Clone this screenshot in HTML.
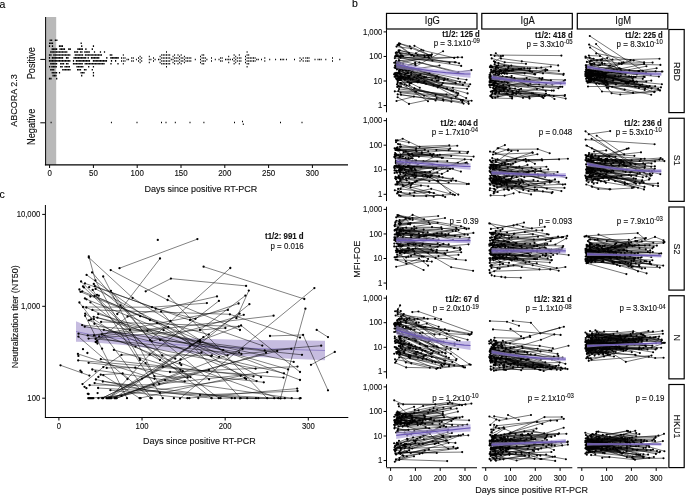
<!DOCTYPE html>
<html><head><meta charset="utf-8"><style>
html,body{margin:0;padding:0;background:#fff;width:685px;height:495px;overflow:hidden}
svg{display:block;font-family:"Liberation Sans", sans-serif}
text{stroke:#111;stroke-width:0.12px}
</style></head><body>
<svg width="685" height="495" viewBox="0 0 685 495">
<rect width="685" height="495" fill="#fff"/>
<g opacity="0.999">
<text x="-0.6" y="7.5" font-size="10.5" text-anchor="start" fill="#000" transform="translate(-0.6 7.5) scale(1 1.1) translate(0.6 -7.5)">a</text>
<text x="352.1" y="7.3" font-size="10.5" text-anchor="start" fill="#000" transform="translate(352.1 7.3) scale(1 1.1) translate(-352.1 -7.3)">b</text>
<text x="-0.6" y="198.4" font-size="10.5" text-anchor="start" fill="#000" transform="translate(-0.6 198.4) scale(1 1.1) translate(0.6 -198.4)">c</text>
<rect x="46" y="17" width="10.2" height="147.6" fill="#b9b9b9"/>
<line x1="45.6" y1="17" x2="45.6" y2="165.3" stroke="#000" stroke-width="1.0"/>
<line x1="44.9" y1="164.9" x2="348" y2="164.9" stroke="#000" stroke-width="1.2"/>
<line x1="40.3" y1="59.4" x2="45" y2="59.4" stroke="#000" stroke-width="1.0"/>
<line x1="40.3" y1="122.8" x2="45" y2="122.8" stroke="#000" stroke-width="1.0"/>
<line x1="49.6" y1="165" x2="49.6" y2="168" stroke="#000" stroke-width="1.0"/>
<text x="49.6" y="176" font-size="7.9" text-anchor="middle" fill="#111" transform="translate(49.6 176) scale(1 1.1) translate(-49.6 -176)">0</text>
<line x1="93.4" y1="165" x2="93.4" y2="168" stroke="#000" stroke-width="1.0"/>
<text x="93.4" y="176" font-size="7.9" text-anchor="middle" fill="#111" transform="translate(93.4 176) scale(1 1.1) translate(-93.4 -176)">50</text>
<line x1="137.2" y1="165" x2="137.2" y2="168" stroke="#000" stroke-width="1.0"/>
<text x="137.2" y="176" font-size="7.9" text-anchor="middle" fill="#111" transform="translate(137.2 176) scale(1 1.1) translate(-137.2 -176)">100</text>
<line x1="181" y1="165" x2="181" y2="168" stroke="#000" stroke-width="1.0"/>
<text x="181" y="176" font-size="7.9" text-anchor="middle" fill="#111" transform="translate(181 176) scale(1 1.1) translate(-181 -176)">150</text>
<line x1="224.8" y1="165" x2="224.8" y2="168" stroke="#000" stroke-width="1.0"/>
<text x="224.8" y="176" font-size="7.9" text-anchor="middle" fill="#111" transform="translate(224.8 176) scale(1 1.1) translate(-224.8 -176)">200</text>
<line x1="268.6" y1="165" x2="268.6" y2="168" stroke="#000" stroke-width="1.0"/>
<text x="268.6" y="176" font-size="7.9" text-anchor="middle" fill="#111" transform="translate(268.6 176) scale(1 1.1) translate(-268.6 -176)">250</text>
<line x1="312.4" y1="165" x2="312.4" y2="168" stroke="#000" stroke-width="1.0"/>
<text x="312.4" y="176" font-size="7.9" text-anchor="middle" fill="#111" transform="translate(312.4 176) scale(1 1.1) translate(-312.4 -176)">300</text>
<text x="200.9" y="192" font-size="9" text-anchor="middle" fill="#111" transform="translate(200.9 192) scale(1 1.1) translate(-200.9 -192)">Days since positive RT-PCR</text>
<text x="35.1" y="63.2" font-size="9.2" text-anchor="middle" fill="#111" transform="rotate(-90 35.1 63.2) translate(35.1 63.2) scale(1 1.1) translate(-35.1 -63.2)">Positive</text>
<text x="34.8" y="126.8" font-size="9.2" text-anchor="middle" fill="#111" transform="rotate(-90 34.8 126.8) translate(34.8 126.8) scale(1 1.1) translate(-34.8 -126.8)">Negative</text>
<text x="17.1" y="100.5" font-size="9" text-anchor="middle" fill="#111" transform="rotate(-90 17.1 100.5) translate(17.1 100.5) scale(1 1.1) translate(-17.1 -100.5)">ABCORA 2.3</text>
<path d="M49.58 40.2h1.24M51.03 40.2h1.24M54.78 40.2h1.24M56.23 40.2h1.24M48.98 43.2h1.24M50.43 43.2h1.24M51.88 43.2h1.24M80.58 43.2h1.24M48.88 46.1h1.24M51.88 46.1h1.24M58.88 46.1h1.24M60.33 46.1h1.24M61.78 46.1h1.24M81.08 46.1h1.24M92.83 46.1h1.24M51.63 49.1h1.24M53.08 49.1h1.24M54.53 49.1h1.24M55.98 49.1h1.24M59.48 49.1h1.24M60.93 49.1h1.24M62.38 49.1h1.24M63.83 49.1h1.24M68.18 49.1h1.24M69.63 49.1h1.24M77.33 49.1h1.24M78.78 49.1h1.24M80.23 49.1h1.24M81.68 49.1h1.24M85.28 49.1h1.24M91.68 49.1h1.24M50.18 52.0h1.24M51.63 52.0h1.24M53.08 52.0h1.24M54.53 52.0h1.24M55.98 52.0h1.24M57.43 52.0h1.24M58.88 52.0h1.24M60.33 52.0h1.24M61.78 52.0h1.24M63.23 52.0h1.24M64.68 52.0h1.24M66.13 52.0h1.24M74.08 52.0h1.24M75.53 52.0h1.24M76.98 52.0h1.24M79.88 52.0h1.24M81.33 52.0h1.24M84.23 52.0h1.24M85.68 52.0h1.24M87.13 52.0h1.24M88.58 52.0h1.24M93.88 52.0h1.24M99.83 52.0h1.24M103.88 52.0h1.24M48.88 55.0h1.24M50.33 55.0h1.24M53.23 55.0h1.24M54.68 55.0h1.24M56.13 55.0h1.24M57.58 55.0h1.24M59.03 55.0h1.24M60.48 55.0h1.24M61.93 55.0h1.24M63.38 55.0h1.24M64.83 55.0h1.24M66.28 55.0h1.24M67.73 55.0h1.24M69.18 55.0h1.24M74.68 55.0h1.24M76.13 55.0h1.24M77.58 55.0h1.24M79.03 55.0h1.24M80.48 55.0h1.24M81.93 55.0h1.24M84.83 55.0h1.24M86.28 55.0h1.24M87.73 55.0h1.24M89.18 55.0h1.24M90.63 55.0h1.24M92.08 55.0h1.24M93.53 55.0h1.24M94.98 55.0h1.24M96.43 55.0h1.24M97.88 55.0h1.24M99.33 55.0h1.24M100.78 55.0h1.24M109.68 55.0h1.24M111.13 55.0h1.24M48.88 57.9h1.24M51.78 57.9h1.24M53.23 57.9h1.24M54.68 57.9h1.24M56.13 57.9h1.24M57.58 57.9h1.24M59.03 57.9h1.24M60.48 57.9h1.24M61.93 57.9h1.24M65.88 57.9h1.24M67.33 57.9h1.24M73.48 57.9h1.24M74.93 57.9h1.24M76.38 57.9h1.24M77.83 57.9h1.24M79.28 57.9h1.24M80.73 57.9h1.24M82.18 57.9h1.24M83.63 57.9h1.24M85.08 57.9h1.24M87.58 57.9h1.24M90.88 57.9h1.24M92.33 57.9h1.24M93.78 57.9h1.24M95.23 57.9h1.24M96.68 57.9h1.24M98.13 57.9h1.24M106.18 57.9h1.24M110.28 57.9h1.24M111.73 57.9h1.24M113.18 57.9h1.24M114.63 57.9h1.24M116.08 57.9h1.24M117.53 57.9h1.24M48.88 60.9h1.24M50.33 60.9h1.24M51.78 60.9h1.24M53.23 60.9h1.24M54.68 60.9h1.24M56.13 60.9h1.24M57.58 60.9h1.24M59.03 60.9h1.24M60.48 60.9h1.24M61.93 60.9h1.24M63.38 60.9h1.24M64.83 60.9h1.24M66.28 60.9h1.24M67.73 60.9h1.24M69.18 60.9h1.24M72.88 60.9h1.24M75.78 60.9h1.24M77.23 60.9h1.24M78.68 60.9h1.24M80.13 60.9h1.24M81.58 60.9h1.24M83.03 60.9h1.24M84.48 60.9h1.24M85.93 60.9h1.24M87.38 60.9h1.24M88.83 60.9h1.24M92.78 60.9h1.24M94.23 60.9h1.24M95.68 60.9h1.24M97.13 60.9h1.24M98.58 60.9h1.24M100.03 60.9h1.24M101.48 60.9h1.24M102.93 60.9h1.24M104.38 60.9h1.24M105.83 60.9h1.24M110.88 60.9h1.24M114.98 60.9h1.24M50.18 63.8h1.24M51.63 63.8h1.24M53.08 63.8h1.24M54.53 63.8h1.24M55.98 63.8h1.24M60.08 63.8h1.24M61.53 63.8h1.24M62.98 63.8h1.24M65.88 63.8h1.24M67.33 63.8h1.24M72.88 63.8h1.24M74.33 63.8h1.24M75.78 63.8h1.24M77.23 63.8h1.24M78.68 63.8h1.24M80.13 63.8h1.24M81.58 63.8h1.24M84.58 63.8h1.24M86.03 63.8h1.24M87.48 63.8h1.24M88.93 63.8h1.24M90.38 63.8h1.24M91.83 63.8h1.24M93.28 63.8h1.24M94.73 63.8h1.24M96.18 63.8h1.24M97.63 63.8h1.24M99.08 63.8h1.24M100.53 63.8h1.24M101.98 63.8h1.24M103.43 63.8h1.24M110.38 63.8h1.24M117.38 63.8h1.24M49.03 66.8h1.24M51.28 66.8h1.24M52.73 66.8h1.24M54.18 66.8h1.24M55.63 66.8h1.24M60.08 66.8h1.24M61.53 66.8h1.24M64.43 66.8h1.24M65.88 66.8h1.24M67.33 66.8h1.24M68.78 66.8h1.24M76.38 66.8h1.24M77.83 66.8h1.24M79.28 66.8h1.24M80.73 66.8h1.24M82.18 66.8h1.24M88.08 66.8h1.24M92.83 66.8h1.24M50.18 69.7h1.24M51.63 69.7h1.24M53.08 69.7h1.24M62.13 69.7h1.24M63.58 69.7h1.24M65.03 69.7h1.24M66.48 69.7h1.24M67.93 69.7h1.24M69.38 69.7h1.24M76.98 69.7h1.24M78.43 69.7h1.24M79.88 69.7h1.24M83.88 69.7h1.24M85.33 69.7h1.24M91.68 69.7h1.24M51.63 72.7h1.24M53.08 72.7h1.24M54.53 72.7h1.24M55.98 72.7h1.24M58.88 72.7h1.24M80.48 72.7h1.24M81.93 72.7h1.24M83.38 72.7h1.24M92.83 72.7h1.24M52.48 75.6h1.24M53.93 75.6h1.24M55.38 75.6h1.24M81.08 75.6h1.24M92.83 75.6h1.24M48.88 78.6h1.24M50.33 78.6h1.24M56.08 78.6h1.24" stroke="#000" stroke-width="1.6" fill="none"/>
<path d="M121.00 57.9h1.0M121.00 60.9h1.0M122.80 55.0h1.0M122.80 57.9h1.0M122.80 60.9h1.0M122.80 63.8h1.0M124.50 57.9h1.0M124.50 60.9h1.0M126.50 59.4h1.0M128.10 59.4h1.0M131.20 57.9h1.0M131.20 60.9h1.0M132.80 57.9h1.0M132.80 60.9h1.0M135.90 59.4h1.0M138.00 57.9h1.0M138.00 60.9h1.0M139.60 56.4h1.0M139.60 59.4h1.0M139.60 62.4h1.0M141.20 57.9h1.0M141.20 60.9h1.0M148.80 56.4h1.0M148.80 59.4h1.0M148.80 62.4h1.0M150.40 59.4h1.0M153.00 57.9h1.0M153.00 60.9h1.0M154.60 59.4h1.0M158.00 59.4h1.0M159.60 56.4h1.0M159.60 59.4h1.0M159.60 62.4h1.0M161.20 55.0h1.0M161.20 57.9h1.0M161.20 60.9h1.0M161.20 63.8h1.0M162.80 55.0h1.0M162.80 57.9h1.0M162.80 60.9h1.0M162.80 63.8h1.0M164.40 55.0h1.0M164.40 57.9h1.0M164.40 60.9h1.0M164.40 63.8h1.0M166.00 52.0h1.0M166.00 55.0h1.0M166.00 57.9h1.0M166.00 60.9h1.0M166.00 63.8h1.0M166.00 66.8h1.0M167.60 55.0h1.0M167.60 57.9h1.0M167.60 60.9h1.0M167.60 63.8h1.0M169.20 55.0h1.0M169.20 57.9h1.0M169.20 60.9h1.0M169.20 63.8h1.0M170.80 59.4h1.0M172.50 56.4h1.0M172.50 59.4h1.0M172.50 62.4h1.0M174.10 55.0h1.0M174.10 57.9h1.0M174.10 60.9h1.0M174.10 63.8h1.0M175.70 57.9h1.0M175.70 60.9h1.0M177.50 55.0h1.0M177.50 57.9h1.0M177.50 60.9h1.0M177.50 63.8h1.0M179.10 56.4h1.0M179.10 59.4h1.0M179.10 62.4h1.0M180.70 55.0h1.0M180.70 57.9h1.0M180.70 60.9h1.0M180.70 63.8h1.0M182.30 57.9h1.0M182.30 60.9h1.0M183.90 56.4h1.0M183.90 59.4h1.0M183.90 62.4h1.0M185.50 57.9h1.0M185.50 60.9h1.0M187.10 57.9h1.0M187.10 60.9h1.0M188.70 57.9h1.0M188.70 60.9h1.0M190.30 57.9h1.0M190.30 60.9h1.0M194.80 59.4h1.0M200.00 56.4h1.0M200.00 59.4h1.0M200.00 62.4h1.0M201.60 55.0h1.0M201.60 57.9h1.0M201.60 60.9h1.0M201.60 63.8h1.0M203.20 55.0h1.0M203.20 57.9h1.0M203.20 60.9h1.0M203.20 63.8h1.0M204.80 57.9h1.0M204.80 60.9h1.0M206.40 59.4h1.0M211.00 57.9h1.0M211.00 60.9h1.0M214.80 59.4h1.0M218.50 59.4h1.0M220.10 57.9h1.0M220.10 60.9h1.0M221.70 57.9h1.0M221.70 60.9h1.0M225.00 59.4h1.0M226.60 59.4h1.0M228.20 56.4h1.0M228.20 59.4h1.0M228.20 62.4h1.0M229.80 59.4h1.0M232.00 59.4h1.0M233.60 55.0h1.0M233.60 57.9h1.0M233.60 60.9h1.0M233.60 63.8h1.0M235.20 56.4h1.0M235.20 59.4h1.0M235.20 62.4h1.0M236.80 57.9h1.0M236.80 60.9h1.0M238.80 55.0h1.0M238.80 57.9h1.0M238.80 60.9h1.0M238.80 63.8h1.0M240.40 57.9h1.0M240.40 60.9h1.0M245.00 56.4h1.0M245.00 59.4h1.0M245.00 62.4h1.0M246.60 52.0h1.0M246.60 55.0h1.0M246.60 57.9h1.0M246.60 60.9h1.0M246.60 63.8h1.0M246.60 66.8h1.0M248.20 55.0h1.0M248.20 57.9h1.0M248.20 60.9h1.0M248.20 63.8h1.0M249.80 57.9h1.0M249.80 60.9h1.0M251.40 57.9h1.0M251.40 60.9h1.0M253.00 57.9h1.0M253.00 60.9h1.0M254.60 57.9h1.0M254.60 60.9h1.0M256.20 59.4h1.0M257.80 59.4h1.0M261.00 59.4h1.0M264.30 57.9h1.0M264.30 60.9h1.0M269.20 59.4h1.0M275.10 59.4h1.0M280.00 59.4h1.0M281.60 59.4h1.0M283.20 59.4h1.0M285.90 59.4h1.0M294.00 59.4h1.0M299.50 57.9h1.0M299.50 60.9h1.0M301.10 59.4h1.0M302.70 57.9h1.0M302.70 60.9h1.0M305.30 57.9h1.0M305.30 60.9h1.0M306.90 57.9h1.0M306.90 60.9h1.0M308.50 57.9h1.0M308.50 60.9h1.0M314.50 59.4h1.0M317.50 59.4h1.0M319.10 59.4h1.0M320.70 59.4h1.0M325.30 59.4h1.0M332.00 57.9h1.0M332.00 60.9h1.0M339.30 59.4h1.0M50.60 122.6h1.0M110.90 122.6h1.0M136.50 122.6h1.0M161.00 122.6h1.0M165.50 122.6h1.0M174.80 122.6h1.0M189.50 122.6h1.0M203.40 122.6h1.0M234.00 122.6h1.0M280.00 122.6h1.0M301.50 122.6h1.0M242.00 121.6h1.0M242.80 124.2h1.0" stroke="#000" stroke-width="1.5" fill="none"/>
<line x1="45.4" y1="205" x2="45.4" y2="417.5" stroke="#000" stroke-width="1.0"/>
<line x1="44.9" y1="417.5" x2="348.3" y2="417.5" stroke="#000" stroke-width="1.1"/>
<line x1="42.2" y1="214.4" x2="45" y2="214.4" stroke="#000" stroke-width="1.0"/>
<text x="40.2" y="217.1" font-size="7.7" text-anchor="end" fill="#111" transform="translate(40.2 217.1) scale(1 1.1) translate(-40.2 -217.1)">10,000</text>
<line x1="42.2" y1="306.3" x2="45" y2="306.3" stroke="#000" stroke-width="1.0"/>
<text x="40.2" y="309" font-size="7.7" text-anchor="end" fill="#111" transform="translate(40.2 309) scale(1 1.1) translate(-40.2 -309)">1,000</text>
<line x1="42.2" y1="398.2" x2="45" y2="398.2" stroke="#000" stroke-width="1.0"/>
<text x="40.2" y="400.9" font-size="7.7" text-anchor="end" fill="#111" transform="translate(40.2 400.9) scale(1 1.1) translate(-40.2 -400.9)">100</text>
<line x1="58.9" y1="417.5" x2="58.9" y2="420.5" stroke="#000" stroke-width="1.0"/>
<text x="58.9" y="428.9" font-size="7.7" text-anchor="middle" fill="#111" transform="translate(58.9 428.9) scale(1 1.1) translate(-58.9 -428.9)">0</text>
<line x1="142.03" y1="417.5" x2="142.03" y2="420.5" stroke="#000" stroke-width="1.0"/>
<text x="142.03" y="428.9" font-size="7.7" text-anchor="middle" fill="#111" transform="translate(142.03 428.9) scale(1 1.1) translate(-142.03 -428.9)">100</text>
<line x1="225.16" y1="417.5" x2="225.16" y2="420.5" stroke="#000" stroke-width="1.0"/>
<text x="225.16" y="428.9" font-size="7.7" text-anchor="middle" fill="#111" transform="translate(225.16 428.9) scale(1 1.1) translate(-225.16 -428.9)">200</text>
<line x1="308.29" y1="417.5" x2="308.29" y2="420.5" stroke="#000" stroke-width="1.0"/>
<text x="308.29" y="428.9" font-size="7.7" text-anchor="middle" fill="#111" transform="translate(308.29 428.9) scale(1 1.1) translate(-308.29 -428.9)">300</text>
<text x="199.4" y="443.6" font-size="9" text-anchor="middle" fill="#111" transform="translate(199.4 443.6) scale(1 1.1) translate(-199.4 -443.6)">Days since positive RT-PCR</text>
<text x="17.6" y="316.7" font-size="9" text-anchor="middle" fill="#111" transform="rotate(-90 17.6 316.7) translate(17.6 316.7) scale(1 1.1) translate(-17.6 -316.7)">Neutralization titer (NT50)</text>
<polygon points="76,321.2 90,327 100,329.7 130,333.5 150,335.5 175,337.3 200,338.7 250,340 290,340.3 325,340.7 325,360.3 290,358.7 250,356.6 200,353.9 175,351.7 150,348.5 130,345.5 100,342.9 90,342 76,341.8" fill="#c6bce0"/>
<polyline points="76,331.5 90,334.5 100,336.3 130,339.5 150,342 175,344.5 200,346.3 250,348.3 290,349.5 325,350.5" fill="none" stroke="#7d6bbd" stroke-width="0.7"/>
<path d="M86.3 307.5L256.6 381.1M103.8 329.8L211.2 356.1M211.2 356.1L284 373.3M92.4 309.9L229.9 314.3M229.9 314.3L300 337.6M92.1 272.4L120.5 305.4M120.5 305.4L151.8 341.3M151.8 341.3L243.8 314.8M78.5 333.7L255.6 368.7M139.7 358.7L145.6 363.1M145.6 363.1L159.2 384M159.2 384L267.3 372.2M94 335.5L170.5 321M170.5 321L227.9 309.9M102.2 398.2L180.6 359.4M180.6 359.4L249.4 304.2M94.5 295.9L157.1 323M157.1 323L246.2 379M101.8 334.4L181.3 365M88.3 398.2L121.5 395.9M121.5 395.9L182.7 371M109.7 398.2L149.7 354.5M149.7 354.5L218.9 300.9M111.5 398.2L165.1 380.2M165.1 380.2L277.2 351M77.9 353.9L154.5 378.8M114.5 398.2L198 341.5M198 341.5L241.1 325.5M241.1 325.5L300 372M82.1 325.1L147.4 330.9M147.4 330.9L293.7 361.9M80.5 291.8L140.2 316.2M140.2 316.2L208.8 334.6M95.7 342L127.6 316.5M127.6 316.5L217 296.4M85.2 313.7L135.5 346.6M135.5 346.6L190.4 377.1M103.3 375.2L139.6 398.2M139.6 398.2L240.7 375.8M94.8 286.2L155.7 308.6M155.7 308.6L195.5 318.8M101.1 321.9L238.8 326.5M109.3 398.2L266 352.8M88.6 338.6L225.4 328M93.7 316.8L200 341.5M200 341.5L300 380M97.4 317.7L227.6 355.3M94.6 383.1L211.4 398.2M211.4 398.2L284.8 398.2M106.6 398.2L189.8 346.4M189.8 346.4L239.6 313.7M78.2 360.4L283.5 377.6M103.2 276.5L154.4 376.2M154.4 376.2L187.7 377.5M95.6 288.9L261 377.2M108.2 398.2L162.9 366.7M162.9 366.7L201.5 352.4M93.8 283.9L209.1 379.3M95.6 338.9L241.4 354M241.4 354L291.3 348.8M100.8 359.2L253.5 376.4M98.2 314.1L288.1 369.4M89 320.3L175.3 358.7M100.7 374.7L122.6 373.5M122.6 373.5L150.5 398.2M110.9 290.8L162.2 355.5M162.2 355.5L218.8 398.2M82.5 384.1L103.3 367.1M103.3 367.1L121.5 354.9M121.5 354.9L211.9 355.3M98.4 398.2L244.8 378M106.7 367.9L135.3 367.7M135.3 367.7L184.7 381.4M78.4 336.6L127.5 379M86.5 299.3L163.6 330.2M163.6 330.2L219.1 356.8M89.6 385.2L153.5 384.8M95.9 379.5L159.9 392.8M159.9 392.8L256 398.2M84.7 326.7L239.2 352.4M99.1 336.3L273.6 315.7M87.7 335.4L168.2 327.2M98.1 388L274.2 398.2M113.9 349.9L180.4 369.8M102.8 381.5L234.9 398.2M85 283.4L262.3 345.6M88.6 362.8L263.8 382.3M115.9 398.2L208.9 369.9M102.2 398.2L142 378.6M142 378.6L203.4 337.2M82.3 291.3L223.2 350.1M110.4 390.2L187.4 398.2M187.4 398.2L297.2 388.6M83 307L152 307.2M152 307.2L206.9 303.1M116.7 398.2L242.6 349M85.1 315.8L127 398.2M79.4 302.5L151.7 398.2M92.7 289.9L162.8 398.2M90.4 302.3L211.7 398.2M161.1 311.6L240.6 398.2M168.8 296.2L267.2 398.2M179.8 362.9L278.3 398.2M92.3 369.5L291.7 398.2M119.5 268.2L197.4 239.1M117.3 314L160 258.5M88.8 256.3L95.4 280.4M95.4 280.4L140 360M88.8 257.5L132.6 297.9M132.6 297.9L200 340M110.7 270.1L167.6 300M167.6 300L240 330M145.7 291.3L170.9 278.6M170.9 278.6L246.1 285.9M203.6 266.7L304.3 299M150 340L230.3 268M248.8 290.6L236.4 318.2M316.7 329.9L328 337.1M270 336L303.1 334.9M303.1 334.9L328 390.3M311 364.8L334.8 351.9M200 342L264.7 350.3M264.7 350.3L321.2 345.7M180 398.4L314.4 288.1M305.4 308.7L280.5 398.4M200 330L245.4 295.6M190 320L238.6 303.5M160 340L302 354.8M170 372L297.5 366.6M200 395L297.5 391M240 398.4L299.7 398.4M86.6 274.9L150 320M81.1 281.5L130 330M84 287.4L160 360M60.5 365.3L89.4 375.6" stroke="#000" stroke-width="0.5" fill="none"/>
<path d="M86.3 307.5h0M256.6 381.1h0M103.8 329.8h0M211.2 356.1h0M284 373.3h0M92.4 309.9h0M229.9 314.3h0M300 337.6h0M92.1 272.4h0M120.5 305.4h0M151.8 341.3h0M243.8 314.8h0M78.5 333.7h0M255.6 368.7h0M139.7 358.7h0M145.6 363.1h0M159.2 384h0M267.3 372.2h0M94 335.5h0M170.5 321h0M227.9 309.9h0M102.2 398.2h0M180.6 359.4h0M249.4 304.2h0M94.5 295.9h0M157.1 323h0M246.2 379h0M101.8 334.4h0M181.3 365h0M88.3 398.2h0M121.5 395.9h0M182.7 371h0M109.7 398.2h0M149.7 354.5h0M218.9 300.9h0M111.5 398.2h0M165.1 380.2h0M277.2 351h0M77.9 353.9h0M154.5 378.8h0M114.5 398.2h0M198 341.5h0M241.1 325.5h0M300 372h0M82.1 325.1h0M147.4 330.9h0M293.7 361.9h0M80.5 291.8h0M140.2 316.2h0M208.8 334.6h0M95.7 342h0M127.6 316.5h0M217 296.4h0M85.2 313.7h0M135.5 346.6h0M190.4 377.1h0M103.3 375.2h0M139.6 398.2h0M240.7 375.8h0M94.8 286.2h0M155.7 308.6h0M195.5 318.8h0M101.1 321.9h0M238.8 326.5h0M109.3 398.2h0M266 352.8h0M88.6 338.6h0M225.4 328h0M93.7 316.8h0M200 341.5h0M300 380h0M97.4 317.7h0M227.6 355.3h0M94.6 383.1h0M211.4 398.2h0M284.8 398.2h0M106.6 398.2h0M189.8 346.4h0M239.6 313.7h0M78.2 360.4h0M283.5 377.6h0M103.2 276.5h0M154.4 376.2h0M187.7 377.5h0M95.6 288.9h0M261 377.2h0M108.2 398.2h0M162.9 366.7h0M201.5 352.4h0M93.8 283.9h0M209.1 379.3h0M95.6 338.9h0M241.4 354h0M291.3 348.8h0M100.8 359.2h0M253.5 376.4h0M98.2 314.1h0M288.1 369.4h0M89 320.3h0M175.3 358.7h0M100.7 374.7h0M122.6 373.5h0M150.5 398.2h0M110.9 290.8h0M162.2 355.5h0M218.8 398.2h0M82.5 384.1h0M103.3 367.1h0M121.5 354.9h0M211.9 355.3h0M98.4 398.2h0M244.8 378h0M106.7 367.9h0M135.3 367.7h0M184.7 381.4h0M78.4 336.6h0M127.5 379h0M86.5 299.3h0M163.6 330.2h0M219.1 356.8h0M89.6 385.2h0M153.5 384.8h0M95.9 379.5h0M159.9 392.8h0M256 398.2h0M84.7 326.7h0M239.2 352.4h0M99.1 336.3h0M273.6 315.7h0M87.7 335.4h0M168.2 327.2h0M98.1 388h0M274.2 398.2h0M113.9 349.9h0M180.4 369.8h0M102.8 381.5h0M234.9 398.2h0M85 283.4h0M262.3 345.6h0M88.6 362.8h0M263.8 382.3h0M115.9 398.2h0M208.9 369.9h0M102.2 398.2h0M142 378.6h0M203.4 337.2h0M82.3 291.3h0M223.2 350.1h0M110.4 390.2h0M187.4 398.2h0M297.2 388.6h0M83 307h0M152 307.2h0M206.9 303.1h0M116.7 398.2h0M242.6 349h0M127 398.2h0M85.1 315.8h0M140.6 398.2h0M151.7 398.2h0M79.4 302.5h0M162.8 398.2h0M92.7 289.9h0M173.9 398.2h0M189.4 398.2h0M198.3 398.2h0M211.7 398.2h0M90.4 302.3h0M220.6 398.2h0M231.7 398.2h0M240.6 398.2h0M161.1 311.6h0M247.2 398.2h0M258.3 398.2h0M267.2 398.2h0M168.8 296.2h0M278.3 398.2h0M179.8 362.9h0M291.7 398.2h0M92.3 369.5h0M300.6 398.2h0M110.6 398.2h0M89.7 398.2h0M106.5 398.2h0M93.3 398.2h0M90.9 398.2h0M115.7 398.2h0M92.1 398.2h0M103.2 398.2h0M103.2 398.2h0M102.3 398.2h0M78.4 355.9h0M87.8 393.8h0M94.4 323.8h0M97.6 393.1h0M83 286.5h0M84.9 298.4h0M102.1 348.7h0M83 349.2h0M84.5 386.8h0M80.4 370.7h0M97.4 343.5h0M88.6 394h0M89.2 287.2h0M79.4 289.5h0M81.6 372.2h0M90.4 296.5h0M93.9 319.1h0M91 319.5h0M95.5 371.3h0M86.4 388.2h0M87.4 353h0M98.8 295.7h0M97 294.8h0M98.4 376.9h0M97.1 341h0M157.8 239.9h0M119.5 268.2h0M197.4 239.1h0M117.3 314h0M160 258.5h0M88.8 256.3h0M95.4 280.4h0M140 360h0M88.8 257.5h0M132.6 297.9h0M200 340h0M110.7 270.1h0M167.6 300h0M240 330h0M145.7 291.3h0M170.9 278.6h0M246.1 285.9h0M203.6 266.7h0M304.3 299h0M150 340h0M230.3 268h0M248.8 290.6h0M236.4 318.2h0M316.7 329.9h0M328 337.1h0M270 336h0M303.1 334.9h0M328 390.3h0M311 364.8h0M334.8 351.9h0M200 342h0M264.7 350.3h0M321.2 345.7h0M180 398.4h0M314.4 288.1h0M305.4 308.7h0M280.5 398.4h0M200 330h0M245.4 295.6h0M190 320h0M238.6 303.5h0M160 340h0M302 354.8h0M170 372h0M297.5 366.6h0M200 395h0M297.5 391h0M240 398.4h0M299.7 398.4h0M86.6 274.9h0M150 320h0M81.1 281.5h0M130 330h0M84 287.4h0M160 360h0M60.5 365.3h0M89.4 375.6h0" stroke="#000" stroke-width="2.3" stroke-linecap="round" fill="none"/>
<text x="303.7" y="239.3" font-size="7.9" text-anchor="end" font-weight="bold" fill="#111" transform="translate(303.7 239.3) scale(1 1.1) translate(-303.7 -239.3)">t1/2: 991 d</text>
<text x="303.7" y="249.1" font-size="7.9" text-anchor="end" fill="#111" transform="translate(303.7 249.1) scale(1 1.1) translate(-303.7 -249.1)">p = 0.016</text>
<rect x="386.5" y="13.4" width="90.5" height="15.6" fill="#fff" stroke="#000" stroke-width="1.2"/>
<text x="432.35" y="23.8" font-size="9.4" text-anchor="middle" fill="#111" transform="translate(432.35 23.8) scale(1 1.1) translate(-432.35 -23.8)">IgG</text>
<rect x="481.8" y="13.4" width="90.5" height="15.6" fill="#fff" stroke="#000" stroke-width="1.2"/>
<text x="527.65" y="23.8" font-size="9.4" text-anchor="middle" fill="#111" transform="translate(527.65 23.8) scale(1 1.1) translate(-527.65 -23.8)">IgA</text>
<rect x="577.3" y="13.4" width="90.5" height="15.6" fill="#fff" stroke="#000" stroke-width="1.2"/>
<text x="623.15" y="23.8" font-size="9.4" text-anchor="middle" fill="#111" transform="translate(623.15 23.8) scale(1 1.1) translate(-623.15 -23.8)">IgM</text>
<rect x="668.9" y="29.5" width="15.3" height="83.1" fill="#fff" stroke="#000" stroke-width="1.2"/>
<text x="674" y="71.55" font-size="9" text-anchor="middle" fill="#111" transform="rotate(90 674 71.55) translate(674 71.55) scale(1 1.1) translate(-674 -71.55)">RBD</text>
<rect x="668.9" y="118.25" width="15.3" height="83.1" fill="#fff" stroke="#000" stroke-width="1.2"/>
<text x="674" y="160.3" font-size="9" text-anchor="middle" fill="#111" transform="rotate(90 674 160.3) translate(674 160.3) scale(1 1.1) translate(-674 -160.3)">S1</text>
<rect x="668.9" y="207" width="15.3" height="83.1" fill="#fff" stroke="#000" stroke-width="1.2"/>
<text x="674" y="249.05" font-size="9" text-anchor="middle" fill="#111" transform="rotate(90 674 249.05) translate(674 249.05) scale(1 1.1) translate(-674 -249.05)">S2</text>
<rect x="668.9" y="295.75" width="15.3" height="83.1" fill="#fff" stroke="#000" stroke-width="1.2"/>
<text x="674" y="337.8" font-size="9" text-anchor="middle" fill="#111" transform="rotate(90 674 337.8) translate(674 337.8) scale(1 1.1) translate(-674 -337.8)">N</text>
<rect x="668.9" y="384.5" width="15.3" height="83.1" fill="#fff" stroke="#000" stroke-width="1.2"/>
<text x="674" y="426.55" font-size="9" text-anchor="middle" fill="#111" transform="rotate(90 674 426.55) translate(674 426.55) scale(1 1.1) translate(-674 -426.55)">HKU1</text>
<line x1="386.5" y1="29.2" x2="386.5" y2="112.3" stroke="#000" stroke-width="1.0"/>
<line x1="383.6" y1="31.9" x2="386.2" y2="31.9" stroke="#000" stroke-width="1.0"/>
<text x="382.2" y="34.6" font-size="7.7" text-anchor="end" fill="#111" transform="translate(382.2 34.6) scale(1 1.1) translate(-382.2 -34.6)">1,000</text>
<line x1="383.6" y1="56.45" x2="386.2" y2="56.45" stroke="#000" stroke-width="1.0"/>
<text x="382.2" y="59.15" font-size="7.7" text-anchor="end" fill="#111" transform="translate(382.2 59.15) scale(1 1.1) translate(-382.2 -59.15)">100</text>
<line x1="383.6" y1="81" x2="386.2" y2="81" stroke="#000" stroke-width="1.0"/>
<text x="382.2" y="83.7" font-size="7.7" text-anchor="end" fill="#111" transform="translate(382.2 83.7) scale(1 1.1) translate(-382.2 -83.7)">10</text>
<line x1="383.6" y1="105.55" x2="386.2" y2="105.55" stroke="#000" stroke-width="1.0"/>
<text x="382.2" y="108.25" font-size="7.7" text-anchor="end" fill="#111" transform="translate(382.2 108.25) scale(1 1.1) translate(-382.2 -108.25)">1</text>
<line x1="386.5" y1="117.95" x2="386.5" y2="201.05" stroke="#000" stroke-width="1.0"/>
<line x1="383.6" y1="120.65" x2="386.2" y2="120.65" stroke="#000" stroke-width="1.0"/>
<text x="382.2" y="123.35" font-size="7.7" text-anchor="end" fill="#111" transform="translate(382.2 123.35) scale(1 1.1) translate(-382.2 -123.35)">1,000</text>
<line x1="383.6" y1="145.2" x2="386.2" y2="145.2" stroke="#000" stroke-width="1.0"/>
<text x="382.2" y="147.9" font-size="7.7" text-anchor="end" fill="#111" transform="translate(382.2 147.9) scale(1 1.1) translate(-382.2 -147.9)">100</text>
<line x1="383.6" y1="169.75" x2="386.2" y2="169.75" stroke="#000" stroke-width="1.0"/>
<text x="382.2" y="172.45" font-size="7.7" text-anchor="end" fill="#111" transform="translate(382.2 172.45) scale(1 1.1) translate(-382.2 -172.45)">10</text>
<line x1="383.6" y1="194.3" x2="386.2" y2="194.3" stroke="#000" stroke-width="1.0"/>
<text x="382.2" y="197" font-size="7.7" text-anchor="end" fill="#111" transform="translate(382.2 197) scale(1 1.1) translate(-382.2 -197)">1</text>
<line x1="386.5" y1="206.7" x2="386.5" y2="289.8" stroke="#000" stroke-width="1.0"/>
<line x1="383.6" y1="209.4" x2="386.2" y2="209.4" stroke="#000" stroke-width="1.0"/>
<text x="382.2" y="212.1" font-size="7.7" text-anchor="end" fill="#111" transform="translate(382.2 212.1) scale(1 1.1) translate(-382.2 -212.1)">1,000</text>
<line x1="383.6" y1="233.95" x2="386.2" y2="233.95" stroke="#000" stroke-width="1.0"/>
<text x="382.2" y="236.65" font-size="7.7" text-anchor="end" fill="#111" transform="translate(382.2 236.65) scale(1 1.1) translate(-382.2 -236.65)">100</text>
<line x1="383.6" y1="258.5" x2="386.2" y2="258.5" stroke="#000" stroke-width="1.0"/>
<text x="382.2" y="261.2" font-size="7.7" text-anchor="end" fill="#111" transform="translate(382.2 261.2) scale(1 1.1) translate(-382.2 -261.2)">10</text>
<line x1="383.6" y1="283.05" x2="386.2" y2="283.05" stroke="#000" stroke-width="1.0"/>
<text x="382.2" y="285.75" font-size="7.7" text-anchor="end" fill="#111" transform="translate(382.2 285.75) scale(1 1.1) translate(-382.2 -285.75)">1</text>
<line x1="386.5" y1="295.45" x2="386.5" y2="378.55" stroke="#000" stroke-width="1.0"/>
<line x1="383.6" y1="298.15" x2="386.2" y2="298.15" stroke="#000" stroke-width="1.0"/>
<text x="382.2" y="300.85" font-size="7.7" text-anchor="end" fill="#111" transform="translate(382.2 300.85) scale(1 1.1) translate(-382.2 -300.85)">1,000</text>
<line x1="383.6" y1="322.7" x2="386.2" y2="322.7" stroke="#000" stroke-width="1.0"/>
<text x="382.2" y="325.4" font-size="7.7" text-anchor="end" fill="#111" transform="translate(382.2 325.4) scale(1 1.1) translate(-382.2 -325.4)">100</text>
<line x1="383.6" y1="347.25" x2="386.2" y2="347.25" stroke="#000" stroke-width="1.0"/>
<text x="382.2" y="349.95" font-size="7.7" text-anchor="end" fill="#111" transform="translate(382.2 349.95) scale(1 1.1) translate(-382.2 -349.95)">10</text>
<line x1="383.6" y1="371.8" x2="386.2" y2="371.8" stroke="#000" stroke-width="1.0"/>
<text x="382.2" y="374.5" font-size="7.7" text-anchor="end" fill="#111" transform="translate(382.2 374.5) scale(1 1.1) translate(-382.2 -374.5)">1</text>
<line x1="386.5" y1="384.2" x2="386.5" y2="467.3" stroke="#000" stroke-width="1.0"/>
<line x1="383.6" y1="386.9" x2="386.2" y2="386.9" stroke="#000" stroke-width="1.0"/>
<text x="382.2" y="389.6" font-size="7.7" text-anchor="end" fill="#111" transform="translate(382.2 389.6) scale(1 1.1) translate(-382.2 -389.6)">1,000</text>
<line x1="383.6" y1="411.45" x2="386.2" y2="411.45" stroke="#000" stroke-width="1.0"/>
<text x="382.2" y="414.15" font-size="7.7" text-anchor="end" fill="#111" transform="translate(382.2 414.15) scale(1 1.1) translate(-382.2 -414.15)">100</text>
<line x1="383.6" y1="436" x2="386.2" y2="436" stroke="#000" stroke-width="1.0"/>
<text x="382.2" y="438.7" font-size="7.7" text-anchor="end" fill="#111" transform="translate(382.2 438.7) scale(1 1.1) translate(-382.2 -438.7)">10</text>
<line x1="383.6" y1="460.55" x2="386.2" y2="460.55" stroke="#000" stroke-width="1.0"/>
<text x="382.2" y="463.25" font-size="7.7" text-anchor="end" fill="#111" transform="translate(382.2 463.25) scale(1 1.1) translate(-382.2 -463.25)">1</text>
<line x1="386.5" y1="467.7" x2="477" y2="467.7" stroke="#000" stroke-width="1.1"/>
<line x1="390.6" y1="468" x2="390.6" y2="470.9" stroke="#000" stroke-width="1.0"/>
<text x="390.6" y="480.6" font-size="7.7" text-anchor="middle" fill="#111" transform="translate(390.6 480.6) scale(1 1.1) translate(-390.6 -480.6)">0</text>
<line x1="415.4" y1="468" x2="415.4" y2="470.9" stroke="#000" stroke-width="1.0"/>
<text x="415.4" y="480.6" font-size="7.7" text-anchor="middle" fill="#111" transform="translate(415.4 480.6) scale(1 1.1) translate(-415.4 -480.6)">100</text>
<line x1="440.2" y1="468" x2="440.2" y2="470.9" stroke="#000" stroke-width="1.0"/>
<text x="440.2" y="480.6" font-size="7.7" text-anchor="middle" fill="#111" transform="translate(440.2 480.6) scale(1 1.1) translate(-440.2 -480.6)">200</text>
<line x1="465" y1="468" x2="465" y2="470.9" stroke="#000" stroke-width="1.0"/>
<text x="465" y="480.6" font-size="7.7" text-anchor="middle" fill="#111" transform="translate(465 480.6) scale(1 1.1) translate(-465 -480.6)">300</text>
<line x1="481.8" y1="467.7" x2="572.3" y2="467.7" stroke="#000" stroke-width="1.1"/>
<line x1="485.7" y1="468" x2="485.7" y2="470.9" stroke="#000" stroke-width="1.0"/>
<text x="485.7" y="480.6" font-size="7.7" text-anchor="middle" fill="#111" transform="translate(485.7 480.6) scale(1 1.1) translate(-485.7 -480.6)">0</text>
<line x1="510.5" y1="468" x2="510.5" y2="470.9" stroke="#000" stroke-width="1.0"/>
<text x="510.5" y="480.6" font-size="7.7" text-anchor="middle" fill="#111" transform="translate(510.5 480.6) scale(1 1.1) translate(-510.5 -480.6)">100</text>
<line x1="535.3" y1="468" x2="535.3" y2="470.9" stroke="#000" stroke-width="1.0"/>
<text x="535.3" y="480.6" font-size="7.7" text-anchor="middle" fill="#111" transform="translate(535.3 480.6) scale(1 1.1) translate(-535.3 -480.6)">200</text>
<line x1="560.1" y1="468" x2="560.1" y2="470.9" stroke="#000" stroke-width="1.0"/>
<text x="560.1" y="480.6" font-size="7.7" text-anchor="middle" fill="#111" transform="translate(560.1 480.6) scale(1 1.1) translate(-560.1 -480.6)">300</text>
<line x1="577.3" y1="467.7" x2="667.8" y2="467.7" stroke="#000" stroke-width="1.1"/>
<line x1="581.8" y1="468" x2="581.8" y2="470.9" stroke="#000" stroke-width="1.0"/>
<text x="581.8" y="480.6" font-size="7.7" text-anchor="middle" fill="#111" transform="translate(581.8 480.6) scale(1 1.1) translate(-581.8 -480.6)">0</text>
<line x1="606.6" y1="468" x2="606.6" y2="470.9" stroke="#000" stroke-width="1.0"/>
<text x="606.6" y="480.6" font-size="7.7" text-anchor="middle" fill="#111" transform="translate(606.6 480.6) scale(1 1.1) translate(-606.6 -480.6)">100</text>
<line x1="631.4" y1="468" x2="631.4" y2="470.9" stroke="#000" stroke-width="1.0"/>
<text x="631.4" y="480.6" font-size="7.7" text-anchor="middle" fill="#111" transform="translate(631.4 480.6) scale(1 1.1) translate(-631.4 -480.6)">200</text>
<line x1="656.2" y1="468" x2="656.2" y2="470.9" stroke="#000" stroke-width="1.0"/>
<text x="656.2" y="480.6" font-size="7.7" text-anchor="middle" fill="#111" transform="translate(656.2 480.6) scale(1 1.1) translate(-656.2 -480.6)">300</text>
<text x="531.6" y="492.6" font-size="9" text-anchor="middle" fill="#111" transform="translate(531.6 492.6) scale(1 1.1) translate(-531.6 -492.6)">Days since positive RT-PCR</text>
<text x="359.6" y="259.2" font-size="9" text-anchor="middle" fill="#111" transform="rotate(-90 359.6 259.2) translate(359.6 259.2) scale(1 1.1) translate(-359.6 -259.2)">MFI-FOE</text>
<path d="M396.2 55.1L400.8 55.9M400.6 68L455.8 83.3M398 66.1L458.2 78.6M458.2 78.6L466.5 79.7M398 72.8L442.8 83M442.8 83L470.2 84.2M396.9 55.3L400.3 53.6M400.3 53.6L427.2 55.4M396.2 60.9L403.1 63.8M403.1 63.8L415.6 65.5M414.4 45.8L423.4 50.5M423.4 50.5L454.2 57.9M399 89L457.5 95.3M417.5 55L424.3 55.5M424.3 55.5L432.4 60.5M400 76.7L419.9 75.1M396.7 52.2L399.1 60.2M400.6 76L405.8 77.6M405.8 77.6L421.4 78.2M421.4 78.2L432 80M398.2 64.5L429.5 73.1M395.4 65.5L444.7 78.9M397.7 63.7L455.5 82.7M396.7 56.2L403.1 56.2M396.5 101L413.9 96.6M399.8 68.1L402 67.9M394.2 62.7L397.8 63.3M397.8 63.3L404 68.1M398.8 60.3L415.2 64.2M415.2 64.2L419.4 62.5M419.4 62.5L457.7 72.9M398.6 73.5L404.7 74.8M404.7 74.8L412.8 79.4M396.9 69.4L409.8 67.8M397.1 52.6L399.7 50.2M399.7 50.2L409 53M394.6 67.6L438.7 77.4M414.5 88.4L460.8 99.9M396.5 46.6L411.1 48.5M395.1 65.6L406.7 68.2M406.7 68.2L411.4 67.9M415.9 53.2L421.4 49.7M408.9 70L418.8 69.6M406.6 85.6L443 99.2M443 99.2L462.1 102M397.6 44.8L411.3 55.2M399 70.9L401.9 69.2M397.7 81.2L401.1 80M401.1 80L426.1 83.7M400.1 83L428 101.2M400.5 92.7L471.6 100.7M394.1 74.3L400.4 79.9M400.4 79.9L415.3 91.7M415.3 91.7L424.1 95.7M394.7 73.3L416.7 78.5M416.7 78.5L456.4 92.6M395.2 62.5L400.2 62.9M400.2 62.9L428.9 57.3M398.8 67.6L405.8 73.5M405.8 73.5L420.6 74.9M420.6 74.9L438.5 80.4M396.8 79.5L400.4 77.9M400.4 77.9L419.8 87.7M397.8 73.2L408.2 73M401 94.7L451.4 101.7M399.3 86.6L462.8 100.1M462.8 100.1L468.4 101.7M408.8 69.3L418.1 75.8M400.1 43.7L431.3 55.9M398.9 77.2L451.3 90.5M451.3 90.5L458.2 93.3M395.8 52.9L412.1 54.8M400.1 69.2L404.6 67.4M404.6 67.4L415.2 62.6M400.5 57.7L462.1 57.3M396.1 72.9L402.8 70.7M402.8 70.7L437 76.3M398.4 91L416.2 91.7M416.2 91.7L435.6 100.5M397.6 97.2L409 103.9M409 103.9L436.7 98.1M436.7 98.1L463.6 103.6M400.8 73.7L411.4 83.1M398 78.5L468.7 86.3M400.9 68.9L411.2 72.8M411.2 72.8L424.8 77.3M414.2 77.2L439.7 85.5M439.7 85.5L467.6 93.4M397.4 68.2L408.5 76.7M408.5 76.7L436.9 80.7M399.4 70.8L439.5 65.5M396.3 63.6L447.7 79.3M401.8 55.3L424.7 56.9M397.5 76.4L404.8 79.7M395.1 76.5L424.6 81.5M398.5 67.8L404.8 69.2M398 62.1L412.8 69.7M397 84.2L404.7 84.5M399.4 73.8L410 83M395.4 67.9L409.2 75.7M409.2 75.7L424.1 76.9M396.4 64.7L460 81.8M394.8 91.3L435.6 95.1M435.6 95.1L446.5 94.5M399.6 72L407.5 72.9M407.5 72.9L411.2 74.7M396.6 79.3L426 77.3M426 77.3L443.9 80.2M398.3 86.1L401.4 83.4M401.4 83.4L417.3 81.8M417.3 81.8L437.8 87.5M397.2 75.3L404.7 79.5M397.7 82.7L400.8 83M400.8 83L407.6 81.8M407.6 81.8L424 82.3M400.7 78.5L417.9 82.3M417.9 82.3L433.6 85.4M433.6 85.4L447.1 88.5M394.9 74.5L408.2 77.9M396.8 78.9L406.2 70.5M406.2 70.5L411.3 68.8M411.3 68.8L443.1 51.2M401 67.5L462.7 100.5M462.7 100.5L468.7 103.8M400 78.4L410.5 79.6M410.5 79.6L438.2 85.8M396.3 75.3L401.9 76.6M401.9 76.6L409.7 77M399 43.4L409.8 46.2M409.8 46.2L430.2 55.3M396.1 78.3L403.2 77.2M403.2 77.2L418.7 80.2M396.3 67.1L466.2 98.1M399.2 56.6L455.6 62.2M395.9 74.2L453.1 90.8M399.4 73.1L408.3 75.9M408.3 75.9L435.6 78M435.6 78L464.9 82.6M395.1 56.2L458.5 72.1M458.5 72.1L471.4 70.1M398.9 52L449.6 62.8M398.8 80.1L409.5 82.9M409.5 82.9L418.6 81.2M418.6 81.2L452.9 87.7M452.9 87.7L467.1 88.8M399 45.1L413.9 56.1M413.9 56.1L431.9 54.3M398.6 50.4L428.4 55.9M397.3 86.9L455.8 96.8M399.7 66.2L441.7 84.8M394.6 76.7L462.9 84.9M397.3 86.5L401 86.2M394.8 58.1L454.8 62.2M454.8 62.2L459.1 63.3M397.7 56L461.2 65.9M409.4 85L414.4 88.4M414.4 88.4L451.5 98.6M399.2 60.7L457.8 57.3M397.7 94.4L443.4 100.6" stroke="#000" stroke-width="0.55" fill="none"/>
<path d="M396.2 55.1h0M400.8 55.9h0M400.6 68h0M455.8 83.3h0M398 66.1h0M458.2 78.6h0M466.5 79.7h0M398 72.8h0M442.8 83h0M470.2 84.2h0M396.9 55.3h0M400.3 53.6h0M427.2 55.4h0M396.2 60.9h0M403.1 63.8h0M415.6 65.5h0M414.4 45.8h0M423.4 50.5h0M454.2 57.9h0M399 89h0M457.5 95.3h0M417.5 55h0M424.3 55.5h0M432.4 60.5h0M400 76.7h0M419.9 75.1h0M396.7 52.2h0M399.1 60.2h0M400.6 76h0M405.8 77.6h0M421.4 78.2h0M432 80h0M398.2 64.5h0M429.5 73.1h0M395.4 65.5h0M444.7 78.9h0M397.7 63.7h0M455.5 82.7h0M396.7 56.2h0M403.1 56.2h0M396.5 101h0M413.9 96.6h0M399.8 68.1h0M402 67.9h0M394.2 62.7h0M397.8 63.3h0M404 68.1h0M398.8 60.3h0M415.2 64.2h0M419.4 62.5h0M457.7 72.9h0M398.6 73.5h0M404.7 74.8h0M412.8 79.4h0M396.9 69.4h0M409.8 67.8h0M397.1 52.6h0M399.7 50.2h0M409 53h0M394.6 67.6h0M438.7 77.4h0M414.5 88.4h0M460.8 99.9h0M396.5 46.6h0M411.1 48.5h0M395.1 65.6h0M406.7 68.2h0M411.4 67.9h0M415.9 53.2h0M421.4 49.7h0M408.9 70h0M418.8 69.6h0M406.6 85.6h0M443 99.2h0M462.1 102h0M397.6 44.8h0M411.3 55.2h0M399 70.9h0M401.9 69.2h0M397.7 81.2h0M401.1 80h0M426.1 83.7h0M400.1 83h0M428 101.2h0M400.5 92.7h0M471.6 100.7h0M394.1 74.3h0M400.4 79.9h0M415.3 91.7h0M424.1 95.7h0M394.7 73.3h0M416.7 78.5h0M456.4 92.6h0M395.2 62.5h0M400.2 62.9h0M428.9 57.3h0M398.8 67.6h0M405.8 73.5h0M420.6 74.9h0M438.5 80.4h0M396.8 79.5h0M400.4 77.9h0M419.8 87.7h0M397.8 73.2h0M408.2 73h0M401 94.7h0M451.4 101.7h0M399.3 86.6h0M462.8 100.1h0M468.4 101.7h0M408.8 69.3h0M418.1 75.8h0M400.1 43.7h0M431.3 55.9h0M398.9 77.2h0M451.3 90.5h0M458.2 93.3h0M395.8 52.9h0M412.1 54.8h0M400.1 69.2h0M404.6 67.4h0M415.2 62.6h0M400.5 57.7h0M462.1 57.3h0M396.1 72.9h0M402.8 70.7h0M437 76.3h0M398.4 91h0M416.2 91.7h0M435.6 100.5h0M397.6 97.2h0M409 103.9h0M436.7 98.1h0M463.6 103.6h0M400.8 73.7h0M411.4 83.1h0M398 78.5h0M468.7 86.3h0M400.9 68.9h0M411.2 72.8h0M424.8 77.3h0M414.2 77.2h0M439.7 85.5h0M467.6 93.4h0M397.4 68.2h0M408.5 76.7h0M436.9 80.7h0M399.4 70.8h0M439.5 65.5h0M396.3 63.6h0M447.7 79.3h0M401.8 55.3h0M424.7 56.9h0M397.5 76.4h0M404.8 79.7h0M395.1 76.5h0M424.6 81.5h0M398.5 67.8h0M404.8 69.2h0M398 62.1h0M412.8 69.7h0M397 84.2h0M404.7 84.5h0M399.4 73.8h0M410 83h0M395.4 67.9h0M409.2 75.7h0M424.1 76.9h0M396.4 64.7h0M460 81.8h0M394.8 91.3h0M435.6 95.1h0M446.5 94.5h0M399.6 72h0M407.5 72.9h0M411.2 74.7h0M396.6 79.3h0M426 77.3h0M443.9 80.2h0M398.3 86.1h0M401.4 83.4h0M417.3 81.8h0M437.8 87.5h0M397.2 75.3h0M404.7 79.5h0M397.7 82.7h0M400.8 83h0M407.6 81.8h0M424 82.3h0M400.7 78.5h0M417.9 82.3h0M433.6 85.4h0M447.1 88.5h0M394.9 74.5h0M408.2 77.9h0M396.8 78.9h0M406.2 70.5h0M411.3 68.8h0M443.1 51.2h0M401 67.5h0M462.7 100.5h0M468.7 103.8h0M400 78.4h0M410.5 79.6h0M438.2 85.8h0M396.3 75.3h0M401.9 76.6h0M409.7 77h0M399 43.4h0M409.8 46.2h0M430.2 55.3h0M396.1 78.3h0M403.2 77.2h0M418.7 80.2h0M396.3 67.1h0M466.2 98.1h0M399.2 56.6h0M455.6 62.2h0M395.9 74.2h0M453.1 90.8h0M399.4 73.1h0M408.3 75.9h0M435.6 78h0M464.9 82.6h0M395.1 56.2h0M458.5 72.1h0M471.4 70.1h0M398.9 52h0M449.6 62.8h0M398.8 80.1h0M409.5 82.9h0M418.6 81.2h0M452.9 87.7h0M467.1 88.8h0M399 45.1h0M413.9 56.1h0M431.9 54.3h0M398.6 50.4h0M428.4 55.9h0M397.3 86.9h0M455.8 96.8h0M399.7 66.2h0M441.7 84.8h0M394.6 76.7h0M462.9 84.9h0M397.3 86.5h0M401 86.2h0M394.8 58.1h0M454.8 62.2h0M459.1 63.3h0M397.7 56h0M461.2 65.9h0M409.4 85h0M414.4 88.4h0M451.5 98.6h0M399.2 60.7h0M457.8 57.3h0M397.7 94.4h0M443.4 100.6h0" stroke="#000" stroke-width="2.15" stroke-linecap="round" fill="none"/>
<polygon points="396.2,60.7 402.4,62.6 408.6,64.2 414.8,65.7 421,67 427.2,68.2 433.4,69.1 439.5,69.8 445.7,70.3 451.9,70.6 458.1,70.7 464.3,70.6 470.5,70.2 470.5,77.8 464.3,77.2 458.1,76.5 451.9,75.8 445.7,75.1 439.5,74.3 433.4,73.5 427.2,72.6 421,71.8 414.8,70.9 408.6,70.1 402.4,69.2 396.2,68.3" fill="#a899d8" fill-opacity="0.65"/>
<polyline points="396.2,64.5 402.4,65.9 408.6,67.2 414.8,68.3 421,69.4 427.2,70.4 433.4,71.3 439.5,72 445.7,72.7 451.9,73.2 458.1,73.6 464.3,73.9 470.5,74" fill="none" stroke="#6c59b6" stroke-width="1.2"/>
<path d="M489.4 84.9L499.2 87.1M499.2 87.1L506.1 87.8M494.6 55.8L500.9 56.1M493.9 61.2L498.5 63.1M498.5 63.1L511.3 65.6M511.3 65.6L527.8 68.3M504.5 81.1L521.1 88.9M489.5 85.4L546.3 84M491.1 70L499.6 71.8M490.7 82.5L502.5 76.4M502.5 76.4L514.4 78.1M490.2 87.2L544.6 95.4M495.3 71.2L498.3 65.2M498.3 65.2L524.3 68.3M503.6 72.1L512.9 69.4M512.7 92L529.6 98.4M492.9 80.4L495.9 79.8M495.2 97.7L507.7 94M507.7 94L523 97.8M523 97.8L549.2 95.2M549.2 95.2L565.7 98.6M494.6 64.4L505.4 69.4M505.4 69.4L530 68.4M530 68.4L536.4 68.2M536.4 68.2L547.3 70M490.3 95.9L497.9 96.6M497.9 96.6L516.2 93.9M489.6 81.3L497 86.3M497 86.3L516.7 91.4M494.4 88.5L499.1 93M491.1 67.3L505.4 70.7M505.4 70.7L518.9 69M489.6 74.9L496.7 79.9M493.9 84.7L503.2 87.8M492.4 78.9L499.1 74.5M499.1 74.5L507.2 82.3M491.6 91.3L508 90.9M494.5 90.4L515.1 88.6M490.1 74.7L500.2 69.9M500.2 69.9L530.1 71.4M489.6 85.1L505 88.4M493.7 82.9L509.9 88.6M495.4 89L505.1 88.3M491.1 69.7L507 73.7M507 73.7L532.1 72M532.1 72L563.4 74.8M492.9 90.9L564.7 95.9M495.3 81.4L560.2 86.7M492.2 66.7L563.7 73.9M496.1 90.8L542.2 96.7M490.3 81.1L497.4 83.7M497.4 83.7L526.7 78M495.4 74.2L498.4 80.9M494.8 61.8L503 55.8M489.6 78L500.8 77.4M491.5 84.7L512 96.9M512 96.9L539 95.1M490.3 73L493.2 71.1M493.2 71.1L512.4 70.3M512.4 70.3L545.3 70.8M545.3 70.8L558.8 70.9M498.1 68L504.2 65.6M504.2 65.6L541.3 67.5M541.3 67.5L550.8 66.6M494.5 89.3L520.7 93.5M520.7 93.5L553.8 96.1M493.1 88L495.1 93.1M495.1 93.1L512.6 94.1M506.1 77.1L511.7 76M495.8 53.2L501 58.5M501 58.5L521.8 61.3M521.8 61.3L558.2 65.4M490.8 65.6L496.9 67M495.2 83L558.4 88.2M495.5 78.1L542.4 78.1M496.1 92.3L503.9 90.8M494 70.4L539.5 78.2M539.5 78.2L560.6 83.6M490.8 91.6L499.3 87.3M499.3 87.3L528 81.3M528 81.3L539.2 84.3M491 79.3L511.9 81M501.4 73.6L513.2 70.5M489.4 77.1L491.9 78.3M491.9 78.3L514.9 79.6M490.2 79.8L495.7 82.2M495.7 82.2L524.3 79.7M490.4 81.6L494 83.2M492.4 80.5L501.7 77.9M501.7 77.9L507 77M494 78.4L509.2 85.9M496.9 73.5L524.7 73.3M493.7 85.9L562.3 86.8M495.1 79.9L550.9 80.4M494.4 89.8L503.8 89.3M494.6 89L503.3 84.9M499.7 79.4L511.5 79.4M495.7 82.3L500.9 78.2M495.6 89L546 93.5M546 93.5L554.5 99M500.7 91L512.4 91.3M489.7 82.4L533 93.3M533 93.3L544.7 96.1M493 72.5L504.7 73.7M493.7 70.7L499.3 72.9M494 84.7L504.2 89.1M490.2 79L499.3 77.4M491.9 80.7L507.8 82.9M507.8 82.9L513.4 80M513.4 80L545.8 91M495.7 69L534.2 74.1M534.2 74.1L545.6 69.4M496 87.2L504.7 88.9M491.2 71.9L506 70.5M491.6 94.6L531.7 93.3M531.7 93.3L543.4 98M492.5 98L512.1 98.5M495.6 67.3L507.2 69.7M491.4 85L494.2 82.2M494.2 82.2L513.4 93M495.4 76.3L529.5 79.8M529.5 79.8L552.3 84.5M552.3 84.5L563.7 81.1M495.5 77.1L506.1 79.6M506.1 79.6L530.4 83.3M512 94.4L518.7 92M518.7 92L537 89.1M494.2 84.7L501.8 81.7M490.5 75.9L501.2 70.9M501.2 70.9L535.2 74.3M490.9 55L561.4 55.6M492.6 93.1L495 93.6M495 93.6L529.2 96.7M529.2 96.7L565 95.1M491.4 96.8L506.6 93.4M491.7 58.4L504.7 62.2M504.7 62.2L526 63.8M493.2 83L551.7 90.6M495.2 94L499.5 91.4M499.5 91.4L510.2 96.5M492.4 67.3L495.5 71.5M508.9 70.5L519.9 69.1M519.9 69.1L529.4 70.4M493.5 78.5L514.4 81M514.4 81L541.6 79.4M541.6 79.4L565.1 80M490.3 66.4L503.1 72.8M503.1 72.8L512 70.7M493.3 84.9L519.1 89.8M519.1 89.8L553.8 90.6M491 76.5L493.8 75.3M493.8 75.3L526.6 81M493.6 76.8L498.3 74.9M495 62.6L508.7 66.3M511.2 77.7L528.2 85.5M528.2 85.5L542.9 87.4M489.9 67.1L496.5 65.8M496.5 65.8L521.3 68.8M495.5 72.2L508.3 67.9M508.3 67.9L543 73.3" stroke="#000" stroke-width="0.55" fill="none"/>
<path d="M489.4 84.9h0M499.2 87.1h0M506.1 87.8h0M494.6 55.8h0M500.9 56.1h0M493.9 61.2h0M498.5 63.1h0M511.3 65.6h0M527.8 68.3h0M504.5 81.1h0M521.1 88.9h0M489.5 85.4h0M546.3 84h0M491.1 70h0M499.6 71.8h0M490.7 82.5h0M502.5 76.4h0M514.4 78.1h0M490.2 87.2h0M544.6 95.4h0M495.3 71.2h0M498.3 65.2h0M524.3 68.3h0M503.6 72.1h0M512.9 69.4h0M512.7 92h0M529.6 98.4h0M492.9 80.4h0M495.9 79.8h0M495.2 97.7h0M507.7 94h0M523 97.8h0M549.2 95.2h0M565.7 98.6h0M494.6 64.4h0M505.4 69.4h0M530 68.4h0M536.4 68.2h0M547.3 70h0M490.3 95.9h0M497.9 96.6h0M516.2 93.9h0M489.6 81.3h0M497 86.3h0M516.7 91.4h0M494.4 88.5h0M499.1 93h0M491.1 67.3h0M505.4 70.7h0M518.9 69h0M489.6 74.9h0M496.7 79.9h0M493.9 84.7h0M503.2 87.8h0M492.4 78.9h0M499.1 74.5h0M507.2 82.3h0M491.6 91.3h0M508 90.9h0M494.5 90.4h0M515.1 88.6h0M490.1 74.7h0M500.2 69.9h0M530.1 71.4h0M489.6 85.1h0M505 88.4h0M493.7 82.9h0M509.9 88.6h0M495.4 89h0M505.1 88.3h0M491.1 69.7h0M507 73.7h0M532.1 72h0M563.4 74.8h0M492.9 90.9h0M564.7 95.9h0M495.3 81.4h0M560.2 86.7h0M492.2 66.7h0M563.7 73.9h0M496.1 90.8h0M542.2 96.7h0M490.3 81.1h0M497.4 83.7h0M526.7 78h0M495.4 74.2h0M498.4 80.9h0M494.8 61.8h0M503 55.8h0M489.6 78h0M500.8 77.4h0M491.5 84.7h0M512 96.9h0M539 95.1h0M490.3 73h0M493.2 71.1h0M512.4 70.3h0M545.3 70.8h0M558.8 70.9h0M498.1 68h0M504.2 65.6h0M541.3 67.5h0M550.8 66.6h0M494.5 89.3h0M520.7 93.5h0M553.8 96.1h0M493.1 88h0M495.1 93.1h0M512.6 94.1h0M506.1 77.1h0M511.7 76h0M495.8 53.2h0M501 58.5h0M521.8 61.3h0M558.2 65.4h0M490.8 65.6h0M496.9 67h0M495.2 83h0M558.4 88.2h0M495.5 78.1h0M542.4 78.1h0M496.1 92.3h0M503.9 90.8h0M494 70.4h0M539.5 78.2h0M560.6 83.6h0M490.8 91.6h0M499.3 87.3h0M528 81.3h0M539.2 84.3h0M491 79.3h0M511.9 81h0M501.4 73.6h0M513.2 70.5h0M489.4 77.1h0M491.9 78.3h0M514.9 79.6h0M490.2 79.8h0M495.7 82.2h0M524.3 79.7h0M490.4 81.6h0M494 83.2h0M492.4 80.5h0M501.7 77.9h0M507 77h0M494 78.4h0M509.2 85.9h0M496.9 73.5h0M524.7 73.3h0M493.7 85.9h0M562.3 86.8h0M495.1 79.9h0M550.9 80.4h0M494.4 89.8h0M503.8 89.3h0M494.6 89h0M503.3 84.9h0M499.7 79.4h0M511.5 79.4h0M495.7 82.3h0M500.9 78.2h0M495.6 89h0M546 93.5h0M554.5 99h0M500.7 91h0M512.4 91.3h0M489.7 82.4h0M533 93.3h0M544.7 96.1h0M493 72.5h0M504.7 73.7h0M493.7 70.7h0M499.3 72.9h0M494 84.7h0M504.2 89.1h0M490.2 79h0M499.3 77.4h0M491.9 80.7h0M507.8 82.9h0M513.4 80h0M545.8 91h0M495.7 69h0M534.2 74.1h0M545.6 69.4h0M496 87.2h0M504.7 88.9h0M491.2 71.9h0M506 70.5h0M491.6 94.6h0M531.7 93.3h0M543.4 98h0M492.5 98h0M512.1 98.5h0M495.6 67.3h0M507.2 69.7h0M491.4 85h0M494.2 82.2h0M513.4 93h0M495.4 76.3h0M529.5 79.8h0M552.3 84.5h0M563.7 81.1h0M495.5 77.1h0M506.1 79.6h0M530.4 83.3h0M512 94.4h0M518.7 92h0M537 89.1h0M494.2 84.7h0M501.8 81.7h0M490.5 75.9h0M501.2 70.9h0M535.2 74.3h0M490.9 55h0M561.4 55.6h0M492.6 93.1h0M495 93.6h0M529.2 96.7h0M565 95.1h0M491.4 96.8h0M506.6 93.4h0M491.7 58.4h0M504.7 62.2h0M526 63.8h0M493.2 83h0M551.7 90.6h0M495.2 94h0M499.5 91.4h0M510.2 96.5h0M492.4 67.3h0M495.5 71.5h0M508.9 70.5h0M519.9 69.1h0M529.4 70.4h0M493.5 78.5h0M514.4 81h0M541.6 79.4h0M565.1 80h0M490.3 66.4h0M503.1 72.8h0M512 70.7h0M493.3 84.9h0M519.1 89.8h0M553.8 90.6h0M491 76.5h0M493.8 75.3h0M526.6 81h0M493.6 76.8h0M498.3 74.9h0M495 62.6h0M508.7 66.3h0M511.2 77.7h0M528.2 85.5h0M542.9 87.4h0M489.9 67.1h0M496.5 65.8h0M521.3 68.8h0M495.5 72.2h0M508.3 67.9h0M543 73.3h0" stroke="#000" stroke-width="2.15" stroke-linecap="round" fill="none"/>
<polygon points="491.5,74.9 497.7,76.1 503.9,77.1 510.1,78.1 516.3,78.9 522.5,79.6 528.6,80.1 534.8,80.6 541,80.9 547.2,81 553.4,81.1 559.6,81 565.8,80.8 565.8,85.6 559.6,85.3 553.4,85 547.2,84.6 541,84.2 534.8,83.8 528.6,83.3 522.5,82.8 516.3,82.3 510.1,81.7 503.9,81.1 497.7,80.4 491.5,79.7" fill="#a899d8" fill-opacity="0.65"/>
<polyline points="491.5,77.3 497.7,78.2 503.9,79.1 510.1,79.9 516.3,80.6 522.5,81.2 528.6,81.7 534.8,82.2 541,82.5 547.2,82.8 553.4,83 559.6,83.2 565.8,83.2" fill="none" stroke="#6c59b6" stroke-width="1.2"/>
<path d="M591.6 73.4L595.7 73.8M585.4 73.9L598.1 71.7M598.1 71.7L606.4 72.7M586.6 72.7L658.1 88.9M586.7 66.2L639.3 71.1M639.3 71.1L655.6 71.4M589.6 73.7L599.4 77.8M599.4 77.8L608.3 87.8M592.2 75.4L598.1 74.1M590.2 77.6L595.1 75.1M588.5 74.5L602.9 72.9M602.9 72.9L618.7 76.5M605.4 72.6L614.8 71.7M589.1 71.9L593.7 69.5M590.9 81L612.1 86.8M612.1 86.8L651.2 94.7M588.2 82.4L596.1 78.5M596.1 78.5L607.5 82.9M591.7 78.8L637.1 81.8M637.1 81.8L646.3 81.6M589.9 61.6L600.9 60.1M600.9 60.1L619 63.2M619 63.2L652.6 62.6M591.1 73L649.7 86.1M586.4 66.5L619.4 72.7M619.4 72.7L650.8 74.9M586.7 65.8L595.9 69.3M590.4 60.7L607.2 58.1M591.8 74.1L600.3 75.6M586.1 76.4L588.3 74.6M589.2 68L619.3 68.3M588.9 55.5L600 56M588.6 75.1L625.5 74.2M604.7 73.2L612.8 71.7M588.3 81L596.3 83.7M596.3 83.7L625.7 82.9M585.6 75.7L591.2 77.3M586.5 70.8L594.5 73.9M594.5 73.9L620.7 73M587.8 75.4L644.1 64M591.6 65.7L602.2 64.1M585.6 76L633.2 80.2M589.7 76.2L602 91.5M602 91.5L633 92.8M585.8 57.1L589.5 61.6M588.9 73.3L633.7 60.4M591.3 77.4L605.9 85.1M605.9 85.1L624.7 89.6M588.6 69.8L654.2 92.1M604.6 63.7L621.7 64M621.7 64L660.4 64.9M586.8 77.4L601.8 80.7M601.8 80.7L632.3 81.3M632.3 81.3L661.9 84.2M591.2 72.5L595.6 71.2M592 75.2L597.6 80.3M597.6 80.3L607.8 84.2M590.5 60.5L659.5 58.7M589.1 80.9L606.4 80.7M606.4 80.7L639 88M589.4 72.8L602.2 74.9M602.2 74.9L631.4 76.6M586.9 61.9L594.3 64.3M588.7 70.9L591.7 74.8M591.7 74.8L613 80.7M587.3 67.6L600 65.1M590.1 79.8L626.6 83.6M626.6 83.6L655.2 86.2M587.8 74.7L607.1 82.9M586.9 70.1L636.3 81.5M588.9 77.9L643.8 76.7M588.5 78.9L605.4 81.8M605.4 81.8L633.8 76.9M592 70.4L605.1 72.7M605.1 72.7L618.1 71.8M618.1 71.8L646.4 66.2M588 86.5L646.6 86.5M585.4 74.4L600.2 70.2M600.2 70.2L617.4 71.6M590.6 70.5L658.9 76.6M586.5 81.1L600.7 77.4M600.7 77.4L634.2 82.4M634.2 82.4L645.1 88.3M590 75.5L630.5 60.1M585.5 76L618.7 76.3M586.1 67.6L591 71M591 71L611.6 72.1M611.6 72.1L629.1 76.3M591.5 74.3L602.8 74.9M586.3 73.3L605.3 77.6M605.3 77.6L635.7 77M589.3 80.6L594.2 78.4M594.2 78.4L613.2 80M585.3 71.8L605.5 74.2M591.1 79.7L605.1 80.6M605.1 80.6L615.9 84.4M585.5 57.7L593.6 58.7M586.5 71.6L598 71.9M587.6 76.8L603.5 76.4M603.5 76.4L640.2 85.1M585.8 65.4L613.7 69.8M591.5 73.1L598.4 75.4M587.6 82.7L634.9 86.5M634.9 86.5L661 87.3M587.8 76.9L599.8 74.1M588.9 78.4L628.2 83.7M628.2 83.7L648.1 87.3M587 74L608.9 77.4M608.9 77.4L620.8 76M620.8 76L632.6 78.5M587.6 73L632.1 81.4M632.1 81.4L651.3 80.6M588 82.2L642.3 84.5M590.7 69.3L621.5 81M621.5 81L659.6 90.3M589.6 73.5L599 68.7M585.9 70L601.5 71.7M586.5 75L603.5 75.1M587.8 77.7L604.1 83.2M604.1 83.2L630.1 81.1M589 71.6L620.7 68.7M587.7 73.9L592.9 72.7M589.8 69.9L628.7 82.2M605.8 69.1L613.6 70.3M613.6 70.3L636.8 74.4M591 81.6L594 81M594 81L604.5 78.9M588.8 77.9L595.3 80.3M602 78L615.1 76.1M586.1 78.8L642.8 78.8M606.1 75.8L656.6 68.2M590.6 65.4L602 62.9M602 62.9L609.2 65.7M609.2 65.7L629.4 70.4M629.4 70.4L638.4 71M588.1 70.1L643 71M643 71L662.4 71.5M585.4 75.9L602.6 81.8M586.1 65.2L590.2 63.7M590.2 63.7L612.5 59.5M589.9 82.2L599.4 73.3M591.7 79.9L600.3 77.8M591.5 75.2L644.7 77M588.1 78.4L635.8 86.6M635.8 86.6L651.6 88.5M587.3 74.5L599.1 83.7M599.1 83.7L633.1 92.9M633.1 92.9L660.1 90.4M587.5 70.4L598 69.9M593.8 73.5L605.4 76.3M605.4 76.3L627.3 83M592 79.7L644.7 89.9M586.4 69.1L599.2 73.9M589.8 72.2L598.7 76.3M598.7 76.3L608.5 71.6M592.5 76.1L597.1 77.2M591.3 60.6L594.3 63.3M586 73.7L591.9 73.1M591.9 73.1L625.6 73.2M625.6 73.2L661.9 71.6M592 63.9L598.3 65.5M598.3 65.5L610.3 65.5M610.3 65.5L621.6 63.1M601.9 70.5L646 72.8M589.5 57.6L597 60.2M597 60.2L602.2 59.3M606.7 87.6L611.6 93.2M611.6 93.2L620.3 94.5M620.3 94.5L654.7 91.7M587.3 66.5L592.8 75.5M592.8 75.5L596.9 74M596.1 44.1L621.4 70.6M585.5 56.6L616.9 70.3M590.1 47.5L620.3 71.4M589.8 36L642.5 70.7M589.1 44.6L623.6 62.4M596.2 53.4L644.1 62.4" stroke="#000" stroke-width="0.55" fill="none"/>
<path d="M591.6 73.4h0M595.7 73.8h0M585.4 73.9h0M598.1 71.7h0M606.4 72.7h0M586.6 72.7h0M658.1 88.9h0M586.7 66.2h0M639.3 71.1h0M655.6 71.4h0M589.6 73.7h0M599.4 77.8h0M608.3 87.8h0M592.2 75.4h0M598.1 74.1h0M590.2 77.6h0M595.1 75.1h0M588.5 74.5h0M602.9 72.9h0M618.7 76.5h0M605.4 72.6h0M614.8 71.7h0M589.1 71.9h0M593.7 69.5h0M590.9 81h0M612.1 86.8h0M651.2 94.7h0M588.2 82.4h0M596.1 78.5h0M607.5 82.9h0M591.7 78.8h0M637.1 81.8h0M646.3 81.6h0M589.9 61.6h0M600.9 60.1h0M619 63.2h0M652.6 62.6h0M591.1 73h0M649.7 86.1h0M586.4 66.5h0M619.4 72.7h0M650.8 74.9h0M586.7 65.8h0M595.9 69.3h0M590.4 60.7h0M607.2 58.1h0M591.8 74.1h0M600.3 75.6h0M586.1 76.4h0M588.3 74.6h0M589.2 68h0M619.3 68.3h0M588.9 55.5h0M600 56h0M588.6 75.1h0M625.5 74.2h0M604.7 73.2h0M612.8 71.7h0M588.3 81h0M596.3 83.7h0M625.7 82.9h0M585.6 75.7h0M591.2 77.3h0M586.5 70.8h0M594.5 73.9h0M620.7 73h0M587.8 75.4h0M644.1 64h0M591.6 65.7h0M602.2 64.1h0M585.6 76h0M633.2 80.2h0M589.7 76.2h0M602 91.5h0M633 92.8h0M585.8 57.1h0M589.5 61.6h0M588.9 73.3h0M633.7 60.4h0M591.3 77.4h0M605.9 85.1h0M624.7 89.6h0M588.6 69.8h0M654.2 92.1h0M604.6 63.7h0M621.7 64h0M660.4 64.9h0M586.8 77.4h0M601.8 80.7h0M632.3 81.3h0M661.9 84.2h0M591.2 72.5h0M595.6 71.2h0M592 75.2h0M597.6 80.3h0M607.8 84.2h0M590.5 60.5h0M659.5 58.7h0M589.1 80.9h0M606.4 80.7h0M639 88h0M589.4 72.8h0M602.2 74.9h0M631.4 76.6h0M586.9 61.9h0M594.3 64.3h0M588.7 70.9h0M591.7 74.8h0M613 80.7h0M587.3 67.6h0M600 65.1h0M590.1 79.8h0M626.6 83.6h0M655.2 86.2h0M587.8 74.7h0M607.1 82.9h0M586.9 70.1h0M636.3 81.5h0M588.9 77.9h0M643.8 76.7h0M588.5 78.9h0M605.4 81.8h0M633.8 76.9h0M592 70.4h0M605.1 72.7h0M618.1 71.8h0M646.4 66.2h0M588 86.5h0M646.6 86.5h0M585.4 74.4h0M600.2 70.2h0M617.4 71.6h0M590.6 70.5h0M658.9 76.6h0M586.5 81.1h0M600.7 77.4h0M634.2 82.4h0M645.1 88.3h0M590 75.5h0M630.5 60.1h0M585.5 76h0M618.7 76.3h0M586.1 67.6h0M591 71h0M611.6 72.1h0M629.1 76.3h0M591.5 74.3h0M602.8 74.9h0M586.3 73.3h0M605.3 77.6h0M635.7 77h0M589.3 80.6h0M594.2 78.4h0M613.2 80h0M585.3 71.8h0M605.5 74.2h0M591.1 79.7h0M605.1 80.6h0M615.9 84.4h0M585.5 57.7h0M593.6 58.7h0M586.5 71.6h0M598 71.9h0M587.6 76.8h0M603.5 76.4h0M640.2 85.1h0M585.8 65.4h0M613.7 69.8h0M591.5 73.1h0M598.4 75.4h0M587.6 82.7h0M634.9 86.5h0M661 87.3h0M587.8 76.9h0M599.8 74.1h0M588.9 78.4h0M628.2 83.7h0M648.1 87.3h0M587 74h0M608.9 77.4h0M620.8 76h0M632.6 78.5h0M587.6 73h0M632.1 81.4h0M651.3 80.6h0M588 82.2h0M642.3 84.5h0M590.7 69.3h0M621.5 81h0M659.6 90.3h0M589.6 73.5h0M599 68.7h0M585.9 70h0M601.5 71.7h0M586.5 75h0M603.5 75.1h0M587.8 77.7h0M604.1 83.2h0M630.1 81.1h0M589 71.6h0M620.7 68.7h0M587.7 73.9h0M592.9 72.7h0M589.8 69.9h0M628.7 82.2h0M605.8 69.1h0M613.6 70.3h0M636.8 74.4h0M591 81.6h0M594 81h0M604.5 78.9h0M588.8 77.9h0M595.3 80.3h0M602 78h0M615.1 76.1h0M586.1 78.8h0M642.8 78.8h0M606.1 75.8h0M656.6 68.2h0M590.6 65.4h0M602 62.9h0M609.2 65.7h0M629.4 70.4h0M638.4 71h0M588.1 70.1h0M643 71h0M662.4 71.5h0M585.4 75.9h0M602.6 81.8h0M586.1 65.2h0M590.2 63.7h0M612.5 59.5h0M589.9 82.2h0M599.4 73.3h0M591.7 79.9h0M600.3 77.8h0M591.5 75.2h0M644.7 77h0M588.1 78.4h0M635.8 86.6h0M651.6 88.5h0M587.3 74.5h0M599.1 83.7h0M633.1 92.9h0M660.1 90.4h0M587.5 70.4h0M598 69.9h0M593.8 73.5h0M605.4 76.3h0M627.3 83h0M592 79.7h0M644.7 89.9h0M586.4 69.1h0M599.2 73.9h0M589.8 72.2h0M598.7 76.3h0M608.5 71.6h0M592.5 76.1h0M597.1 77.2h0M591.3 60.6h0M594.3 63.3h0M586 73.7h0M591.9 73.1h0M625.6 73.2h0M661.9 71.6h0M592 63.9h0M598.3 65.5h0M610.3 65.5h0M621.6 63.1h0M601.9 70.5h0M646 72.8h0M589.5 57.6h0M597 60.2h0M602.2 59.3h0M606.7 87.6h0M611.6 93.2h0M620.3 94.5h0M654.7 91.7h0M587.3 66.5h0M592.8 75.5h0M596.9 74h0M596.1 44.1h0M621.4 70.6h0M585.5 56.6h0M616.9 70.3h0M590.1 47.5h0M620.3 71.4h0M589.8 36h0M642.5 70.7h0M589.1 44.6h0M623.6 62.4h0M596.2 53.4h0M644.1 62.4h0" stroke="#000" stroke-width="2.15" stroke-linecap="round" fill="none"/>
<polygon points="587,64.8 593.2,66.2 599.4,67.4 605.6,68.5 611.8,69.5 618,70.3 624.1,71 630.3,71.5 636.5,71.9 642.7,72.1 648.9,72.2 655.1,72.2 661.3,72 661.3,76 655.1,75.7 648.9,75.4 642.7,75 636.5,74.5 630.3,74 624.1,73.4 618,72.8 611.8,72.1 605.6,71.4 599.4,70.6 593.2,69.7 587,68.8" fill="#a899d8" fill-opacity="0.65"/>
<polyline points="587,66.8 593.2,68 599.4,69 605.6,70 611.8,70.8 618,71.5 624.1,72.2 630.3,72.8 636.5,73.2 642.7,73.5 648.9,73.8 655.1,74 661.3,74" fill="none" stroke="#6c59b6" stroke-width="1.2"/>
<path d="M398.8 175.8L412.4 174.9M412.4 174.9L416.2 175.9M416.2 175.9L452.8 178.6M409.5 154.7L418.9 156.7M394.7 166.1L409.7 163.7M399.8 172.2L427.9 176.3M427.9 176.3L458.3 194.6M398.6 158.6L407.5 162.1M407.5 162.1L417.8 164.5M394.8 190.2L401 191.8M398.4 149.6L400.7 154.7M400.7 154.7L439.9 154.7M439.9 154.7L473.6 156.6M396.8 172.6L430.2 172.2M394.3 156.9L408.8 159.5M394.7 168.5L408.3 165.5M408.3 165.5L436.3 168.3M398.7 165.8L401.8 169.8M396.1 154.2L408.4 154.1M408.4 154.1L430.1 154.1M430.1 154.1L442.9 157.7M400.4 155.2L471.2 159.7M398.8 170.2L415.4 177.3M396.6 184.4L433.7 196.7M397 182L409 178M398.2 182.4L466.9 184.1M395.8 161.9L402.5 168.2M402.5 168.2L432.6 164.8M410.6 187.5L421 185.6M396.2 155.1L406.9 159.8M406.9 159.8L415.8 162.4M399.2 169.4L403.7 166.2M408.3 158L421.8 153.7M421.8 153.7L432.1 156.1M400.6 167.7L405.9 163.8M405.9 163.8L414.1 166.6M414.1 166.6L437.5 155.4M395.5 184.5L397.5 184.3M397.5 184.3L410.8 185.3M400.3 150.2L416.5 151.5M416.5 151.5L433.7 154M395.5 158.6L410.7 158.5M400.3 170.4L408.8 166M408.8 166L439.4 166M397.7 163L401.7 163.2M401.7 163.2L437.3 161.5M399 166.8L465.5 163.1M398 191.9L413.9 195.9M413.9 195.9L442.9 195.4M399.1 195.4L429.1 192M429.1 192L445.2 197M395.1 153.1L400.5 156.4M408.1 153.6L412.5 158.3M398.1 155.2L408.4 154.6M408.4 154.6L432.3 154.8M399.5 150.1L412 153.9M412 153.9L448.7 150.1M396.3 170.7L402.7 185.1M402.7 185.1L433.9 193.1M403.5 172.8L414.2 175.1M411.6 161.4L423.5 161.2M423.5 161.2L460.9 171.6M396.4 161.1L398.5 164.6M398.5 164.6L409.4 162.3M396.3 148.4L405.8 151.4M405.8 151.4L424.8 149.7M399 177L439 176.1M397.6 140.4L402.7 138.7M402.7 138.7L419.6 146.8M419.6 146.8L450.2 148.5M400 157.1L467.3 153.1M400.6 178.8L405.4 175.1M405.4 175.1L429.4 181.2M396.1 170.6L403.5 173.2M403.5 173.2L431.9 175.5M395.3 166.3L416.4 172.7M416.4 172.7L442.7 177.3M398 177.4L437.5 180.6M437.5 180.6L456 180.8M394.6 173L410.4 168.2M395.8 170.7L404.9 169.9M404.9 169.9L437.4 172.5M400.2 174.1L416 175.3M416 175.3L427.6 176.9M400 164.4L414.8 169M414.8 169L443.1 166.6M395.5 150L436.4 150.1M436.4 150.1L459.6 152.1M396.2 161.8L398.9 164M398.9 164L403 162.8M406.1 178.4L416.8 180.9M416.8 180.9L430.8 175.9M400.2 156.2L403.6 152.4M403.6 152.4L415.9 150M399.8 181.3L409.2 182.9M400.2 167.2L450 169M400.3 168.7L425.5 175M425.5 175L438.2 181.5M438.2 181.5L450.4 192.7M398.4 192.2L409.8 193.4M409.8 193.4L414.5 192.2M414.5 192.2L431.2 188.8M431.2 188.8L454.9 195.1M398.1 188.9L464.7 159.3M395.5 176.7L422.5 175.6M422.5 175.6L433.6 169.3M433.6 169.3L452.9 168.4M395.8 163.1L400 163.3M399 163.6L414.7 177.7M396.8 148.5L413.2 155.5M413.2 155.5L451.2 156M395.8 155.8L402.9 156.5M396.4 150.1L457.3 145.7M399.3 149.6L441.8 157.8M397.3 183.6L411.5 184.2M411.5 184.2L428.3 186.2M395 156.5L412.3 161.1M397.4 193.3L400.6 188.9M400.6 188.9L429.7 192.6M395.2 178.2L414.5 173.2M414.5 173.2L429.8 171.8M400.2 160.2L416.2 160.6M394.2 167.6L399.4 166.6M399.4 166.6L421.3 167M397.4 147.2L449.3 145.3M395.9 160.9L405.7 158.1M394.8 154.9L421.9 152.2M395.9 140.2L408.8 142.5M409.1 155.2L415.7 160.6M415.7 160.6L447.3 161.1M396.1 177.7L406.7 180.5M406.7 180.5L412.6 183.2M412.6 183.2L429.9 177.4M406 172.1L411.7 168.9M408.6 171.3L466.7 162.6M399.3 168.6L415.7 170.2M398.1 150.6L401 146.6M398.1 158.7L446.8 166.1M446.8 166.1L450.5 168.5M400 144.3L416.2 148.2M400.7 179.7L451.2 180.8M396 142.1L398.1 144.1M399.3 178.6L402.9 177.9M394.6 148.3L428.3 151.2M406 160.9L457.9 162.8M396 179.3L404.8 175.7M397.1 181.6L403.3 186.2M403.3 186.2L415.1 182.1M400.1 171.9L441.9 173.9M441.9 173.9L447.7 170.9M396.3 165.3L407.7 166.3M407.7 166.3L441.4 166.6M441.4 166.6L467.6 163.7M400.1 146.8L468.1 151.7M394.4 166.6L411.6 170M411.6 170L448.7 182.5M394.5 170.5L425 172.3M397.1 193.4L400.5 195.9M400.5 195.9L426.2 196.1M426.2 196.1L452.9 194.4M397.1 166.2L412.5 167.1M412.5 167.1L450.1 168.9M397.2 167.3L405.6 166.8M405.6 166.8L439.1 176.6M439.1 176.6L468.8 183.9" stroke="#000" stroke-width="0.55" fill="none"/>
<path d="M398.8 175.8h0M412.4 174.9h0M416.2 175.9h0M452.8 178.6h0M409.5 154.7h0M418.9 156.7h0M394.7 166.1h0M409.7 163.7h0M399.8 172.2h0M427.9 176.3h0M458.3 194.6h0M398.6 158.6h0M407.5 162.1h0M417.8 164.5h0M394.8 190.2h0M401 191.8h0M398.4 149.6h0M400.7 154.7h0M439.9 154.7h0M473.6 156.6h0M396.8 172.6h0M430.2 172.2h0M394.3 156.9h0M408.8 159.5h0M394.7 168.5h0M408.3 165.5h0M436.3 168.3h0M398.7 165.8h0M401.8 169.8h0M396.1 154.2h0M408.4 154.1h0M430.1 154.1h0M442.9 157.7h0M400.4 155.2h0M471.2 159.7h0M398.8 170.2h0M415.4 177.3h0M396.6 184.4h0M433.7 196.7h0M397 182h0M409 178h0M398.2 182.4h0M466.9 184.1h0M395.8 161.9h0M402.5 168.2h0M432.6 164.8h0M410.6 187.5h0M421 185.6h0M396.2 155.1h0M406.9 159.8h0M415.8 162.4h0M399.2 169.4h0M403.7 166.2h0M408.3 158h0M421.8 153.7h0M432.1 156.1h0M400.6 167.7h0M405.9 163.8h0M414.1 166.6h0M437.5 155.4h0M395.5 184.5h0M397.5 184.3h0M410.8 185.3h0M400.3 150.2h0M416.5 151.5h0M433.7 154h0M395.5 158.6h0M410.7 158.5h0M400.3 170.4h0M408.8 166h0M439.4 166h0M397.7 163h0M401.7 163.2h0M437.3 161.5h0M399 166.8h0M465.5 163.1h0M398 191.9h0M413.9 195.9h0M442.9 195.4h0M399.1 195.4h0M429.1 192h0M445.2 197h0M395.1 153.1h0M400.5 156.4h0M408.1 153.6h0M412.5 158.3h0M398.1 155.2h0M408.4 154.6h0M432.3 154.8h0M399.5 150.1h0M412 153.9h0M448.7 150.1h0M396.3 170.7h0M402.7 185.1h0M433.9 193.1h0M403.5 172.8h0M414.2 175.1h0M411.6 161.4h0M423.5 161.2h0M460.9 171.6h0M396.4 161.1h0M398.5 164.6h0M409.4 162.3h0M396.3 148.4h0M405.8 151.4h0M424.8 149.7h0M399 177h0M439 176.1h0M397.6 140.4h0M402.7 138.7h0M419.6 146.8h0M450.2 148.5h0M400 157.1h0M467.3 153.1h0M400.6 178.8h0M405.4 175.1h0M429.4 181.2h0M396.1 170.6h0M403.5 173.2h0M431.9 175.5h0M395.3 166.3h0M416.4 172.7h0M442.7 177.3h0M398 177.4h0M437.5 180.6h0M456 180.8h0M394.6 173h0M410.4 168.2h0M395.8 170.7h0M404.9 169.9h0M437.4 172.5h0M400.2 174.1h0M416 175.3h0M427.6 176.9h0M400 164.4h0M414.8 169h0M443.1 166.6h0M395.5 150h0M436.4 150.1h0M459.6 152.1h0M396.2 161.8h0M398.9 164h0M403 162.8h0M406.1 178.4h0M416.8 180.9h0M430.8 175.9h0M400.2 156.2h0M403.6 152.4h0M415.9 150h0M399.8 181.3h0M409.2 182.9h0M400.2 167.2h0M450 169h0M400.3 168.7h0M425.5 175h0M438.2 181.5h0M450.4 192.7h0M398.4 192.2h0M409.8 193.4h0M414.5 192.2h0M431.2 188.8h0M454.9 195.1h0M398.1 188.9h0M464.7 159.3h0M395.5 176.7h0M422.5 175.6h0M433.6 169.3h0M452.9 168.4h0M395.8 163.1h0M400 163.3h0M399 163.6h0M414.7 177.7h0M396.8 148.5h0M413.2 155.5h0M451.2 156h0M395.8 155.8h0M402.9 156.5h0M396.4 150.1h0M457.3 145.7h0M399.3 149.6h0M441.8 157.8h0M397.3 183.6h0M411.5 184.2h0M428.3 186.2h0M395 156.5h0M412.3 161.1h0M397.4 193.3h0M400.6 188.9h0M429.7 192.6h0M395.2 178.2h0M414.5 173.2h0M429.8 171.8h0M400.2 160.2h0M416.2 160.6h0M394.2 167.6h0M399.4 166.6h0M421.3 167h0M397.4 147.2h0M449.3 145.3h0M395.9 160.9h0M405.7 158.1h0M394.8 154.9h0M421.9 152.2h0M395.9 140.2h0M408.8 142.5h0M409.1 155.2h0M415.7 160.6h0M447.3 161.1h0M396.1 177.7h0M406.7 180.5h0M412.6 183.2h0M429.9 177.4h0M406 172.1h0M411.7 168.9h0M408.6 171.3h0M466.7 162.6h0M399.3 168.6h0M415.7 170.2h0M398.1 150.6h0M401 146.6h0M398.1 158.7h0M446.8 166.1h0M450.5 168.5h0M400 144.3h0M416.2 148.2h0M400.7 179.7h0M451.2 180.8h0M396 142.1h0M398.1 144.1h0M399.3 178.6h0M402.9 177.9h0M394.6 148.3h0M428.3 151.2h0M406 160.9h0M457.9 162.8h0M396 179.3h0M404.8 175.7h0M397.1 181.6h0M403.3 186.2h0M415.1 182.1h0M400.1 171.9h0M441.9 173.9h0M447.7 170.9h0M396.3 165.3h0M407.7 166.3h0M441.4 166.6h0M467.6 163.7h0M400.1 146.8h0M468.1 151.7h0M394.4 166.6h0M411.6 170h0M448.7 182.5h0M394.5 170.5h0M425 172.3h0M397.1 193.4h0M400.5 195.9h0M426.2 196.1h0M452.9 194.4h0M397.1 166.2h0M412.5 167.1h0M450.1 168.9h0M397.2 167.3h0M405.6 166.8h0M439.1 176.6h0M468.8 183.9h0" stroke="#000" stroke-width="2.15" stroke-linecap="round" fill="none"/>
<polygon points="396.2,158.2 402.4,159.1 408.6,159.8 414.8,160.5 421,161.2 427.2,161.7 433.4,162.2 439.5,162.6 445.7,163 451.9,163.2 458.1,163.4 464.3,163.4 470.5,163.3 470.5,169.7 464.3,169.2 458.1,168.6 451.9,168.1 445.7,167.6 439.5,167.1 433.4,166.6 427.2,166.2 421,165.8 414.8,165.4 408.6,165.1 402.4,164.8 396.2,164.6" fill="#a899d8" fill-opacity="0.65"/>
<polyline points="396.2,161.4 402.4,161.9 408.6,162.5 414.8,163 421,163.5 427.2,164 433.4,164.4 439.5,164.9 445.7,165.3 451.9,165.7 458.1,166 464.3,166.3 470.5,166.5" fill="none" stroke="#6c59b6" stroke-width="1.2"/>
<path d="M489.6 171.1L519.4 166.6M496 168.1L508.2 164.1M490 188.2L494 188.7M494 188.7L521.5 179.8M496 183.5L523.3 189.9M495.5 160.1L523.5 159.7M523.5 159.7L541.8 159.4M492.7 183.2L537.9 181M495.5 180.3L508.9 190.1M494.8 181.2L509 180.3M509 180.3L535.4 169.6M493.8 168.6L505.6 172.2M505.6 172.2L528.9 174.1M493.8 178.8L528.6 191M528.6 191L552.6 192.1M489.6 178.8L498.7 179.4M498.7 179.4L520.5 182.8M491.8 164.9L495.7 164.8M495.7 164.8L522.3 168.7M522.3 168.7L540.5 168.6M489.7 178.5L492.7 182.1M492.7 182.1L518.5 179.8M494 191.8L504.1 189.6M504.1 189.6L511.9 188.6M495.6 167L515.5 161.9M495.1 183.7L506.8 185M506.8 185L534.8 187.5M534.8 187.5L564.5 187.9M493 154.5L532.8 152.8M494.2 180.5L508.6 179.7M508.6 179.7L523.4 182.7M508 150.2L517.9 150.7M490.3 167.6L558.7 181.9M494.1 177L502.9 182.8M489.6 167.2L529.1 171.5M529.1 171.5L557.6 172M492.8 180.1L496.9 184.6M489.8 179L507.1 176M492.6 169.7L496.6 165.7M490.2 184.7L522.5 187.3M522.5 187.3L555 179.4M493.5 181.8L551.6 181.6M494.3 180.4L519.2 184.2M496.1 178.7L513.1 175.2M513.1 175.2L545 173.7M494.6 181L505.3 181.8M505.3 181.8L533.5 180.1M490.7 165.4L505.3 164.4M492.1 174.1L502 172.7M502 172.7L527.5 164.9M495.9 162L511.4 151M492.7 171.7L509 174.9M509 174.9L517.8 172M517.8 172L526.7 174.2M493.6 151.8L498.2 148.2M498.2 148.2L508.5 150.1M493.2 182.8L499.3 184.1M512.5 172.8L524.3 177.1M524.3 177.1L537.8 174.2M510.6 164.6L525.6 159M525.6 159L534.9 163.8M493.3 175.9L501.4 180.6M491.5 182.1L542.9 191.4M542.9 191.4L551.8 193.1M491 161.8L493.8 164.3M493.8 164.3L516.1 167.5M516.1 167.5L553.8 174M553.8 174L566.3 177.8M490.3 169L506.8 160M506.8 160L537.4 154.2M492.5 170L497.8 174.1M497.8 174.1L504.9 171M490.3 164.8L531.5 167.6M531.5 167.6L551 175.3M493.9 174.7L502 172.4M502 172.4L512 176.9M512 176.9L528.7 171.2M493.2 181.2L500.4 183.9M492.1 175.3L519.5 192.2M519.5 192.2L531.1 194.4M495.7 181L504.1 177.9M504.1 177.9L511.2 178.6M492 162.5L528.7 160.4M528.7 160.4L567.9 158.7M493 160.7L501.7 163.8M501.7 163.8L516.2 158.7M495.5 182.3L522.6 181M522.6 181L528.7 185.1M492.9 167.1L499.7 166.8M497.6 148.2L504.9 145.1M490.1 168.6L546.4 166.7M489.9 160.3L559.1 159.3M492 181.5L516 183.7M516 183.7L521.2 186.2M490.2 175.8L499.5 171M496.1 166.4L562.8 184.6M489.8 168.2L523.1 173.9M523.1 173.9L538.5 175.3M538.5 175.3L546.2 175.6M493.5 185.6L507.8 189.4M495.2 190L501.6 185.7M490.1 172L524.1 174.5M511.8 188.1L514.8 185.7M514.8 185.7L549.8 182.4M493.4 166.7L507.8 167.6M495.6 166.2L503.3 171.3M503.3 171.3L527.7 172.4M490.6 177.4L501.6 178.5M490.9 165.8L504.8 163.1M492 174.6L504.1 174.4M493.4 166L513 163.7M501 182.1L510.1 181M491.1 166.8L532.4 152.4M490.5 171.8L519.9 174M490.8 178.5L495.3 179.9M495.3 179.9L534.7 190.4M490.4 180.5L523.4 173.4M523.4 173.4L535 173M495.7 153.4L508.3 149.3M508.3 149.3L537.7 149.1M537.7 149.1L549.7 153.2M490.6 195.4L504.6 195.6M504.6 195.6L513.6 193.3M493.4 178.9L561.4 191.1M494.4 186.1L507.6 187.3M507.6 187.3L537 189.6M490 151.6L526.2 161.4M526.2 161.4L542.2 160.5M493.8 169.2L496.5 172.4M494.1 173.5L511.3 171.5M496 168.4L549.5 180.6M492.2 158.1L497.6 159.4M497.6 159.4L526.6 172.5M505.9 179.5L516.6 177.1M516.6 177.1L546.9 188.6M495 175.9L506.6 182.5M506.6 182.5L544.7 183.7M499.9 173.8L507.8 172M507.8 172L541.1 171.1M492.2 183.1L506.7 183.5M494.5 170.3L503.8 171.3M503.8 171.3L533 170.8M495.3 173.4L498.4 176.3M498.4 176.3L521.2 175.9M521.2 175.9L545.1 176.8M492.7 169.8L506.4 176M496.1 176.8L510.1 180.5M489.7 183.8L504.5 184.1M497.1 187.2L565.2 184.2M490.4 178L548.2 169.4M493.8 176.1L501.1 171.9M491.3 173.2L499.9 177.1M490.8 178.1L497.2 180M493.7 193.4L497.7 192M489.7 190.1L494.4 191.7M499.1 179.3L507 180" stroke="#000" stroke-width="0.55" fill="none"/>
<path d="M489.6 171.1h0M519.4 166.6h0M496 168.1h0M508.2 164.1h0M490 188.2h0M494 188.7h0M521.5 179.8h0M496 183.5h0M523.3 189.9h0M495.5 160.1h0M523.5 159.7h0M541.8 159.4h0M492.7 183.2h0M537.9 181h0M495.5 180.3h0M508.9 190.1h0M494.8 181.2h0M509 180.3h0M535.4 169.6h0M493.8 168.6h0M505.6 172.2h0M528.9 174.1h0M493.8 178.8h0M528.6 191h0M552.6 192.1h0M489.6 178.8h0M498.7 179.4h0M520.5 182.8h0M491.8 164.9h0M495.7 164.8h0M522.3 168.7h0M540.5 168.6h0M489.7 178.5h0M492.7 182.1h0M518.5 179.8h0M494 191.8h0M504.1 189.6h0M511.9 188.6h0M495.6 167h0M515.5 161.9h0M495.1 183.7h0M506.8 185h0M534.8 187.5h0M564.5 187.9h0M493 154.5h0M532.8 152.8h0M494.2 180.5h0M508.6 179.7h0M523.4 182.7h0M508 150.2h0M517.9 150.7h0M490.3 167.6h0M558.7 181.9h0M494.1 177h0M502.9 182.8h0M489.6 167.2h0M529.1 171.5h0M557.6 172h0M492.8 180.1h0M496.9 184.6h0M489.8 179h0M507.1 176h0M492.6 169.7h0M496.6 165.7h0M490.2 184.7h0M522.5 187.3h0M555 179.4h0M493.5 181.8h0M551.6 181.6h0M494.3 180.4h0M519.2 184.2h0M496.1 178.7h0M513.1 175.2h0M545 173.7h0M494.6 181h0M505.3 181.8h0M533.5 180.1h0M490.7 165.4h0M505.3 164.4h0M492.1 174.1h0M502 172.7h0M527.5 164.9h0M495.9 162h0M511.4 151h0M492.7 171.7h0M509 174.9h0M517.8 172h0M526.7 174.2h0M493.6 151.8h0M498.2 148.2h0M508.5 150.1h0M493.2 182.8h0M499.3 184.1h0M512.5 172.8h0M524.3 177.1h0M537.8 174.2h0M510.6 164.6h0M525.6 159h0M534.9 163.8h0M493.3 175.9h0M501.4 180.6h0M491.5 182.1h0M542.9 191.4h0M551.8 193.1h0M491 161.8h0M493.8 164.3h0M516.1 167.5h0M553.8 174h0M566.3 177.8h0M490.3 169h0M506.8 160h0M537.4 154.2h0M492.5 170h0M497.8 174.1h0M504.9 171h0M490.3 164.8h0M531.5 167.6h0M551 175.3h0M493.9 174.7h0M502 172.4h0M512 176.9h0M528.7 171.2h0M493.2 181.2h0M500.4 183.9h0M492.1 175.3h0M519.5 192.2h0M531.1 194.4h0M495.7 181h0M504.1 177.9h0M511.2 178.6h0M492 162.5h0M528.7 160.4h0M567.9 158.7h0M493 160.7h0M501.7 163.8h0M516.2 158.7h0M495.5 182.3h0M522.6 181h0M528.7 185.1h0M492.9 167.1h0M499.7 166.8h0M497.6 148.2h0M504.9 145.1h0M490.1 168.6h0M546.4 166.7h0M489.9 160.3h0M559.1 159.3h0M492 181.5h0M516 183.7h0M521.2 186.2h0M490.2 175.8h0M499.5 171h0M496.1 166.4h0M562.8 184.6h0M489.8 168.2h0M523.1 173.9h0M538.5 175.3h0M546.2 175.6h0M493.5 185.6h0M507.8 189.4h0M495.2 190h0M501.6 185.7h0M490.1 172h0M524.1 174.5h0M511.8 188.1h0M514.8 185.7h0M549.8 182.4h0M493.4 166.7h0M507.8 167.6h0M495.6 166.2h0M503.3 171.3h0M527.7 172.4h0M490.6 177.4h0M501.6 178.5h0M490.9 165.8h0M504.8 163.1h0M492 174.6h0M504.1 174.4h0M493.4 166h0M513 163.7h0M501 182.1h0M510.1 181h0M491.1 166.8h0M532.4 152.4h0M490.5 171.8h0M519.9 174h0M490.8 178.5h0M495.3 179.9h0M534.7 190.4h0M490.4 180.5h0M523.4 173.4h0M535 173h0M495.7 153.4h0M508.3 149.3h0M537.7 149.1h0M549.7 153.2h0M490.6 195.4h0M504.6 195.6h0M513.6 193.3h0M493.4 178.9h0M561.4 191.1h0M494.4 186.1h0M507.6 187.3h0M537 189.6h0M490 151.6h0M526.2 161.4h0M542.2 160.5h0M493.8 169.2h0M496.5 172.4h0M494.1 173.5h0M511.3 171.5h0M496 168.4h0M549.5 180.6h0M492.2 158.1h0M497.6 159.4h0M526.6 172.5h0M505.9 179.5h0M516.6 177.1h0M546.9 188.6h0M495 175.9h0M506.6 182.5h0M544.7 183.7h0M499.9 173.8h0M507.8 172h0M541.1 171.1h0M492.2 183.1h0M506.7 183.5h0M494.5 170.3h0M503.8 171.3h0M533 170.8h0M495.3 173.4h0M498.4 176.3h0M521.2 175.9h0M545.1 176.8h0M492.7 169.8h0M506.4 176h0M496.1 176.8h0M510.1 180.5h0M489.7 183.8h0M504.5 184.1h0M497.1 187.2h0M565.2 184.2h0M490.4 178h0M548.2 169.4h0M493.8 176.1h0M501.1 171.9h0M491.3 173.2h0M499.9 177.1h0M490.8 178.1h0M497.2 180h0M493.7 193.4h0M497.7 192h0M489.7 190.1h0M494.4 191.7h0M499.1 179.3h0M507 180h0" stroke="#000" stroke-width="2.15" stroke-linecap="round" fill="none"/>
<polygon points="491.5,170.2 497.7,170.8 503.9,171.3 510.1,171.8 516.3,172.2 522.5,172.6 528.6,172.9 534.8,173.1 541,173.3 547.2,173.3 553.4,173.3 559.6,173.3 565.8,173.1 565.8,177.9 559.6,177.6 553.4,177.3 547.2,176.9 541,176.6 534.8,176.3 528.6,176.1 522.5,175.8 516.3,175.6 510.1,175.4 503.9,175.2 497.7,175.1 491.5,175" fill="#a899d8" fill-opacity="0.65"/>
<polyline points="491.5,172.6 497.7,173 503.9,173.3 510.1,173.6 516.3,173.9 522.5,174.2 528.6,174.5 534.8,174.7 541,174.9 547.2,175.1 553.4,175.3 559.6,175.4 565.8,175.5" fill="none" stroke="#6c59b6" stroke-width="1.2"/>
<path d="M586.6 180.7L603.3 178.3M588.4 168.7L593.7 172.3M598.9 175.8L606.3 171.4M587.2 169.1L603.5 167.9M603.5 167.9L619 165.8M619 165.8L654.9 168.8M587.1 161.8L591.7 161M591.3 164.7L601.8 166.8M587.9 162L623 170.6M623 170.6L638.6 171.1M638.6 171.1L650.5 175.7M594 164.3L606.8 167M589.2 176.9L591.3 176.3M591.3 176.3L605.9 182.8M591.9 170.6L595.7 167.4M595.7 167.4L601.6 166.4M591.6 172.5L595.2 167.1M595.2 167.1L605 171.5M592.3 175.8L602.7 178.1M585.5 160.1L612.4 160.4M612.4 160.4L645.1 164.6M590.4 163.7L626.4 166.4M626.4 166.4L660.3 174.1M592.2 166.4L599.6 167.1M599.6 167.1L621.4 175.8M587.2 156.2L598 159.2M598 159.2L621.1 162.4M588.8 154.7L644.7 158.7M590.1 162.9L593.3 163.9M588.8 166.7L654.2 169.8M589.2 167.7L599.3 159.9M599.3 159.9L631.6 160.2M588.1 156.5L592 156.3M592 156.3L609.2 156.3M609.2 156.3L644.8 167.1M586.4 170.3L592.8 169.4M592.8 169.4L611.1 172.2M611.1 172.2L631.2 175.8M589.9 162.8L660.7 158M588.9 167.4L593.4 166.7M588.7 166.2L603.2 168M588.5 169.1L600 168.5M600 168.5L612.2 170.2M589.9 172.2L633.7 178.3M587.7 161.8L619.5 164.1M585.8 176.8L600.9 181.3M600.9 181.3L638 187.7M586.5 173.3L593.4 174.8M593.4 174.8L624.7 182.4M624.7 182.4L633.7 187.4M586.8 179.3L593.1 180.1M588.8 172.4L641.7 181.3M641.7 181.3L649 179.6M586.6 177L616.6 177.2M590.8 173L603.6 169M603.6 169L636 183.7M588.6 166.8L601.6 167.6M601.6 167.6L610.5 168.5M591.2 157.7L601.1 160.4M601.1 160.4L605.7 158.9M605.7 158.9L622.9 161.5M622.9 161.5L651.2 166.7M604.3 163.7L613.4 162.9M586.3 184.5L591.7 186.3M591.7 186.3L598.3 189M598.3 189L609.5 189.3M609.5 189.3L632 188M597.7 180.3L606.1 174.2M606.1 174.2L627.2 183.7M627.2 183.7L634.2 182.7M591.2 158.8L602.2 161.3M586.6 155.6L592.1 154.4M591.4 158.4L639.7 161M639.7 161L664.4 161.1M591.9 175.4L597.7 178.5M597.7 178.5L629 174.8M629 174.8L637.6 173.6M590.5 168.2L600.2 174.7M600.2 174.7L613.4 171M586.1 178.2L635.9 178.7M598.3 158L605.1 161.5M605.1 161.5L615.8 161.5M615.8 161.5L651.7 175.2M590 163.8L607.1 160.3M587.3 160.6L609.3 166.9M592 172.1L636.4 175.7M589.9 167.8L595.1 170.8M595.1 170.8L608.5 167.8M589.3 164.1L605.6 162.8M589.5 168.4L615.1 181.1M615.1 181.1L644.5 186.9M589.2 176.2L606.5 176.8M586.2 158.5L615.4 160.1M615.4 160.1L652.6 173.1M594.1 151.5L606.2 150.4M586.2 157.3L590.4 160.3M591.3 177.2L649.9 173.8M585.5 155.1L601.2 158.7M587.5 179L604.6 181.2M604.6 181.2L608.8 180M591.1 163.4L611.8 166.6M611.8 166.6L630.2 163.7M590.5 166L593.1 168.5M593.1 168.5L606.3 171M590.3 171.5L596 173.9M596 173.9L626.6 166.3M598.5 164.5L651.5 163.5M588.1 171.4L639.7 183.4M639.7 183.4L658 183.4M588 162.5L600 163.5M600 163.5L612.8 166M612.8 166L646.4 176.4M587.7 176.7L589.9 177.1M586.1 169.4L600.9 171.3M588.7 167.1L603 170.6M588.7 176.2L642.2 180.2M586.1 160.4L589 160.9M592.4 172.7L658.1 186M590.4 157.5L607.5 161.3M607.5 161.3L623.3 164.9M623.3 164.9L644.6 167.8M591.2 155.3L595.3 155.3M595.3 155.3L615.5 156.8M587.7 162.4L593.8 163.4M588.4 159.2L593.6 160.9M593.6 160.9L626.8 148.8M589 153.1L634.4 155.8M586.7 170.7L643.2 163.4M643.2 163.4L655 161.4M589.5 160.8L599.4 164.3M599.4 164.3L625.6 171.8M589.1 170.4L597.6 173.6M597.6 173.6L630.3 172.5M630.3 172.5L649.1 171M588.3 167.1L597.6 168.4M597.6 168.4L626.7 169.9M589.5 162.4L602.4 168M585.3 175.5L595.5 179.1M595.5 179.1L611.7 177M611.7 177L643.6 182.4M587.5 172.4L603.3 170.3M603.3 170.3L639.9 173.1M592 182.1L597.3 183M586.4 172.2L644 189.4M591.2 170.4L607.3 171.9M589.9 174.9L593.7 183.7M593 157.5L641 152.3M588 173.3L611.3 177.4M611.3 177.4L635.4 181.5M635.4 181.5L653 185.8M589.8 160.5L640.9 159M598.2 165.7L608.8 171.5M608.8 171.5L622.9 169.9M622.9 169.9L651.9 171M591.6 169.4L644.1 172.2M644.1 172.2L649.7 178.6M589.5 165.1L654.9 166.3M586.8 166.7L597.1 163.7M597.1 163.7L624 162.9M624 162.9L659.5 159.6M585.6 139.6L654.6 144.2M589.3 167.7L606.4 166.2M592.1 186.8L610.3 189.2M591.5 160.8L605.3 159.7M605.3 159.7L620.2 160.2M586.1 164.4L594.3 165.1M594.3 165.1L607.3 159.9M590.6 156.3L598.9 156.9M598.9 156.9L628.6 148.3M588.4 182.2L594.3 178.7M594.3 178.7L598.8 180.3M587.1 168.4L642.8 177.2M589.8 159.7L598.5 158M607.1 158.4L611.2 164.2M611.2 164.2L616.9 161.6M616.9 161.6L630.7 164M589.2 166L594.6 163.9M594.6 163.9L606.8 171.9M591.8 162L631.6 171.2M631.6 171.2L635.9 170M590.1 165.4L601.1 166.2M601.1 166.2L605.7 166.3M591.4 172.4L604.4 176.1M604.4 176.1L624.9 184.2M596 163.6L662.6 159.4M588.8 134.2L610.2 131.1M591.6 138.8L635.4 164.4M596.7 135.7L624.2 154.4M587 145.7L624.8 165.7M591.9 148.3L621.1 160.4M586.4 145.5L624.7 165.7M585.5 131.3L630.8 164.3" stroke="#000" stroke-width="0.55" fill="none"/>
<path d="M586.6 180.7h0M603.3 178.3h0M588.4 168.7h0M593.7 172.3h0M598.9 175.8h0M606.3 171.4h0M587.2 169.1h0M603.5 167.9h0M619 165.8h0M654.9 168.8h0M587.1 161.8h0M591.7 161h0M591.3 164.7h0M601.8 166.8h0M587.9 162h0M623 170.6h0M638.6 171.1h0M650.5 175.7h0M594 164.3h0M606.8 167h0M589.2 176.9h0M591.3 176.3h0M605.9 182.8h0M591.9 170.6h0M595.7 167.4h0M601.6 166.4h0M591.6 172.5h0M595.2 167.1h0M605 171.5h0M592.3 175.8h0M602.7 178.1h0M585.5 160.1h0M612.4 160.4h0M645.1 164.6h0M590.4 163.7h0M626.4 166.4h0M660.3 174.1h0M592.2 166.4h0M599.6 167.1h0M621.4 175.8h0M587.2 156.2h0M598 159.2h0M621.1 162.4h0M588.8 154.7h0M644.7 158.7h0M590.1 162.9h0M593.3 163.9h0M588.8 166.7h0M654.2 169.8h0M589.2 167.7h0M599.3 159.9h0M631.6 160.2h0M588.1 156.5h0M592 156.3h0M609.2 156.3h0M644.8 167.1h0M586.4 170.3h0M592.8 169.4h0M611.1 172.2h0M631.2 175.8h0M589.9 162.8h0M660.7 158h0M588.9 167.4h0M593.4 166.7h0M588.7 166.2h0M603.2 168h0M588.5 169.1h0M600 168.5h0M612.2 170.2h0M589.9 172.2h0M633.7 178.3h0M587.7 161.8h0M619.5 164.1h0M585.8 176.8h0M600.9 181.3h0M638 187.7h0M586.5 173.3h0M593.4 174.8h0M624.7 182.4h0M633.7 187.4h0M586.8 179.3h0M593.1 180.1h0M588.8 172.4h0M641.7 181.3h0M649 179.6h0M586.6 177h0M616.6 177.2h0M590.8 173h0M603.6 169h0M636 183.7h0M588.6 166.8h0M601.6 167.6h0M610.5 168.5h0M591.2 157.7h0M601.1 160.4h0M605.7 158.9h0M622.9 161.5h0M651.2 166.7h0M604.3 163.7h0M613.4 162.9h0M586.3 184.5h0M591.7 186.3h0M598.3 189h0M609.5 189.3h0M632 188h0M597.7 180.3h0M606.1 174.2h0M627.2 183.7h0M634.2 182.7h0M591.2 158.8h0M602.2 161.3h0M586.6 155.6h0M592.1 154.4h0M591.4 158.4h0M639.7 161h0M664.4 161.1h0M591.9 175.4h0M597.7 178.5h0M629 174.8h0M637.6 173.6h0M590.5 168.2h0M600.2 174.7h0M613.4 171h0M586.1 178.2h0M635.9 178.7h0M598.3 158h0M605.1 161.5h0M615.8 161.5h0M651.7 175.2h0M590 163.8h0M607.1 160.3h0M587.3 160.6h0M609.3 166.9h0M592 172.1h0M636.4 175.7h0M589.9 167.8h0M595.1 170.8h0M608.5 167.8h0M589.3 164.1h0M605.6 162.8h0M589.5 168.4h0M615.1 181.1h0M644.5 186.9h0M589.2 176.2h0M606.5 176.8h0M586.2 158.5h0M615.4 160.1h0M652.6 173.1h0M594.1 151.5h0M606.2 150.4h0M586.2 157.3h0M590.4 160.3h0M591.3 177.2h0M649.9 173.8h0M585.5 155.1h0M601.2 158.7h0M587.5 179h0M604.6 181.2h0M608.8 180h0M591.1 163.4h0M611.8 166.6h0M630.2 163.7h0M590.5 166h0M593.1 168.5h0M606.3 171h0M590.3 171.5h0M596 173.9h0M626.6 166.3h0M598.5 164.5h0M651.5 163.5h0M588.1 171.4h0M639.7 183.4h0M658 183.4h0M588 162.5h0M600 163.5h0M612.8 166h0M646.4 176.4h0M587.7 176.7h0M589.9 177.1h0M586.1 169.4h0M600.9 171.3h0M588.7 167.1h0M603 170.6h0M588.7 176.2h0M642.2 180.2h0M586.1 160.4h0M589 160.9h0M592.4 172.7h0M658.1 186h0M590.4 157.5h0M607.5 161.3h0M623.3 164.9h0M644.6 167.8h0M591.2 155.3h0M595.3 155.3h0M615.5 156.8h0M587.7 162.4h0M593.8 163.4h0M588.4 159.2h0M593.6 160.9h0M626.8 148.8h0M589 153.1h0M634.4 155.8h0M586.7 170.7h0M643.2 163.4h0M655 161.4h0M589.5 160.8h0M599.4 164.3h0M625.6 171.8h0M589.1 170.4h0M597.6 173.6h0M630.3 172.5h0M649.1 171h0M588.3 167.1h0M597.6 168.4h0M626.7 169.9h0M589.5 162.4h0M602.4 168h0M585.3 175.5h0M595.5 179.1h0M611.7 177h0M643.6 182.4h0M587.5 172.4h0M603.3 170.3h0M639.9 173.1h0M592 182.1h0M597.3 183h0M586.4 172.2h0M644 189.4h0M591.2 170.4h0M607.3 171.9h0M589.9 174.9h0M593.7 183.7h0M593 157.5h0M641 152.3h0M588 173.3h0M611.3 177.4h0M635.4 181.5h0M653 185.8h0M589.8 160.5h0M640.9 159h0M598.2 165.7h0M608.8 171.5h0M622.9 169.9h0M651.9 171h0M591.6 169.4h0M644.1 172.2h0M649.7 178.6h0M589.5 165.1h0M654.9 166.3h0M586.8 166.7h0M597.1 163.7h0M624 162.9h0M659.5 159.6h0M585.6 139.6h0M654.6 144.2h0M589.3 167.7h0M606.4 166.2h0M592.1 186.8h0M610.3 189.2h0M591.5 160.8h0M605.3 159.7h0M620.2 160.2h0M586.1 164.4h0M594.3 165.1h0M607.3 159.9h0M590.6 156.3h0M598.9 156.9h0M628.6 148.3h0M588.4 182.2h0M594.3 178.7h0M598.8 180.3h0M587.1 168.4h0M642.8 177.2h0M589.8 159.7h0M598.5 158h0M607.1 158.4h0M611.2 164.2h0M616.9 161.6h0M630.7 164h0M589.2 166h0M594.6 163.9h0M606.8 171.9h0M591.8 162h0M631.6 171.2h0M635.9 170h0M590.1 165.4h0M601.1 166.2h0M605.7 166.3h0M591.4 172.4h0M604.4 176.1h0M624.9 184.2h0M596 163.6h0M662.6 159.4h0M588.8 134.2h0M610.2 131.1h0M591.6 138.8h0M635.4 164.4h0M596.7 135.7h0M624.2 154.4h0M587 145.7h0M624.8 165.7h0M591.9 148.3h0M621.1 160.4h0M586.4 145.5h0M624.7 165.7h0M585.5 131.3h0M630.8 164.3h0" stroke="#000" stroke-width="2.15" stroke-linecap="round" fill="none"/>
<polygon points="587,161.9 593.2,163.3 599.4,164.6 605.6,165.7 611.8,166.6 618,167.5 624.1,168.1 630.3,168.6 636.5,169 642.7,169.2 648.9,169.3 655.1,169.2 661.3,169 661.3,173.4 655.1,173.1 648.9,172.7 642.7,172.3 636.5,171.8 630.3,171.3 624.1,170.7 618,170.1 611.8,169.4 605.6,168.7 599.4,168 593.2,167.2 587,166.3" fill="#a899d8" fill-opacity="0.65"/>
<polyline points="587,164.1 593.2,165.2 599.4,166.3 605.6,167.2 611.8,168 618,168.8 624.1,169.4 630.3,170 636.5,170.4 642.7,170.8 648.9,171 655.1,171.2 661.3,171.2" fill="none" stroke="#6c59b6" stroke-width="1.2"/>
<path d="M400.8 246.6L405.2 251M405.2 251L444.4 253.2M444.4 253.2L460.1 250M397.8 216.1L466.5 229.1M394.6 257.2L408.4 256.6M398.5 246.1L437.7 246.7M397.3 251.1L421.9 256.6M397 243.5L402.9 245.2M395.6 259.5L406.4 263.7M406.4 263.7L419 258.5M419 258.5L428.1 265.6M414.6 253.9L432.9 250.8M396.7 232.8L445.6 235.8M445.6 235.8L467.8 234.7M394.7 234.5L403.3 234M397.2 238.1L405.5 239.4M399.2 251.1L409 248.4M400.3 250.5L407.7 248.1M407.7 248.1L431.2 249.4M431.2 249.4L443.4 243.9M400.4 229.4L423 232.8M423 232.8L436.8 236.5M436.8 236.5L473.4 232.9M397.4 235.9L451.2 267.2M451.2 267.2L473.1 270.8M398.4 246.1L402.1 250.3M402.1 250.3L437 252.4M395.1 239.4L408.8 239.6M408.8 239.6L433.7 234.4M433.7 234.4L454.9 235.8M396.6 240.4L419.1 237.9M397.4 259.8L427 261.1M427 261.1L431.8 261.6M394.2 246.4L408.6 245.2M398.3 239.3L430.2 245.7M399.7 253.5L414.2 251.4M414.2 251.4L428.1 258.9M396.8 229.4L409.5 231.3M409.7 239.9L423.9 236.3M423.9 236.3L445.4 234.5M407.8 243.8L419.7 245.7M419.7 245.7L456.1 259M395.3 222.4L399.2 221.7M399.2 221.7L429.9 224M401 231.5L456.1 227.7M401.8 252L405.2 252.2M405.2 252.2L415.5 248.2M415.5 248.2L428.3 252.8M396.6 229.1L418.9 233.3M398.9 235.1L410.7 238.8M410.7 238.8L437.1 233.2M437.1 233.2L469.4 237.8M396.2 257.1L411 255.9M411 255.9L438.5 256.1M438.5 256.1L458.5 254.8M398.6 215.2L405.6 217.7M396.1 241.2L412.5 242.2M394.8 226.2L410.1 224.3M413.7 241.2L455.8 231M455.8 231L464.5 234.4M397.6 228L454.6 247.8M395.6 234.5L398.3 234.9M397.5 243.6L409.3 242.9M395.2 240.1L402.3 245.8M402.3 245.8L407.7 243.8M396.3 252.2L436.1 252.1M436.1 252.1L461.2 252.2M400.6 252.8L408.4 250.7M408.4 250.7L447.2 250.5M395.1 224.4L410.6 223.1M410.6 223.1L445 218M398.8 223.7L408.1 223.9M395.8 229.4L402.8 228.5M396.3 246.7L422.2 245M422.2 245L453.8 248M453.8 248L460.8 249M394.4 237.3L397.7 236.4M399.6 220.1L409.1 218.6M399.3 230.9L416.4 228.2M399.7 251.4L412.7 249.8M398 227.6L432 227.1M432 227.1L458.6 230.1M399.7 224.7L428.7 222.2M396.2 217.3L412.5 218M412.5 218L438.2 216M397.3 232.7L414.3 229.5M395.2 234.5L398.2 233.1M398.2 233.1L425.5 235.4M425.5 235.4L464.5 228.1M396.8 239.7L413.5 244.5M413.5 244.5L448.6 234.1M398.5 234.8L412.3 235.1M400.5 235.6L410.3 239.3M398.8 215.5L410.1 219M396.7 231L452.7 231M399.7 252.4L445.5 254M394.7 230L406.2 227.6M398.9 232.5L468.6 239.4M400.2 240.9L414.1 241.7M414.1 241.7L426.6 238.9M394.6 230.6L400.8 229.9M400.8 229.9L411.7 228.6M411.7 228.6L441.3 227.3M397.2 251.9L413 249.1M396.7 248.7L436.8 249.9M394.3 243.6L410.5 238.1M397.2 254.6L406.2 257.5M406.2 257.5L423.7 256.7M397.4 215.1L461 226.2M461 226.2L468.9 228.6M406.5 233L419.5 236.8M397.1 256.6L404.6 253.1M404.6 253.1L435.6 257.9M435.6 257.9L465.8 260.2M399.4 234.6L419.7 235.8M419.7 235.8L426.4 235.6M400.8 242.6L414 242.5M396.9 239.4L400.8 242.7M396.9 239L402.9 237.3M397.6 233.7L441.9 229.1M397.4 235L410.8 235.4M414.2 226.6L437.7 222.8M397.7 249.9L405.8 261.4M405.8 261.4L423.6 270M394.5 225.5L453 239.8M399.7 244.9L448.7 244.4M401 223.6L405.6 218.7M405.6 218.7L409.8 223.6M395.1 237.8L438.6 239.6M395.3 237.6L398.3 239.8M400.5 250.3L468.5 244.3M400.5 240.6L402.9 238.4M402.9 238.4L433.2 238.7M405.2 242.2L415.7 244.1M396.2 266.7L423.8 261M395.9 250.5L406.4 250.8M394.7 238.5L398.8 241.1M398.8 241.1L405.6 233M399.2 233.7L459.9 236.8M394.3 240.1L398.5 244.5M398.5 244.5L437.7 243.2M411.2 237.4L441.8 233.4M396.6 239.2L439.9 245.1M399.9 222.3L412.6 214.9M412.6 214.9L424.1 219.3M394.4 240.1L456.6 228.7M403.4 230.6L423.7 229.6M397.9 238.6L411.3 241.9M411.3 241.9L422.9 243.5M422.9 243.5L459.9 247.5M396.4 220.7L412.7 219.8M400.2 230.2L427.7 232.3" stroke="#000" stroke-width="0.55" fill="none"/>
<path d="M400.8 246.6h0M405.2 251h0M444.4 253.2h0M460.1 250h0M397.8 216.1h0M466.5 229.1h0M394.6 257.2h0M408.4 256.6h0M398.5 246.1h0M437.7 246.7h0M397.3 251.1h0M421.9 256.6h0M397 243.5h0M402.9 245.2h0M395.6 259.5h0M406.4 263.7h0M419 258.5h0M428.1 265.6h0M414.6 253.9h0M432.9 250.8h0M396.7 232.8h0M445.6 235.8h0M467.8 234.7h0M394.7 234.5h0M403.3 234h0M397.2 238.1h0M405.5 239.4h0M399.2 251.1h0M409 248.4h0M400.3 250.5h0M407.7 248.1h0M431.2 249.4h0M443.4 243.9h0M400.4 229.4h0M423 232.8h0M436.8 236.5h0M473.4 232.9h0M397.4 235.9h0M451.2 267.2h0M473.1 270.8h0M398.4 246.1h0M402.1 250.3h0M437 252.4h0M395.1 239.4h0M408.8 239.6h0M433.7 234.4h0M454.9 235.8h0M396.6 240.4h0M419.1 237.9h0M397.4 259.8h0M427 261.1h0M431.8 261.6h0M394.2 246.4h0M408.6 245.2h0M398.3 239.3h0M430.2 245.7h0M399.7 253.5h0M414.2 251.4h0M428.1 258.9h0M396.8 229.4h0M409.5 231.3h0M409.7 239.9h0M423.9 236.3h0M445.4 234.5h0M407.8 243.8h0M419.7 245.7h0M456.1 259h0M395.3 222.4h0M399.2 221.7h0M429.9 224h0M401 231.5h0M456.1 227.7h0M401.8 252h0M405.2 252.2h0M415.5 248.2h0M428.3 252.8h0M396.6 229.1h0M418.9 233.3h0M398.9 235.1h0M410.7 238.8h0M437.1 233.2h0M469.4 237.8h0M396.2 257.1h0M411 255.9h0M438.5 256.1h0M458.5 254.8h0M398.6 215.2h0M405.6 217.7h0M396.1 241.2h0M412.5 242.2h0M394.8 226.2h0M410.1 224.3h0M413.7 241.2h0M455.8 231h0M464.5 234.4h0M397.6 228h0M454.6 247.8h0M395.6 234.5h0M398.3 234.9h0M397.5 243.6h0M409.3 242.9h0M395.2 240.1h0M402.3 245.8h0M407.7 243.8h0M396.3 252.2h0M436.1 252.1h0M461.2 252.2h0M400.6 252.8h0M408.4 250.7h0M447.2 250.5h0M395.1 224.4h0M410.6 223.1h0M445 218h0M398.8 223.7h0M408.1 223.9h0M395.8 229.4h0M402.8 228.5h0M396.3 246.7h0M422.2 245h0M453.8 248h0M460.8 249h0M394.4 237.3h0M397.7 236.4h0M399.6 220.1h0M409.1 218.6h0M399.3 230.9h0M416.4 228.2h0M399.7 251.4h0M412.7 249.8h0M398 227.6h0M432 227.1h0M458.6 230.1h0M399.7 224.7h0M428.7 222.2h0M396.2 217.3h0M412.5 218h0M438.2 216h0M397.3 232.7h0M414.3 229.5h0M395.2 234.5h0M398.2 233.1h0M425.5 235.4h0M464.5 228.1h0M396.8 239.7h0M413.5 244.5h0M448.6 234.1h0M398.5 234.8h0M412.3 235.1h0M400.5 235.6h0M410.3 239.3h0M398.8 215.5h0M410.1 219h0M396.7 231h0M452.7 231h0M399.7 252.4h0M445.5 254h0M394.7 230h0M406.2 227.6h0M398.9 232.5h0M468.6 239.4h0M400.2 240.9h0M414.1 241.7h0M426.6 238.9h0M394.6 230.6h0M400.8 229.9h0M411.7 228.6h0M441.3 227.3h0M397.2 251.9h0M413 249.1h0M396.7 248.7h0M436.8 249.9h0M394.3 243.6h0M410.5 238.1h0M397.2 254.6h0M406.2 257.5h0M423.7 256.7h0M397.4 215.1h0M461 226.2h0M468.9 228.6h0M406.5 233h0M419.5 236.8h0M397.1 256.6h0M404.6 253.1h0M435.6 257.9h0M465.8 260.2h0M399.4 234.6h0M419.7 235.8h0M426.4 235.6h0M400.8 242.6h0M414 242.5h0M396.9 239.4h0M400.8 242.7h0M396.9 239h0M402.9 237.3h0M397.6 233.7h0M441.9 229.1h0M397.4 235h0M410.8 235.4h0M414.2 226.6h0M437.7 222.8h0M397.7 249.9h0M405.8 261.4h0M423.6 270h0M394.5 225.5h0M453 239.8h0M399.7 244.9h0M448.7 244.4h0M401 223.6h0M405.6 218.7h0M409.8 223.6h0M395.1 237.8h0M438.6 239.6h0M395.3 237.6h0M398.3 239.8h0M400.5 250.3h0M468.5 244.3h0M400.5 240.6h0M402.9 238.4h0M433.2 238.7h0M405.2 242.2h0M415.7 244.1h0M396.2 266.7h0M423.8 261h0M395.9 250.5h0M406.4 250.8h0M394.7 238.5h0M398.8 241.1h0M405.6 233h0M399.2 233.7h0M459.9 236.8h0M394.3 240.1h0M398.5 244.5h0M437.7 243.2h0M411.2 237.4h0M441.8 233.4h0M396.6 239.2h0M439.9 245.1h0M399.9 222.3h0M412.6 214.9h0M424.1 219.3h0M394.4 240.1h0M456.6 228.7h0M403.4 230.6h0M423.7 229.6h0M397.9 238.6h0M411.3 241.9h0M422.9 243.5h0M459.9 247.5h0M396.4 220.7h0M412.7 219.8h0M400.2 230.2h0M427.7 232.3h0" stroke="#000" stroke-width="2.15" stroke-linecap="round" fill="none"/>
<polygon points="396.2,237.5 402.4,237.8 408.6,238 414.8,238.2 421,238.3 427.2,238.4 433.4,238.4 439.5,238.5 445.7,238.4 451.9,238.3 458.1,238.2 464.3,238 470.5,237.8 470.5,243.4 464.3,243.1 458.1,242.9 451.9,242.7 445.7,242.6 439.5,242.5 433.4,242.4 427.2,242.4 421,242.5 414.8,242.6 408.6,242.7 402.4,242.9 396.2,243.1" fill="#a899d8" fill-opacity="0.65"/>
<polyline points="396.2,240.3 402.4,240.3 408.6,240.3 414.8,240.4 421,240.4 427.2,240.4 433.4,240.4 439.5,240.5 445.7,240.5 451.9,240.5 458.1,240.6 464.3,240.6 470.5,240.6" fill="none" stroke="#6c59b6" stroke-width="1.2"/>
<path d="M489.3 223.4L547 234M491.5 244.7L558.1 236.6M492.1 253.8L507.4 252.1M495.8 248.4L504.6 244.1M504.6 244.1L515.6 243.1M496.6 251.7L505.2 247.3M491.7 233.3L497.3 235.3M497.3 235.3L536.3 230.3M536.3 230.3L542.3 230.4M492.6 258.1L497.2 258M491.4 234.3L496.8 238.4M496.8 238.4L511.7 237.4M511.7 237.4L538 236.7M494.4 242.8L499.7 237.5M499.7 237.5L513.6 244.9M495.7 259.3L503.4 258.5M503.4 258.5L527.2 253M489.8 253.5L547.7 258.3M492.6 242.9L507.5 241.9M491.3 249.5L551.9 260.1M490 237.8L492.2 240.1M492.2 240.1L504 241.1M493.3 246.8L544.9 244M512.6 248L546.1 253.2M546.1 253.2L556.6 250.7M495.8 254.5L511.1 252.4M511.1 252.4L550.7 241.1M491.7 247.7L563.1 237.1M490.8 254.7L530.3 255.8M530.3 255.8L550.5 251.4M492.9 245.9L502.5 245.1M502.5 245.1L530.2 244M493.2 242L508.4 241.9M491.1 237.6L493.2 232.9M495 239.4L498.5 240.5M498.5 240.5L509.3 242.3M490.3 265.9L497.5 268M497.5 268L536.8 263.2M495 232.8L544.8 226.8M492.6 255.5L556.8 268.1M492.8 248.9L497.1 244.6M497.1 244.6L533.2 250.9M492 253.5L537.1 251.8M537.1 251.8L546.1 255.1M546.1 255.1L561.8 249M489.3 244.4L505.5 246M505.5 246L534 245.9M534 245.9L551.3 249.6M551.3 249.6L562.5 247.4M495.3 254.2L522.4 255.1M490.9 228.9L513.5 225.4M513.5 225.4L524 222.6M491.4 267.9L508.2 265.9M508.2 265.9L525.6 262.6M493 249.1L513.3 247.8M513.3 247.8L547.2 243.9M493.1 234.3L501.8 234.4M501.8 234.4L518 237.2M492.6 258.9L499.8 258.2M495 256.8L532.7 265.2M532.7 265.2L558.7 270.7M491.8 265.4L499.8 264.6M499.8 264.6L513.5 265.2M513.5 265.2L521.8 267M521.8 267L539.5 269.3M489.4 245.7L552.7 238.2M552.7 238.2L567.2 235.9M491.6 233L501 234.3M501 234.3L513.9 233.8M513.9 233.8L524.9 232M524.9 232L551.4 238.5M489.7 262.9L499.8 261.9M499.8 261.9L509 262.8M490.1 260.8L497.2 258.7M497.2 258.7L514.6 259.4M490.6 252.9L498.3 255.4M498.3 255.4L537.2 246.1M492 232.7L508.9 235.6M490.3 243.2L499.8 246.9M508.6 249.9L513.6 249.7M513.6 249.7L539.6 248.4M490 258.1L545.3 255.9M545.3 255.9L553.2 255M494.2 271.2L550.3 269.4M550.3 269.4L565.4 267M492.3 252.2L500.3 253.3M495.1 249.6L503.2 255.8M503.2 255.8L530 255.1M530 255.1L540 256.5M491.2 248.6L501.4 248.3M489.9 240.5L504.4 235.5M504.4 235.5L532.9 234.3M495.8 250.6L499.3 253.8M499.3 253.8L505.9 250.4M505.9 250.4L522.2 251.5M522.2 251.5L544.6 247.2M508.3 247.4L521.4 245.9M493.6 257.6L506.4 257M506.4 257L511.8 260.5M490.3 245.3L534.5 242.9M534.5 242.9L546 248.2M489.8 250.3L491.8 251.6M491.8 251.6L519.9 245.9M519.9 245.9L525 243.7M494.8 253.5L503.7 250.7M503.7 250.7L520.7 252M520.7 252L531.1 252.4M492 251.1L501.2 243.9M490.1 250.9L505.6 248.7M505.6 248.7L532.3 248.8M532.3 248.8L560.6 249.7M489.5 250.4L497.9 246.2M496 235.9L507.1 232.5M495.5 258.3L502.8 263.8M495.9 257.1L551.6 260.3M491.4 250.5L555.4 244.5M555.4 244.5L566.4 238.3M495.1 236.9L545.7 239.8M545.7 239.8L561.8 237.3M499.9 258.4L510.2 259.5M510.2 259.5L535.3 259.1M493.5 260.2L503 263.9M490.1 240.7L495.9 238.5M495.9 238.5L533.9 239.5M489.4 258.3L504.2 258.6M498.1 245.8L512 251.5M512 251.5L521.8 247.8M491.3 264.7L537.2 250M537.2 250L558.9 249.5M490 223.5L497.7 228.1M497.7 228.1L517.1 224.6M517.1 224.6L522.9 226.7M522.9 226.7L531.9 228.4M495.7 230.9L502.6 229.1M495 258.1L534.2 258.9M493.4 242.2L548.6 234.5M490.9 252.7L551.2 253.2M551.2 253.2L559.4 252.1M489.4 270.1L491.7 275.3M492 251.1L515.2 256.2M515.2 256.2L523.4 260.4M493.6 255.6L509.5 253.9M509.5 253.9L537.1 259.1M495.6 255.1L542.8 255.1M542.8 255.1L550.9 257.1M490.2 259.4L502.1 256.8M489.9 232.7L500.5 230.9M492.6 258.7L549.9 262.5M492 237.5L499 233.9M495.4 247.7L505.3 246M493.4 249.1L497.6 250.4M497.6 250.4L513.7 250.3M513.7 250.3L526.8 248.3M494.1 245L503.4 244.4M489.8 244.6L557.2 253.7M557.2 253.7L568.7 255.1M493.9 254.9L510.8 247.9M494.5 237.5L501.4 235.7M501.4 235.7L516.6 243.2M489.8 272.9L499.7 268.6M494.7 242.6L549.2 249.9M499.8 256.1L517.2 258.9M517.2 258.9L529.4 261.8M503.8 250.9L511 250.2M511 250.2L528.6 253.3M493.3 258.1L506.8 254.7M506.8 254.7L516.2 258.1M495.4 254L506.6 252.7M492.8 247.2L509.2 238.4M509.2 238.4L514.4 233.7M490.8 243.8L493.3 239.9M493.3 239.9L516.3 243.1M494.5 276.1L501.3 276.8M501.3 276.8L505.3 277.4M505.3 277.4L520.8 277.7M512.5 244.9L563.2 246" stroke="#000" stroke-width="0.55" fill="none"/>
<path d="M489.3 223.4h0M547 234h0M491.5 244.7h0M558.1 236.6h0M492.1 253.8h0M507.4 252.1h0M495.8 248.4h0M504.6 244.1h0M515.6 243.1h0M496.6 251.7h0M505.2 247.3h0M491.7 233.3h0M497.3 235.3h0M536.3 230.3h0M542.3 230.4h0M492.6 258.1h0M497.2 258h0M491.4 234.3h0M496.8 238.4h0M511.7 237.4h0M538 236.7h0M494.4 242.8h0M499.7 237.5h0M513.6 244.9h0M495.7 259.3h0M503.4 258.5h0M527.2 253h0M489.8 253.5h0M547.7 258.3h0M492.6 242.9h0M507.5 241.9h0M491.3 249.5h0M551.9 260.1h0M490 237.8h0M492.2 240.1h0M504 241.1h0M493.3 246.8h0M544.9 244h0M512.6 248h0M546.1 253.2h0M556.6 250.7h0M495.8 254.5h0M511.1 252.4h0M550.7 241.1h0M491.7 247.7h0M563.1 237.1h0M490.8 254.7h0M530.3 255.8h0M550.5 251.4h0M492.9 245.9h0M502.5 245.1h0M530.2 244h0M493.2 242h0M508.4 241.9h0M491.1 237.6h0M493.2 232.9h0M495 239.4h0M498.5 240.5h0M509.3 242.3h0M490.3 265.9h0M497.5 268h0M536.8 263.2h0M495 232.8h0M544.8 226.8h0M492.6 255.5h0M556.8 268.1h0M492.8 248.9h0M497.1 244.6h0M533.2 250.9h0M492 253.5h0M537.1 251.8h0M546.1 255.1h0M561.8 249h0M489.3 244.4h0M505.5 246h0M534 245.9h0M551.3 249.6h0M562.5 247.4h0M495.3 254.2h0M522.4 255.1h0M490.9 228.9h0M513.5 225.4h0M524 222.6h0M491.4 267.9h0M508.2 265.9h0M525.6 262.6h0M493 249.1h0M513.3 247.8h0M547.2 243.9h0M493.1 234.3h0M501.8 234.4h0M518 237.2h0M492.6 258.9h0M499.8 258.2h0M495 256.8h0M532.7 265.2h0M558.7 270.7h0M491.8 265.4h0M499.8 264.6h0M513.5 265.2h0M521.8 267h0M539.5 269.3h0M489.4 245.7h0M552.7 238.2h0M567.2 235.9h0M491.6 233h0M501 234.3h0M513.9 233.8h0M524.9 232h0M551.4 238.5h0M489.7 262.9h0M499.8 261.9h0M509 262.8h0M490.1 260.8h0M497.2 258.7h0M514.6 259.4h0M490.6 252.9h0M498.3 255.4h0M537.2 246.1h0M492 232.7h0M508.9 235.6h0M490.3 243.2h0M499.8 246.9h0M508.6 249.9h0M513.6 249.7h0M539.6 248.4h0M490 258.1h0M545.3 255.9h0M553.2 255h0M494.2 271.2h0M550.3 269.4h0M565.4 267h0M492.3 252.2h0M500.3 253.3h0M495.1 249.6h0M503.2 255.8h0M530 255.1h0M540 256.5h0M491.2 248.6h0M501.4 248.3h0M489.9 240.5h0M504.4 235.5h0M532.9 234.3h0M495.8 250.6h0M499.3 253.8h0M505.9 250.4h0M522.2 251.5h0M544.6 247.2h0M508.3 247.4h0M521.4 245.9h0M493.6 257.6h0M506.4 257h0M511.8 260.5h0M490.3 245.3h0M534.5 242.9h0M546 248.2h0M489.8 250.3h0M491.8 251.6h0M519.9 245.9h0M525 243.7h0M494.8 253.5h0M503.7 250.7h0M520.7 252h0M531.1 252.4h0M492 251.1h0M501.2 243.9h0M490.1 250.9h0M505.6 248.7h0M532.3 248.8h0M560.6 249.7h0M489.5 250.4h0M497.9 246.2h0M496 235.9h0M507.1 232.5h0M495.5 258.3h0M502.8 263.8h0M495.9 257.1h0M551.6 260.3h0M491.4 250.5h0M555.4 244.5h0M566.4 238.3h0M495.1 236.9h0M545.7 239.8h0M561.8 237.3h0M499.9 258.4h0M510.2 259.5h0M535.3 259.1h0M493.5 260.2h0M503 263.9h0M490.1 240.7h0M495.9 238.5h0M533.9 239.5h0M489.4 258.3h0M504.2 258.6h0M498.1 245.8h0M512 251.5h0M521.8 247.8h0M491.3 264.7h0M537.2 250h0M558.9 249.5h0M490 223.5h0M497.7 228.1h0M517.1 224.6h0M522.9 226.7h0M531.9 228.4h0M495.7 230.9h0M502.6 229.1h0M495 258.1h0M534.2 258.9h0M493.4 242.2h0M548.6 234.5h0M490.9 252.7h0M551.2 253.2h0M559.4 252.1h0M489.4 270.1h0M491.7 275.3h0M492 251.1h0M515.2 256.2h0M523.4 260.4h0M493.6 255.6h0M509.5 253.9h0M537.1 259.1h0M495.6 255.1h0M542.8 255.1h0M550.9 257.1h0M490.2 259.4h0M502.1 256.8h0M489.9 232.7h0M500.5 230.9h0M492.6 258.7h0M549.9 262.5h0M492 237.5h0M499 233.9h0M495.4 247.7h0M505.3 246h0M493.4 249.1h0M497.6 250.4h0M513.7 250.3h0M526.8 248.3h0M494.1 245h0M503.4 244.4h0M489.8 244.6h0M557.2 253.7h0M568.7 255.1h0M493.9 254.9h0M510.8 247.9h0M494.5 237.5h0M501.4 235.7h0M516.6 243.2h0M489.8 272.9h0M499.7 268.6h0M494.7 242.6h0M549.2 249.9h0M499.8 256.1h0M517.2 258.9h0M529.4 261.8h0M503.8 250.9h0M511 250.2h0M528.6 253.3h0M493.3 258.1h0M506.8 254.7h0M516.2 258.1h0M495.4 254h0M506.6 252.7h0M492.8 247.2h0M509.2 238.4h0M514.4 233.7h0M490.8 243.8h0M493.3 239.9h0M516.3 243.1h0M494.5 276.1h0M501.3 276.8h0M505.3 277.4h0M520.8 277.7h0M512.5 244.9h0M563.2 246h0" stroke="#000" stroke-width="2.15" stroke-linecap="round" fill="none"/>
<polygon points="491.5,248 497.7,248.2 503.9,248.4 510.1,248.6 516.3,248.7 522.5,248.8 528.6,248.8 534.8,248.8 541,248.7 547.2,248.6 553.4,248.4 559.6,248.2 565.8,248 565.8,253.6 559.6,253.4 553.4,253.2 547.2,253 541,252.9 534.8,252.8 528.6,252.8 522.5,252.8 516.3,252.9 510.1,253 503.9,253.2 497.7,253.4 491.5,253.6" fill="#a899d8" fill-opacity="0.65"/>
<polyline points="491.5,250.8 497.7,250.8 503.9,250.8 510.1,250.8 516.3,250.8 522.5,250.8 528.6,250.8 534.8,250.8 541,250.8 547.2,250.8 553.4,250.8 559.6,250.8 565.8,250.8" fill="none" stroke="#6c59b6" stroke-width="1.2"/>
<path d="M588.7 254L610.9 258.7M585.7 252.5L637.1 241.1M637.1 241.1L664.5 242M604.7 245.9L623.2 250.1M591 257L628.1 263.5M591.9 261.5L595.9 258.6M595.9 258.6L635.2 237.7M635.2 237.7L645.1 238.2M585.7 250.8L596.9 244.6M591 254.2L604.4 257.1M604.4 257.1L635.1 258M590.9 260.3L601.4 257.7M589.4 242.6L616.2 243.2M616.2 243.2L635.4 241M635.4 241L645.9 238.1M585.7 261L596.1 258.6M596.1 258.6L630.6 264.9M630.6 264.9L635.7 263.3M591.2 257L601 257.3M587.6 250.8L598.2 251.8M598.2 251.8L632 245.5M632 245.5L655 236.9M655 236.9L663.5 240.4M590.8 247.8L613.8 253.2M586.2 253.4L602 258.2M602 258.2L616.2 253.8M603.4 251.3L619.4 250.5M586.4 252.4L599.5 253.4M599.5 253.4L616.2 252.7M589.2 261.4L597.7 258.2M588.7 257.7L603.5 261.8M588.2 262.4L591.8 260M591.1 254L601.8 256.8M588.5 254.5L641.7 257M587.8 255.3L638.2 257.8M591.8 255.9L663.2 265.6M589 252.7L604.9 251.2M588.3 261.9L631.1 254.5M589.9 254.3L595.1 255M595.1 255L634.4 259.6M585.7 256.6L595.3 257M595.3 257L632.8 266.5M632.8 266.5L659.8 267.6M588 252.1L595.9 255.3M590.3 257.8L594.4 255.8M591.5 256.2L596.8 257.4M596.8 257.4L624.3 249.9M602.8 248.8L663.5 242.9M586.5 263.2L626.4 274.1M588.2 255.1L619.4 262.3M619.4 262.3L633.7 261.1M633.7 261.1L657.2 266.1M590.3 239.3L597.6 239.4M597.6 239.4L628.8 239.7M591.9 252.5L606.2 254.3M607.8 251L651.3 257M589.9 254.1L593.3 253.4M590.6 259.3L595.8 256.7M586.3 259.1L595.2 261.6M595.2 261.6L617 264.8M617 264.8L646.6 273.3M587.4 254.7L594.1 256.1M596.4 247.8L611.4 250.8M611.4 250.8L645.8 249.3M591 259.7L625 257M588 262.9L612.4 262.1M612.4 262.1L631.5 260.8M593.7 250.9L610.7 250.7M610.7 250.7L646.5 261.2M587.5 261.2L594.7 255.1M594.7 255.1L625.5 262.1M606.8 241.1L629.7 244.4M587.1 251.7L598.3 253.7M591.8 244.2L599.1 250.6M599.1 250.6L620.2 245.9M587.2 246.3L639.5 248.1M639.5 248.1L652.4 248.3M592.1 247.2L661.2 253.4M589.1 252.4L614.9 247.3M614.9 247.3L641.9 241.4M585.5 259.8L631.7 266.9M631.7 266.9L639.5 266.5M586.6 248L594.1 246.8M591.7 257.8L593.9 257.8M591.1 262.5L601.6 262M601.6 262L613.4 263.5M613.4 263.5L649.8 263.3M592.2 261L602 256.3M602 256.3L640.7 261.2M589.1 246.3L600.2 246M600.2 246L608 248M608 248L621.6 245.1M589.5 248.4L598.7 248.9M587.8 250L601.8 247.9M601.8 247.9L610.8 251M586.5 254.9L624.7 253.1M624.7 253.1L647.9 251.9M586.5 249.4L593.7 250.9M586.8 252.3L599.1 245.6M586.6 245.9L589.9 246.1M590.3 252.2L615.4 251.6M615.4 251.6L626.8 247.3M589 260.7L640.6 257.7M586.9 249.5L638 253.1M606.2 256.4L614.6 262M591.5 254.5L604.6 256.3M587.9 241.1L602.5 248.5M602.5 248.5L628.6 266.5M628.6 266.5L638 271.3M589.2 250.4L621.1 252.8M588.5 254.6L627.1 251.2M627.1 251.2L650.2 250.4M590.7 250.7L631.2 263.4M590.7 250.6L630.1 256.5M585.5 259L634.8 254M586.4 235.8L637.7 233.1M637.7 233.1L644.8 239M588 255.6L592.5 256.4M592.5 256.4L616.7 256M616.7 256L625.5 255M591.5 251.7L650 252.5M586.5 252.9L593.2 251.1M593.2 251.1L611.5 247.1M611.5 247.1L649.6 245.2M587.7 245.6L644.9 245.5M602.8 256L610.1 257.6M591.9 255.2L620 262.7M620 262.7L645.1 268.2M591.4 256.5L641.8 268.5M588.9 250.2L653.6 246.9M585.6 250.9L639 265.1M639 265.1L644.8 261.1M591.7 251.9L606.8 254.5M606.8 254.5L624.4 254.7M624.4 254.7L659.2 253.9M587 256.8L652.8 252.1M590.8 249.8L604.3 255.8M604.3 255.8L612.4 251.7M588.2 249.8L601.8 256.7M586.6 250L595.1 255.3M595.1 255.3L619.9 266M587.4 249.9L597.8 247.9M590.6 256.8L605.1 251.2M605.1 251.2L609.3 252.1M586.6 244.8L602.8 246M586.4 261.7L603.6 257.6M586.8 259.6L600.3 257.8M588.6 250.4L653.3 242.7M587.8 260.3L603 260.7M589 257.1L594.8 259.5M594.8 259.5L609.1 256.4M587.4 258.3L595.1 256.6M586.2 253.5L595.4 250.8M595.8 256.7L652.4 260.2M588.4 254.9L595.4 257.6M590.5 243.3L638.9 245.3M602.5 255.4L615 244.2M590.4 253.8L608 249.2M608 249.2L626.7 250.6M587.2 259.4L651.2 264.2M589.9 244.4L598.4 244.7M598.4 244.7L632.6 246.2M632.6 246.2L656.9 245.6M585.4 249L620.1 257.3M620.1 257.3L633.8 258.4M590.1 249.6L600.5 253.5M600.5 253.5L617.2 258.7M617.2 258.7L649.9 261.8M586 251.6L592.6 251.6M586.6 253L602.4 255.5M602.4 255.5L624.9 258.7M624.9 258.7L634.4 258.9M588.8 236.7L634.8 245.6M585.8 236.2L631.5 252.1M598.5 234.5L625.5 244.4M594.8 239.7L618.7 250.2M584.5 236.6L631.2 242.3M589.3 239.5L628.8 243" stroke="#000" stroke-width="0.55" fill="none"/>
<path d="M588.7 254h0M610.9 258.7h0M585.7 252.5h0M637.1 241.1h0M664.5 242h0M604.7 245.9h0M623.2 250.1h0M591 257h0M628.1 263.5h0M591.9 261.5h0M595.9 258.6h0M635.2 237.7h0M645.1 238.2h0M585.7 250.8h0M596.9 244.6h0M591 254.2h0M604.4 257.1h0M635.1 258h0M590.9 260.3h0M601.4 257.7h0M589.4 242.6h0M616.2 243.2h0M635.4 241h0M645.9 238.1h0M585.7 261h0M596.1 258.6h0M630.6 264.9h0M635.7 263.3h0M591.2 257h0M601 257.3h0M587.6 250.8h0M598.2 251.8h0M632 245.5h0M655 236.9h0M663.5 240.4h0M590.8 247.8h0M613.8 253.2h0M586.2 253.4h0M602 258.2h0M616.2 253.8h0M603.4 251.3h0M619.4 250.5h0M586.4 252.4h0M599.5 253.4h0M616.2 252.7h0M589.2 261.4h0M597.7 258.2h0M588.7 257.7h0M603.5 261.8h0M588.2 262.4h0M591.8 260h0M591.1 254h0M601.8 256.8h0M588.5 254.5h0M641.7 257h0M587.8 255.3h0M638.2 257.8h0M591.8 255.9h0M663.2 265.6h0M589 252.7h0M604.9 251.2h0M588.3 261.9h0M631.1 254.5h0M589.9 254.3h0M595.1 255h0M634.4 259.6h0M585.7 256.6h0M595.3 257h0M632.8 266.5h0M659.8 267.6h0M588 252.1h0M595.9 255.3h0M590.3 257.8h0M594.4 255.8h0M591.5 256.2h0M596.8 257.4h0M624.3 249.9h0M602.8 248.8h0M663.5 242.9h0M586.5 263.2h0M626.4 274.1h0M588.2 255.1h0M619.4 262.3h0M633.7 261.1h0M657.2 266.1h0M590.3 239.3h0M597.6 239.4h0M628.8 239.7h0M591.9 252.5h0M606.2 254.3h0M607.8 251h0M651.3 257h0M589.9 254.1h0M593.3 253.4h0M590.6 259.3h0M595.8 256.7h0M586.3 259.1h0M595.2 261.6h0M617 264.8h0M646.6 273.3h0M587.4 254.7h0M594.1 256.1h0M596.4 247.8h0M611.4 250.8h0M645.8 249.3h0M591 259.7h0M625 257h0M588 262.9h0M612.4 262.1h0M631.5 260.8h0M593.7 250.9h0M610.7 250.7h0M646.5 261.2h0M587.5 261.2h0M594.7 255.1h0M625.5 262.1h0M606.8 241.1h0M629.7 244.4h0M587.1 251.7h0M598.3 253.7h0M591.8 244.2h0M599.1 250.6h0M620.2 245.9h0M587.2 246.3h0M639.5 248.1h0M652.4 248.3h0M592.1 247.2h0M661.2 253.4h0M589.1 252.4h0M614.9 247.3h0M641.9 241.4h0M585.5 259.8h0M631.7 266.9h0M639.5 266.5h0M586.6 248h0M594.1 246.8h0M591.7 257.8h0M593.9 257.8h0M591.1 262.5h0M601.6 262h0M613.4 263.5h0M649.8 263.3h0M592.2 261h0M602 256.3h0M640.7 261.2h0M589.1 246.3h0M600.2 246h0M608 248h0M621.6 245.1h0M589.5 248.4h0M598.7 248.9h0M587.8 250h0M601.8 247.9h0M610.8 251h0M586.5 254.9h0M624.7 253.1h0M647.9 251.9h0M586.5 249.4h0M593.7 250.9h0M586.8 252.3h0M599.1 245.6h0M586.6 245.9h0M589.9 246.1h0M590.3 252.2h0M615.4 251.6h0M626.8 247.3h0M589 260.7h0M640.6 257.7h0M586.9 249.5h0M638 253.1h0M606.2 256.4h0M614.6 262h0M591.5 254.5h0M604.6 256.3h0M587.9 241.1h0M602.5 248.5h0M628.6 266.5h0M638 271.3h0M589.2 250.4h0M621.1 252.8h0M588.5 254.6h0M627.1 251.2h0M650.2 250.4h0M590.7 250.7h0M631.2 263.4h0M590.7 250.6h0M630.1 256.5h0M585.5 259h0M634.8 254h0M586.4 235.8h0M637.7 233.1h0M644.8 239h0M588 255.6h0M592.5 256.4h0M616.7 256h0M625.5 255h0M591.5 251.7h0M650 252.5h0M586.5 252.9h0M593.2 251.1h0M611.5 247.1h0M649.6 245.2h0M587.7 245.6h0M644.9 245.5h0M602.8 256h0M610.1 257.6h0M591.9 255.2h0M620 262.7h0M645.1 268.2h0M591.4 256.5h0M641.8 268.5h0M588.9 250.2h0M653.6 246.9h0M585.6 250.9h0M639 265.1h0M644.8 261.1h0M591.7 251.9h0M606.8 254.5h0M624.4 254.7h0M659.2 253.9h0M587 256.8h0M652.8 252.1h0M590.8 249.8h0M604.3 255.8h0M612.4 251.7h0M588.2 249.8h0M601.8 256.7h0M586.6 250h0M595.1 255.3h0M619.9 266h0M587.4 249.9h0M597.8 247.9h0M590.6 256.8h0M605.1 251.2h0M609.3 252.1h0M586.6 244.8h0M602.8 246h0M586.4 261.7h0M603.6 257.6h0M586.8 259.6h0M600.3 257.8h0M588.6 250.4h0M653.3 242.7h0M587.8 260.3h0M603 260.7h0M589 257.1h0M594.8 259.5h0M609.1 256.4h0M587.4 258.3h0M595.1 256.6h0M586.2 253.5h0M595.4 250.8h0M595.8 256.7h0M652.4 260.2h0M588.4 254.9h0M595.4 257.6h0M590.5 243.3h0M638.9 245.3h0M602.5 255.4h0M615 244.2h0M590.4 253.8h0M608 249.2h0M626.7 250.6h0M587.2 259.4h0M651.2 264.2h0M589.9 244.4h0M598.4 244.7h0M632.6 246.2h0M656.9 245.6h0M585.4 249h0M620.1 257.3h0M633.8 258.4h0M590.1 249.6h0M600.5 253.5h0M617.2 258.7h0M649.9 261.8h0M586 251.6h0M592.6 251.6h0M586.6 253h0M602.4 255.5h0M624.9 258.7h0M634.4 258.9h0M588.8 236.7h0M634.8 245.6h0M585.8 236.2h0M631.5 252.1h0M598.5 234.5h0M625.5 244.4h0M594.8 239.7h0M618.7 250.2h0M584.5 236.6h0M631.2 242.3h0M589.3 239.5h0M628.8 243h0" stroke="#000" stroke-width="2.15" stroke-linecap="round" fill="none"/>
<polygon points="587,252.4 593.2,252.7 599.4,253 605.6,253.2 611.8,253.5 618,253.7 624.1,253.8 630.3,253.9 636.5,254 642.7,254.1 648.9,254.1 655.1,254.1 661.3,254 661.3,257.6 655.1,257.3 648.9,257 642.7,256.8 636.5,256.5 630.3,256.3 624.1,256.2 618,256.1 611.8,256 605.6,255.9 599.4,255.9 593.2,255.9 587,256" fill="#a899d8" fill-opacity="0.65"/>
<polyline points="587,254.2 593.2,254.3 599.4,254.5 605.6,254.6 611.8,254.7 618,254.9 624.1,255 630.3,255.1 636.5,255.3 642.7,255.4 648.9,255.5 655.1,255.7 661.3,255.8" fill="none" stroke="#6c59b6" stroke-width="1.2"/>
<path d="M399.3 343.4L402.8 344.5M409 343.6L416.1 349.1M400.6 321.5L467.6 339.7M396.2 361.2L399.2 357.3M399.2 357.3L435.4 362.4M435.4 362.4L465 367.4M394.2 324.5L402.9 334.3M402.9 334.3L417.4 337.3M399.7 339.2L411.5 345M399 322.8L403.1 326.8M398.2 327.6L401.8 332.3M401.8 332.3L415.5 336.3M415.5 336.3L430.4 340.1M400.7 336.4L404.7 337.5M394.9 341.2L398.4 340.9M398.4 340.9L432.3 353.2M399.2 328.1L445.3 353.3M408.7 355L418 357.6M418 357.6L424.5 355.5M397.7 333.1L419.9 343.9M419.9 343.9L438.8 352.8M400.6 347.8L408.4 347.3M408.4 347.3L441.3 364.8M396.3 342.5L400.7 343.2M399 318.9L459.6 341M417.6 351.8L444.2 360.7M397.7 314.5L424 317.9M397.1 320.3L409.4 318.2M409.4 318.2L418.8 322.6M400.2 352.7L449.3 365M397.1 328.3L404.3 329.3M404.3 329.3L414.5 329.7M394.2 353.7L396.5 352.4M396.5 352.4L423.5 356.9M395.1 311.2L403.8 314.1M403.8 314.1L438.7 326.7M397.1 311L400.8 311.1M396.5 323.5L401.8 318.3M416.1 354.4L456 360.3M396.9 342.2L410.6 347.9M410.6 347.9L425.2 350.7M425.2 350.7L444.1 364.6M394.2 332L408.6 335.8M408.6 335.8L415.6 340.6M415.6 340.6L427.1 346.3M394.8 338.4L408.7 344.7M397.2 342.5L409.8 347.3M409.8 347.3L415.2 346.3M395.2 340.7L399.8 343.5M395.8 331.5L439.7 334.4M396.2 328.5L437.2 341.7M437.2 341.7L469.4 364.3M396.6 326.7L429.1 341.1M395 326.1L397.9 329.8M397.9 329.8L436.8 346.4M404 320L422.5 332.5M422.5 332.5L432.3 339.2M432.3 339.2L446.8 338.5M400.1 346.1L402.2 349.3M399 337L430.7 354M413.1 348.4L422.3 350.7M396.8 353.6L411.3 363.3M397.4 327.2L401.8 329.3M401.8 329.3L419.1 326.6M401.1 344.1L403.6 343.8M403.6 343.8L442.1 352.5M397 326.6L400.4 331M408.9 339.1L425.3 345.8M425.3 345.8L450.8 348.9M394.2 323.5L400.8 329.3M400.8 329.3L426.8 323.6M426.8 323.6L446.7 333.5M446.7 333.5L469.8 334.8M400.4 335.2L413.1 337.5M400.5 342.6L448.9 357.8M397.6 312.9L416.1 322.9M416.1 322.9L423.5 327.4M395.1 362.7L406.2 367.4M406.2 367.4L437.8 368.1M396.6 324.4L444.9 329.3M444.9 329.3L471.5 333.8M396 324.6L405.7 320.8M405.7 320.8L427.7 318.7M409 336L414.8 336.6M414.8 336.6L443.4 341.6M397.3 322.1L408 327.2M400.9 324.1L410.8 328.9M410.8 328.9L433.5 346.3M433.5 346.3L445.7 349.7M405.9 326.4L414.7 334M396.3 352L405.8 362.4M405.8 362.4L429.8 367.7M403.8 351.3L414.2 353.5M414.2 353.5L421.2 353.2M395.6 315.5L407 319.4M407 319.4L434.5 334.6M394.7 347L452.3 362.1M395.3 342.9L404.4 341M397.7 324L406.1 327.2M406.1 327.2L420 333.4M420 333.4L438.2 347.5M401 316.2L417.5 318.7M417.5 318.7L435 318.9M435 318.9L471.8 332.2M399.2 325.1L413.6 335.8M413.6 335.8L450.8 353.7M450.8 353.7L456.5 359M398.7 327.8L415.6 337.9M415.6 337.9L454.5 343.4M398.1 351L405.3 349.9M405.3 349.9L422.6 358.8M400.4 338.1L404.7 343.8M399.5 319.1L425.4 327M425.4 327L449 331M414.3 338L431.1 350.1M431.1 350.1L463.6 367.2M399.8 318.6L414.4 319.2M396.4 349L409.4 348.6M396.6 330.9L406.7 337.3M406.7 337.3L415.9 340.9M415.9 340.9L445.7 353.3M399.4 325.9L414.3 335.6M399.2 354.8L454.2 365.4M397.5 310.8L403 315.1M403 315.1L421.2 327.4M421.2 327.4L441 341.6M394.8 336.6L410.8 345.3M410.8 345.3L445.4 360.6M396.7 352.4L410 358.1M410 358.1L436.3 368.8M436.3 368.8L445 363.5M396.6 339.7L400.6 342.9M400.4 322.2L468.4 334.2M398.8 346L402.8 346.1M402.8 346.1L416 352M398.7 336.3L454.7 345.4M396 347.2L404.4 352.9M404.4 352.9L426.7 359.3M399.5 328.4L440.8 330.1M440.8 330.1L457.1 340.5M399.8 338.6L415.2 340.2M395 359.3L440.4 368M440.4 368L470.7 364.7M394.9 347.2L410 357.7M410 357.7L442.3 366.3M442.3 366.3L449 366.2M399.5 351.5L410.5 356.1M400.6 345.9L432.3 361.8M398.9 333.3L429.8 337.8M394.5 328.5L401.4 336.1M401.4 336.1L433.4 351.3M433.4 351.3L446.1 356.5M400.2 354.3L462.6 366M397.5 348.6L404 351.9M412.3 312.1L418.4 311.5M418.4 311.5L441.1 319.3M396.4 325L406.9 330.7M398.1 352.7L408.6 356.8M401 340.7L403 344.2M403 344.2L420 347.9M420 347.9L431.8 356.9M397.9 309.3L400.1 305.4M400.3 346.9L426 355M415 334.8L421.9 336M421.9 336L446.8 346.7M446.8 346.7L458 349.2M395.3 322.8L421 339.4M397.8 319.8L406.1 322.8" stroke="#000" stroke-width="0.55" fill="none"/>
<path d="M399.3 343.4h0M402.8 344.5h0M409 343.6h0M416.1 349.1h0M400.6 321.5h0M467.6 339.7h0M396.2 361.2h0M399.2 357.3h0M435.4 362.4h0M465 367.4h0M394.2 324.5h0M402.9 334.3h0M417.4 337.3h0M399.7 339.2h0M411.5 345h0M399 322.8h0M403.1 326.8h0M398.2 327.6h0M401.8 332.3h0M415.5 336.3h0M430.4 340.1h0M400.7 336.4h0M404.7 337.5h0M394.9 341.2h0M398.4 340.9h0M432.3 353.2h0M399.2 328.1h0M445.3 353.3h0M408.7 355h0M418 357.6h0M424.5 355.5h0M397.7 333.1h0M419.9 343.9h0M438.8 352.8h0M400.6 347.8h0M408.4 347.3h0M441.3 364.8h0M396.3 342.5h0M400.7 343.2h0M399 318.9h0M459.6 341h0M417.6 351.8h0M444.2 360.7h0M397.7 314.5h0M424 317.9h0M397.1 320.3h0M409.4 318.2h0M418.8 322.6h0M400.2 352.7h0M449.3 365h0M397.1 328.3h0M404.3 329.3h0M414.5 329.7h0M394.2 353.7h0M396.5 352.4h0M423.5 356.9h0M395.1 311.2h0M403.8 314.1h0M438.7 326.7h0M397.1 311h0M400.8 311.1h0M396.5 323.5h0M401.8 318.3h0M416.1 354.4h0M456 360.3h0M396.9 342.2h0M410.6 347.9h0M425.2 350.7h0M444.1 364.6h0M394.2 332h0M408.6 335.8h0M415.6 340.6h0M427.1 346.3h0M394.8 338.4h0M408.7 344.7h0M397.2 342.5h0M409.8 347.3h0M415.2 346.3h0M395.2 340.7h0M399.8 343.5h0M395.8 331.5h0M439.7 334.4h0M396.2 328.5h0M437.2 341.7h0M469.4 364.3h0M396.6 326.7h0M429.1 341.1h0M395 326.1h0M397.9 329.8h0M436.8 346.4h0M404 320h0M422.5 332.5h0M432.3 339.2h0M446.8 338.5h0M400.1 346.1h0M402.2 349.3h0M399 337h0M430.7 354h0M413.1 348.4h0M422.3 350.7h0M396.8 353.6h0M411.3 363.3h0M397.4 327.2h0M401.8 329.3h0M419.1 326.6h0M401.1 344.1h0M403.6 343.8h0M442.1 352.5h0M397 326.6h0M400.4 331h0M408.9 339.1h0M425.3 345.8h0M450.8 348.9h0M394.2 323.5h0M400.8 329.3h0M426.8 323.6h0M446.7 333.5h0M469.8 334.8h0M400.4 335.2h0M413.1 337.5h0M400.5 342.6h0M448.9 357.8h0M397.6 312.9h0M416.1 322.9h0M423.5 327.4h0M395.1 362.7h0M406.2 367.4h0M437.8 368.1h0M396.6 324.4h0M444.9 329.3h0M471.5 333.8h0M396 324.6h0M405.7 320.8h0M427.7 318.7h0M409 336h0M414.8 336.6h0M443.4 341.6h0M397.3 322.1h0M408 327.2h0M400.9 324.1h0M410.8 328.9h0M433.5 346.3h0M445.7 349.7h0M405.9 326.4h0M414.7 334h0M396.3 352h0M405.8 362.4h0M429.8 367.7h0M403.8 351.3h0M414.2 353.5h0M421.2 353.2h0M395.6 315.5h0M407 319.4h0M434.5 334.6h0M394.7 347h0M452.3 362.1h0M395.3 342.9h0M404.4 341h0M397.7 324h0M406.1 327.2h0M420 333.4h0M438.2 347.5h0M401 316.2h0M417.5 318.7h0M435 318.9h0M471.8 332.2h0M399.2 325.1h0M413.6 335.8h0M450.8 353.7h0M456.5 359h0M398.7 327.8h0M415.6 337.9h0M454.5 343.4h0M398.1 351h0M405.3 349.9h0M422.6 358.8h0M400.4 338.1h0M404.7 343.8h0M399.5 319.1h0M425.4 327h0M449 331h0M414.3 338h0M431.1 350.1h0M463.6 367.2h0M399.8 318.6h0M414.4 319.2h0M396.4 349h0M409.4 348.6h0M396.6 330.9h0M406.7 337.3h0M415.9 340.9h0M445.7 353.3h0M399.4 325.9h0M414.3 335.6h0M399.2 354.8h0M454.2 365.4h0M397.5 310.8h0M403 315.1h0M421.2 327.4h0M441 341.6h0M394.8 336.6h0M410.8 345.3h0M445.4 360.6h0M396.7 352.4h0M410 358.1h0M436.3 368.8h0M445 363.5h0M396.6 339.7h0M400.6 342.9h0M400.4 322.2h0M468.4 334.2h0M398.8 346h0M402.8 346.1h0M416 352h0M398.7 336.3h0M454.7 345.4h0M396 347.2h0M404.4 352.9h0M426.7 359.3h0M399.5 328.4h0M440.8 330.1h0M457.1 340.5h0M399.8 338.6h0M415.2 340.2h0M395 359.3h0M440.4 368h0M470.7 364.7h0M394.9 347.2h0M410 357.7h0M442.3 366.3h0M449 366.2h0M399.5 351.5h0M410.5 356.1h0M400.6 345.9h0M432.3 361.8h0M398.9 333.3h0M429.8 337.8h0M394.5 328.5h0M401.4 336.1h0M433.4 351.3h0M446.1 356.5h0M400.2 354.3h0M462.6 366h0M397.5 348.6h0M404 351.9h0M412.3 312.1h0M418.4 311.5h0M441.1 319.3h0M396.4 325h0M406.9 330.7h0M398.1 352.7h0M408.6 356.8h0M401 340.7h0M403 344.2h0M420 347.9h0M431.8 356.9h0M397.9 309.3h0M400.1 305.4h0M400.3 346.9h0M426 355h0M415 334.8h0M421.9 336h0M446.8 346.7h0M458 349.2h0M395.3 322.8h0M421 339.4h0M397.8 319.8h0M406.1 322.8h0" stroke="#000" stroke-width="2.15" stroke-linecap="round" fill="none"/>
<polygon points="396.2,325.5 402.4,328 408.6,330.3 414.8,332.4 421,334.3 427.2,335.9 433.4,337.4 439.5,338.7 445.7,339.7 451.9,340.5 458.1,341 464.3,341.2 470.5,341 470.5,350 464.3,349 458.1,347.9 451.9,346.6 445.7,345.3 439.5,344 433.4,342.6 427.2,341.2 421,339.9 414.8,338.5 408.6,337.2 402.4,335.8 396.2,334.5" fill="#a899d8" fill-opacity="0.65"/>
<polyline points="396.2,330 402.4,331.9 408.6,333.7 414.8,335.4 421,337.1 427.2,338.6 433.4,340 439.5,341.3 445.7,342.5 451.9,343.6 458.1,344.4 464.3,345.1 470.5,345.5" fill="none" stroke="#6c59b6" stroke-width="1.2"/>
<path d="M491.8 359L501.2 363.1M495.5 348L501.3 344.3M497.6 342.8L530.2 337M510.4 365.2L533.1 365.6M494.6 349.8L506.3 356.4M502.8 340.7L506 348.3M506 348.3L514.2 351.9M495.2 361.2L505.9 361.8M496 370.2L513.2 367M513.2 367L543.2 367.3M496 360.9L504.4 365.8M490.8 361.4L492.8 361.9M493 347L502 347.8M502 347.8L524.6 351.6M494.6 343.8L557.6 353.9M494.3 345L553.9 356.6M553.9 356.6L558.3 355.9M490.3 361.1L496.3 359.1M496.3 359.1L513.3 363M513.3 363L541.2 365.1M541.2 365.1L561 367.5M505.9 370L512.9 368M490.6 356.8L500 359.3M500 359.3L508.5 364.3M493.6 353.4L530.7 354.4M494.6 347.6L529.8 335.9M529.8 335.9L559.6 327.8M495.7 353.1L510.2 359.2M510.2 359.2L520.9 359.8M495.7 342.9L510 343.5M510 343.5L540.5 351.5M494.3 352.1L540.9 359.6M540.9 359.6L558.3 358.9M495.5 354.5L503.8 350.9M496 341.1L505.8 342.5M505.8 342.5L539.7 345.9M539.7 345.9L552.9 348.2M495.1 351.8L562.5 368.6M490.9 339.9L493.4 344.4M512.8 320.8L530.9 322.7M530.9 322.7L540.3 333.3M540.3 333.3L563.9 326.7M494.8 340.7L498.3 347.7M490.7 358.3L527.7 358.9M495 353.5L541 339.7M541 339.7L554.3 334.4M490.3 350.6L510.1 351.5M495.8 350.4L556.1 366M495 362L542.1 366.3M492 353L562.6 357.5M508.9 354.6L535.3 354.7M535.3 354.7L565.4 363.8M495.8 362.1L537.2 366.6M537.2 366.6L552.7 368.2M494.5 337.7L523.7 338.3M489.7 351.5L502.1 358.4M490.6 356.7L496 361.2M490.7 350L499.2 350.7M498.3 350.6L517.9 351.4M517.9 351.4L527.5 352.8M495.4 350.7L514 362.9M514 362.9L540.3 369.9M489.3 343.6L493.8 340.3M490.7 353.3L497.2 351.8M494 352.5L504.4 351.8M504.4 351.8L523.6 357.6M491.8 356L500.4 359.3M500.4 359.3L517.9 362.5M503.1 365.7L515 363.1M515 363.1L541.1 364.9M494.5 357.2L547.4 366.9M547.4 366.9L558.7 365.4M508.2 359.5L519 357M519 357L541.3 365.8M495.7 352.8L502 352.3M502 352.3L529.4 366.8M529.4 366.8L543.7 371M543.7 371L550 368.8M493.5 348.6L510.4 347.9M510.4 347.9L522 346.5M522 346.5L551.4 350.9M493.9 370.7L504.3 369.7M504.3 369.7L525.9 366.3M525.9 366.3L565.3 368.4M493.8 346.3L495.8 344.1M495.8 344.1L513.6 352.1M493.8 364.9L504.3 364.4M505.9 359.8L525.5 364.4M491.9 355.9L506.5 358.8M490.1 358.8L502.8 358.5M502.8 358.5L540.7 366.9M493 329.4L560.6 334.9M493.5 354.3L497.9 357.9M492.8 349L495 348.5M495.7 354.2L499.4 354.8M492.7 350.5L558.6 358.4M491 369.8L506.9 366.6M506.9 366.6L534.9 368.6M495.8 350.8L506.3 354.7M506.3 354.7L522.7 348.1M522.7 348.1L537.7 348.7M490.8 360L542.8 365.3M496.1 344.1L501.5 347M492.3 347.9L495.1 345.1M491 343.1L498.2 353.2M495 362.8L532.2 367.3M532.2 367.3L567.5 369.1M497 357.6L549.4 365M495.2 359.3L501.7 354M491.6 349.3L495.5 351.7M495.5 351.7L527.1 352.4M494.4 347.3L514 347.2M494.6 358.3L533.2 363M533.2 363L559.7 362.6M490.8 362.6L499.6 365M492.6 344.9L502.3 345.9M489.8 355L504.5 355M504.5 355L520.9 365.5M489.9 321L507 321.7M507 321.7L519 325.7M489.9 351.9L492.7 350.4M494.1 353L552.6 366.9M495.4 351.3L560.7 370M489.9 350.2L507.1 358.7M507.1 358.7L515.7 354.4M515.7 354.4L521.4 358.6M491.5 355.8L501.7 354.6M501.7 354.6L526.2 360.1M489.7 357.8L493.9 357.1M493.9 357.1L508.3 359.5M508.3 359.5L517.6 361.7M495.3 354.1L510.7 352.3M510.7 352.3L549.2 350.5M549.2 350.5L568.5 345.7M491.6 360.3L514.1 363.9M491.9 351.2L502.6 348.1M502.6 348.1L514.6 351.7M490.6 348.8L505.6 349.6M505.6 349.6L545.3 362.4M502.2 356L551.9 359.5M491.5 347.1L499.3 351.9M490.1 360.8L551.2 369.2M510.5 328.9L521.1 336.4M489.2 341.2L501.6 343.1M495.6 363.7L528.8 359.1M490.7 366.6L495.4 365.4M495.4 365.4L522.6 367.9M522.6 367.9L545.6 367.3M501 357.4L555.1 367.9M507.6 359.4L517.8 365.8M490.6 369L503.5 369.4M503.5 369.4L539.1 369.5M539.1 369.5L556.8 369.7M493.5 367.9L504 367.5M504 367.5L521.2 370.2M489.2 357L511.1 363.7M511.1 363.7L524.6 365.1M524.6 365.1L539.2 365.2M492.7 361.2L499.6 367.5" stroke="#000" stroke-width="0.55" fill="none"/>
<path d="M491.8 359h0M501.2 363.1h0M495.5 348h0M501.3 344.3h0M497.6 342.8h0M530.2 337h0M510.4 365.2h0M533.1 365.6h0M494.6 349.8h0M506.3 356.4h0M502.8 340.7h0M506 348.3h0M514.2 351.9h0M495.2 361.2h0M505.9 361.8h0M496 370.2h0M513.2 367h0M543.2 367.3h0M496 360.9h0M504.4 365.8h0M490.8 361.4h0M492.8 361.9h0M493 347h0M502 347.8h0M524.6 351.6h0M494.6 343.8h0M557.6 353.9h0M494.3 345h0M553.9 356.6h0M558.3 355.9h0M490.3 361.1h0M496.3 359.1h0M513.3 363h0M541.2 365.1h0M561 367.5h0M505.9 370h0M512.9 368h0M490.6 356.8h0M500 359.3h0M508.5 364.3h0M493.6 353.4h0M530.7 354.4h0M494.6 347.6h0M529.8 335.9h0M559.6 327.8h0M495.7 353.1h0M510.2 359.2h0M520.9 359.8h0M495.7 342.9h0M510 343.5h0M540.5 351.5h0M494.3 352.1h0M540.9 359.6h0M558.3 358.9h0M495.5 354.5h0M503.8 350.9h0M496 341.1h0M505.8 342.5h0M539.7 345.9h0M552.9 348.2h0M495.1 351.8h0M562.5 368.6h0M490.9 339.9h0M493.4 344.4h0M512.8 320.8h0M530.9 322.7h0M540.3 333.3h0M563.9 326.7h0M494.8 340.7h0M498.3 347.7h0M490.7 358.3h0M527.7 358.9h0M495 353.5h0M541 339.7h0M554.3 334.4h0M490.3 350.6h0M510.1 351.5h0M495.8 350.4h0M556.1 366h0M495 362h0M542.1 366.3h0M492 353h0M562.6 357.5h0M508.9 354.6h0M535.3 354.7h0M565.4 363.8h0M495.8 362.1h0M537.2 366.6h0M552.7 368.2h0M494.5 337.7h0M523.7 338.3h0M489.7 351.5h0M502.1 358.4h0M490.6 356.7h0M496 361.2h0M490.7 350h0M499.2 350.7h0M498.3 350.6h0M517.9 351.4h0M527.5 352.8h0M495.4 350.7h0M514 362.9h0M540.3 369.9h0M489.3 343.6h0M493.8 340.3h0M490.7 353.3h0M497.2 351.8h0M494 352.5h0M504.4 351.8h0M523.6 357.6h0M491.8 356h0M500.4 359.3h0M517.9 362.5h0M503.1 365.7h0M515 363.1h0M541.1 364.9h0M494.5 357.2h0M547.4 366.9h0M558.7 365.4h0M508.2 359.5h0M519 357h0M541.3 365.8h0M495.7 352.8h0M502 352.3h0M529.4 366.8h0M543.7 371h0M550 368.8h0M493.5 348.6h0M510.4 347.9h0M522 346.5h0M551.4 350.9h0M493.9 370.7h0M504.3 369.7h0M525.9 366.3h0M565.3 368.4h0M493.8 346.3h0M495.8 344.1h0M513.6 352.1h0M493.8 364.9h0M504.3 364.4h0M505.9 359.8h0M525.5 364.4h0M491.9 355.9h0M506.5 358.8h0M490.1 358.8h0M502.8 358.5h0M540.7 366.9h0M493 329.4h0M560.6 334.9h0M493.5 354.3h0M497.9 357.9h0M492.8 349h0M495 348.5h0M495.7 354.2h0M499.4 354.8h0M492.7 350.5h0M558.6 358.4h0M491 369.8h0M506.9 366.6h0M534.9 368.6h0M495.8 350.8h0M506.3 354.7h0M522.7 348.1h0M537.7 348.7h0M490.8 360h0M542.8 365.3h0M496.1 344.1h0M501.5 347h0M492.3 347.9h0M495.1 345.1h0M491 343.1h0M498.2 353.2h0M495 362.8h0M532.2 367.3h0M567.5 369.1h0M497 357.6h0M549.4 365h0M495.2 359.3h0M501.7 354h0M491.6 349.3h0M495.5 351.7h0M527.1 352.4h0M494.4 347.3h0M514 347.2h0M494.6 358.3h0M533.2 363h0M559.7 362.6h0M490.8 362.6h0M499.6 365h0M492.6 344.9h0M502.3 345.9h0M489.8 355h0M504.5 355h0M520.9 365.5h0M489.9 321h0M507 321.7h0M519 325.7h0M489.9 351.9h0M492.7 350.4h0M494.1 353h0M552.6 366.9h0M495.4 351.3h0M560.7 370h0M489.9 350.2h0M507.1 358.7h0M515.7 354.4h0M521.4 358.6h0M491.5 355.8h0M501.7 354.6h0M526.2 360.1h0M489.7 357.8h0M493.9 357.1h0M508.3 359.5h0M517.6 361.7h0M495.3 354.1h0M510.7 352.3h0M549.2 350.5h0M568.5 345.7h0M491.6 360.3h0M514.1 363.9h0M491.9 351.2h0M502.6 348.1h0M514.6 351.7h0M490.6 348.8h0M505.6 349.6h0M545.3 362.4h0M502.2 356h0M551.9 359.5h0M491.5 347.1h0M499.3 351.9h0M490.1 360.8h0M551.2 369.2h0M510.5 328.9h0M521.1 336.4h0M489.2 341.2h0M501.6 343.1h0M495.6 363.7h0M528.8 359.1h0M490.7 366.6h0M495.4 365.4h0M522.6 367.9h0M545.6 367.3h0M501 357.4h0M555.1 367.9h0M507.6 359.4h0M517.8 365.8h0M490.6 369h0M503.5 369.4h0M539.1 369.5h0M556.8 369.7h0M493.5 367.9h0M504 367.5h0M521.2 370.2h0M489.2 357h0M511.1 363.7h0M524.6 365.1h0M539.2 365.2h0M492.7 361.2h0M499.6 367.5h0" stroke="#000" stroke-width="2.15" stroke-linecap="round" fill="none"/>
<polygon points="491.5,349.8 497.7,351 503.9,352.2 510.1,353.2 516.3,354.1 522.5,354.9 528.6,355.6 534.8,356.1 541,356.5 547.2,356.8 553.4,357 559.6,357 565.8,356.9 565.8,361.3 559.6,361 553.4,360.6 547.2,360.2 541,359.7 534.8,359.2 528.6,358.6 522.5,357.9 516.3,357.3 510.1,356.5 503.9,355.8 497.7,355 491.5,354.2" fill="#a899d8" fill-opacity="0.65"/>
<polyline points="491.5,352 497.7,353 503.9,354 510.1,354.9 516.3,355.7 522.5,356.4 528.6,357.1 534.8,357.6 541,358.1 547.2,358.5 553.4,358.8 559.6,359 565.8,359.1" fill="none" stroke="#6c59b6" stroke-width="1.2"/>
<path d="M589.6 343.8L617 346.8M617 346.8L656.1 343.2M592 350.5L599.6 347.8M599.6 347.8L607.8 340.3M589.6 340.6L644.7 336M592 341L653.9 337.5M586.3 358.2L590.8 358.2M591.1 352.8L606 351.4M606 351.4L615.7 352M586.6 345.6L643.4 348M643.4 348L651.6 347.5M651.6 347.5L664.8 342.8M587.7 335.8L633.2 331.2M633.2 331.2L642.9 334.7M587.6 350.5L636 339.1M636 339.1L655.7 337.1M588.6 347.1L652.3 345.6M587.2 352.6L592.8 348.5M592.8 348.5L606.6 353.3M587.5 340.3L642.5 340.5M588.4 337.2L592.2 336.9M592.2 336.9L630.7 334.1M587 336.5L598.1 340.3M598.1 340.3L615.1 346.7M589.5 355.3L610 349.6M610 349.6L623.5 350.9M588 353.5L627 349.2M589.8 350.8L606.9 347M606.9 347L639 349.2M587.4 344.4L614.3 343.2M585.6 345L593.4 347.5M589.6 336L641.4 341.1M641.4 341.1L660.9 341.6M587.2 344.2L595.6 350M601.3 342.5L610.6 342.8M610.6 342.8L620.5 337.5M587.6 356.5L595.4 352.3M595.4 352.3L635.1 354.7M585.4 348.6L602 352.3M586 347.2L602.3 348.5M590.9 338.6L606.3 337M606.3 337L627 336M627 336L661.6 339.8M590.5 344.4L616 338.8M616 338.8L638.9 337.7M586.7 349.6L599.6 344.3M586.9 350.6L603.1 353.4M586.8 343.5L601.3 344.1M601.3 344.1L606.4 348.2M590.3 346.4L619.6 348.3M619.6 348.3L626.6 346.7M608.9 338.6L645.9 346.2M588.9 351.9L606 353.4M606 353.4L613.7 351.7M589.3 346L655.5 349.5M590.7 347L638.7 341M588.3 340.1L596.3 339.4M596.3 339.4L602.4 338.7M591.2 340.5L645.4 344.8M591.8 341.8L616.7 343.4M587 342.4L594.4 340.7M587.1 348.5L603.2 354.5M591.6 346.6L603.9 341.3M603.9 341.3L628.3 342.8M585.7 338L645 336.2M645 336.2L663.4 342.7M587.3 343.2L611.3 338.2M611.3 338.2L648.4 331M591.2 340.1L662.9 333.7M588.7 346.8L595 344.3M595 344.3L600.9 340.7M600.9 340.7L610.6 340.1M610.6 340.1L633.3 340.3M589.7 349L593.1 346.7M588.7 344.2L603.1 343.1M587.1 342.2L641.2 333.9M641.2 333.9L662.5 330.9M587.9 352.8L606.5 349.5M588.6 343L631.8 352.1M589.9 341.2L658.4 338.6M587.2 357L591.6 359.6M591.6 359.6L625.8 350.5M588.7 358.4L604 356.5M604 356.5L610 354.8M590.7 346.2L634.8 341.4M588.7 360.8L651.5 355.6M586.2 350.9L635.7 355.2M635.7 355.2L655.2 358M655.2 358L663.6 357.7M587.2 346.2L603.7 347.5M603.7 347.5L628.2 344.6M589.8 346.7L605.4 346.2M586.3 347.3L594.8 347.4M585.4 332.5L602.6 337.8M602.6 337.8L621.3 339.1M621.3 339.1L641.4 338.1M590.8 345.5L641.7 342.3M587.9 348.5L609.5 347.9M589.6 335.4L632.9 332.8M589.3 342.1L607.4 343.6M607.4 343.6L633.1 338.2M633.1 338.2L650.1 337.3M586.9 353.9L597.1 352.6M597.1 352.6L612.2 350.6M585.6 347.5L623 341.1M585.6 340L590.5 340.9M592.1 339.4L599.2 339.6M599.2 339.6L604.6 337.3M586 347.6L621.7 348.7M621.7 348.7L656.8 348.4M590.8 338.4L620 335.3M620 335.3L653 331.6M585.9 346.8L592 353.9M592 353.9L614 356.5M587.5 335L601.5 335.5M587.7 335.6L604.1 331.6M604.1 331.6L617.3 331.5M586.4 350L591 347.5M591 347.5L598.8 354.3M598.8 354.3L616.1 346.5M616.1 346.5L639.9 353M588.8 345.1L597.2 344.8M590.1 340.3L628.9 338.9M628.9 338.9L646.9 340.5M591.9 348.7L647.5 349.5M591 341.8L618.9 345M618.9 345L641.8 340.1M591.4 349.1L639.4 347.4M639.4 347.4L661.2 347.7M587.3 345.7L590.1 348.7M590.1 348.7L616.4 349.2M590.4 341.3L598.6 338.2M598.6 338.2L631.1 335.8M588.2 348.8L593 347.6M593 347.6L616.9 342M616.9 342L622.5 340.2M622.5 340.2L637.8 342.5M587.3 349.8L613.4 343.6M613.4 343.6L642.7 337.6M642.7 337.6L659.2 336.5M591.3 341.2L652.4 345.7M587 347.6L591 352.5M591 352.5L608.3 352.6M586.7 346L598.3 340.2M592 333.2L625.4 341.4M625.4 341.4L639.8 339.2M587.9 342.2L617.3 340.7M617.3 340.7L646.9 339.7M646.9 339.7L661.6 343.1M591.6 348.6L598.3 353.2M585.4 341.9L627 345M588.6 353.3L600.5 342.7M600.5 342.7L610.5 335.9M610.5 335.9L620 335.5M591.7 334.5L636.6 335.8M591.7 345.4L620.7 343.8M620.7 343.8L633.2 344.1M597.3 344.2L625.8 361.8M625.8 361.8L648.8 356.7M592.1 345L661.9 340.2M604 345.6L619.5 346.8M619.5 346.8L653.1 352.2M597.7 344.3L606.5 342.6M590.8 343.1L593.3 342.9M593.3 342.9L632.2 343.3M632.2 343.3L639.8 344.2M604.1 346.2L615.8 345.5M587.2 343.8L595 336.1M595 336.1L613.5 334.1M589.3 343.1L600.2 343.4M592 342.6L602.1 349.2M602.1 349.2L623.1 349.1M590.2 348.8L597.2 346.9M588.1 343L598.7 340.5M603.4 349.6L610.8 345M586.3 341.3L644.9 345.3M586.5 345L600.1 351.3M600.1 351.3L604.6 349.2M604.6 349.2L621 349.6M587.6 344.8L601.2 343.2M601.2 343.2L623.1 342.9M591.6 338.7L661.7 339.6M602 350.5L608.3 349.2M588.9 337.5L596.1 337.5M596.1 337.5L605 337.7M592.2 336.4L606.2 347.9M585.3 342.1L590.1 343.2M607.1 345.3L619.3 347.6M588.3 350.1L600.7 350M591.8 347.6L594.6 355.6M594.6 355.6L599.7 349M591.3 349.4L601.9 351.9M601.9 351.9L608 354.8M590.4 347.7L641.4 349M589.6 342.7L626.7 341M626.7 341L644.1 335.5M586.8 334L592.3 335.7M592.3 335.7L618.4 336M618.4 336L640.8 334M596.9 331.8L634.8 344.5M590 331.1L624.6 338.1M596.1 334.4L640.2 343.9M592.1 333.4L635.8 342.7M598.4 333.8L625.5 336.8M595.4 330.2L620.9 338.2" stroke="#000" stroke-width="0.55" fill="none"/>
<path d="M589.6 343.8h0M617 346.8h0M656.1 343.2h0M592 350.5h0M599.6 347.8h0M607.8 340.3h0M589.6 340.6h0M644.7 336h0M592 341h0M653.9 337.5h0M586.3 358.2h0M590.8 358.2h0M591.1 352.8h0M606 351.4h0M615.7 352h0M586.6 345.6h0M643.4 348h0M651.6 347.5h0M664.8 342.8h0M587.7 335.8h0M633.2 331.2h0M642.9 334.7h0M587.6 350.5h0M636 339.1h0M655.7 337.1h0M588.6 347.1h0M652.3 345.6h0M587.2 352.6h0M592.8 348.5h0M606.6 353.3h0M587.5 340.3h0M642.5 340.5h0M588.4 337.2h0M592.2 336.9h0M630.7 334.1h0M587 336.5h0M598.1 340.3h0M615.1 346.7h0M589.5 355.3h0M610 349.6h0M623.5 350.9h0M588 353.5h0M627 349.2h0M589.8 350.8h0M606.9 347h0M639 349.2h0M587.4 344.4h0M614.3 343.2h0M585.6 345h0M593.4 347.5h0M589.6 336h0M641.4 341.1h0M660.9 341.6h0M587.2 344.2h0M595.6 350h0M601.3 342.5h0M610.6 342.8h0M620.5 337.5h0M587.6 356.5h0M595.4 352.3h0M635.1 354.7h0M585.4 348.6h0M602 352.3h0M586 347.2h0M602.3 348.5h0M590.9 338.6h0M606.3 337h0M627 336h0M661.6 339.8h0M590.5 344.4h0M616 338.8h0M638.9 337.7h0M586.7 349.6h0M599.6 344.3h0M586.9 350.6h0M603.1 353.4h0M586.8 343.5h0M601.3 344.1h0M606.4 348.2h0M590.3 346.4h0M619.6 348.3h0M626.6 346.7h0M608.9 338.6h0M645.9 346.2h0M588.9 351.9h0M606 353.4h0M613.7 351.7h0M589.3 346h0M655.5 349.5h0M590.7 347h0M638.7 341h0M588.3 340.1h0M596.3 339.4h0M602.4 338.7h0M591.2 340.5h0M645.4 344.8h0M591.8 341.8h0M616.7 343.4h0M587 342.4h0M594.4 340.7h0M587.1 348.5h0M603.2 354.5h0M591.6 346.6h0M603.9 341.3h0M628.3 342.8h0M585.7 338h0M645 336.2h0M663.4 342.7h0M587.3 343.2h0M611.3 338.2h0M648.4 331h0M591.2 340.1h0M662.9 333.7h0M588.7 346.8h0M595 344.3h0M600.9 340.7h0M610.6 340.1h0M633.3 340.3h0M589.7 349h0M593.1 346.7h0M588.7 344.2h0M603.1 343.1h0M587.1 342.2h0M641.2 333.9h0M662.5 330.9h0M587.9 352.8h0M606.5 349.5h0M588.6 343h0M631.8 352.1h0M589.9 341.2h0M658.4 338.6h0M587.2 357h0M591.6 359.6h0M625.8 350.5h0M588.7 358.4h0M604 356.5h0M610 354.8h0M590.7 346.2h0M634.8 341.4h0M588.7 360.8h0M651.5 355.6h0M586.2 350.9h0M635.7 355.2h0M655.2 358h0M663.6 357.7h0M587.2 346.2h0M603.7 347.5h0M628.2 344.6h0M589.8 346.7h0M605.4 346.2h0M586.3 347.3h0M594.8 347.4h0M585.4 332.5h0M602.6 337.8h0M621.3 339.1h0M641.4 338.1h0M590.8 345.5h0M641.7 342.3h0M587.9 348.5h0M609.5 347.9h0M589.6 335.4h0M632.9 332.8h0M589.3 342.1h0M607.4 343.6h0M633.1 338.2h0M650.1 337.3h0M586.9 353.9h0M597.1 352.6h0M612.2 350.6h0M585.6 347.5h0M623 341.1h0M585.6 340h0M590.5 340.9h0M592.1 339.4h0M599.2 339.6h0M604.6 337.3h0M586 347.6h0M621.7 348.7h0M656.8 348.4h0M590.8 338.4h0M620 335.3h0M653 331.6h0M585.9 346.8h0M592 353.9h0M614 356.5h0M587.5 335h0M601.5 335.5h0M587.7 335.6h0M604.1 331.6h0M617.3 331.5h0M586.4 350h0M591 347.5h0M598.8 354.3h0M616.1 346.5h0M639.9 353h0M588.8 345.1h0M597.2 344.8h0M590.1 340.3h0M628.9 338.9h0M646.9 340.5h0M591.9 348.7h0M647.5 349.5h0M591 341.8h0M618.9 345h0M641.8 340.1h0M591.4 349.1h0M639.4 347.4h0M661.2 347.7h0M587.3 345.7h0M590.1 348.7h0M616.4 349.2h0M590.4 341.3h0M598.6 338.2h0M631.1 335.8h0M588.2 348.8h0M593 347.6h0M616.9 342h0M622.5 340.2h0M637.8 342.5h0M587.3 349.8h0M613.4 343.6h0M642.7 337.6h0M659.2 336.5h0M591.3 341.2h0M652.4 345.7h0M587 347.6h0M591 352.5h0M608.3 352.6h0M586.7 346h0M598.3 340.2h0M592 333.2h0M625.4 341.4h0M639.8 339.2h0M587.9 342.2h0M617.3 340.7h0M646.9 339.7h0M661.6 343.1h0M591.6 348.6h0M598.3 353.2h0M585.4 341.9h0M627 345h0M588.6 353.3h0M600.5 342.7h0M610.5 335.9h0M620 335.5h0M591.7 334.5h0M636.6 335.8h0M591.7 345.4h0M620.7 343.8h0M633.2 344.1h0M597.3 344.2h0M625.8 361.8h0M648.8 356.7h0M592.1 345h0M661.9 340.2h0M604 345.6h0M619.5 346.8h0M653.1 352.2h0M597.7 344.3h0M606.5 342.6h0M590.8 343.1h0M593.3 342.9h0M632.2 343.3h0M639.8 344.2h0M604.1 346.2h0M615.8 345.5h0M587.2 343.8h0M595 336.1h0M613.5 334.1h0M589.3 343.1h0M600.2 343.4h0M592 342.6h0M602.1 349.2h0M623.1 349.1h0M590.2 348.8h0M597.2 346.9h0M588.1 343h0M598.7 340.5h0M603.4 349.6h0M610.8 345h0M586.3 341.3h0M644.9 345.3h0M586.5 345h0M600.1 351.3h0M604.6 349.2h0M621 349.6h0M587.6 344.8h0M601.2 343.2h0M623.1 342.9h0M591.6 338.7h0M661.7 339.6h0M602 350.5h0M608.3 349.2h0M588.9 337.5h0M596.1 337.5h0M605 337.7h0M592.2 336.4h0M606.2 347.9h0M585.3 342.1h0M590.1 343.2h0M607.1 345.3h0M619.3 347.6h0M588.3 350.1h0M600.7 350h0M591.8 347.6h0M594.6 355.6h0M599.7 349h0M591.3 349.4h0M601.9 351.9h0M608 354.8h0M590.4 347.7h0M641.4 349h0M589.6 342.7h0M626.7 341h0M644.1 335.5h0M586.8 334h0M592.3 335.7h0M618.4 336h0M640.8 334h0M596.9 331.8h0M634.8 344.5h0M590 331.1h0M624.6 338.1h0M596.1 334.4h0M640.2 343.9h0M592.1 333.4h0M635.8 342.7h0M598.4 333.8h0M625.5 336.8h0M595.4 330.2h0M620.9 338.2h0" stroke="#000" stroke-width="2.15" stroke-linecap="round" fill="none"/>
<polygon points="587,344.4 593.2,344.3 599.4,344.2 605.6,344 611.8,343.9 618,343.7 624.1,343.4 630.3,343.2 636.5,342.9 642.7,342.6 648.9,342.3 655.1,341.9 661.3,341.5 661.3,344.5 655.1,344.6 648.9,344.7 642.7,344.9 636.5,345 630.3,345.2 624.1,345.4 618,345.7 611.8,346 605.6,346.3 599.4,346.6 593.2,347 587,347.4" fill="#a899d8" fill-opacity="0.65"/>
<polyline points="587,345.9 593.2,345.7 599.4,345.4 605.6,345.2 611.8,344.9 618,344.7 624.1,344.4 630.3,344.2 636.5,344 642.7,343.7 648.9,343.5 655.1,343.2 661.3,343" fill="none" stroke="#6c59b6" stroke-width="1.2"/>
<path d="M398.5 414.2L447.9 403.8M447.9 403.8L452.4 403.5M395.4 414.8L398.3 418.4M398.3 418.4L429.7 409.8M429.7 409.8L443.4 407.7M397.9 423.1L420.4 424.3M420.4 424.3L439.7 424M439.7 424L467.3 424.6M413.7 440.5L417.2 438.7M417.2 438.7L456.5 417.7M402.6 426.6L459.7 417.7M398.8 452.8L462.2 452.1M406.6 425L419.3 420.2M419.3 420.2L429.5 419.4M394.2 400.3L403.2 404.4M403.2 404.4L435.3 404.4M396.3 420.5L402.5 416.9M402.5 416.9L430.9 418.9M396 450.1L404.4 445.8M404.4 445.8L415.3 441.2M415.3 441.2L440.1 427.2M400.3 418.3L417.3 423M396.7 418.6L411.5 422.8M411.5 422.8L439.5 420.7M439.5 420.7L455.1 418M399.5 447.1L404.6 444M404.6 444L422.8 443.9M422.8 443.9L458.7 435.4M398.5 420.8L411 415.7M395.1 451.6L400.4 454M397.3 431L429.3 428.2M395.4 446.1L432.8 441.2M432.8 441.2L455.4 442.9M397.4 411.6L404.8 413.7M404.8 413.7L442.8 413.7M396.6 413L452.1 424.9M394.4 428.3L404.5 425M404.5 425L417.8 425.1M397.3 421.7L401.4 419.7M394.7 420L404.7 423M404.7 423L422.7 420.9M395.9 459.8L402.5 455.4M399.7 451.7L403.5 445M403.5 445L423.8 439.2M423.8 439.2L447.7 432.1M396.4 423.2L407.8 426.5M407.8 426.5L429.8 433.7M429.8 433.7L438.3 443.1M438.3 443.1L448.3 448.7M403.2 414.9L418.6 410.3M396.9 414L442.9 411.7M400.5 424.6L411.9 419M398.2 412.2L414.1 406.8M414.7 409.8L423.1 406M423.1 406L449.8 402.2M449.8 402.2L462 405.2M397.5 424L412.4 420.1M397.9 447.4L409.4 447.5M409.4 447.5L443.4 436.9M398.1 429L408.5 429.8M400.9 443.6L407.6 439.8M407.6 439.8L415.8 440.5M394.6 427.7L445.9 440.7M394.1 424.7L443.9 417.2M394.8 461.7L406.9 456.5M415.9 417.7L422.6 422.7M394.2 449.8L410.8 452.9M410.8 452.9L448.6 442.8M399 422.1L407.8 423.8M407.8 423.8L446.1 426.9M400.6 423.9L410.3 422.1M410.3 422.1L425.1 423.8M425.1 423.8L443.9 425.8M394.8 425.7L457.9 411.6M394.2 416.7L405.8 415.1M405.8 415.1L433.6 408.1M433.6 408.1L471.4 403.6M397.1 424.3L400.8 422.3M400.8 422.3L412.3 422.3M399.4 452.5L436.8 453M398.5 426.5L425.7 427.2M400.8 421.1L404.4 420.6M394.1 443.2L405.8 446.6M405.8 446.6L434.7 443.9M434.7 443.9L446.1 440.2M397.3 417.8L469.1 420.3M397.8 430.1L458 426.2M394.2 420.3L399.9 418.3M399.9 418.3L428.2 412.8M428.2 412.8L437.2 409.7M397 412.9L399.3 416.9M400.5 447.9L415.2 443.1M415.2 443.1L451.9 432.9M397.1 442.7L407.1 438.8M407.1 438.8L423.5 435.5M399.5 458.1L422.4 453.2M422.4 453.2L456 448.6M395.7 448.7L453.4 446.9M397.1 415.5L401.4 416.3M401.4 416.3L405.3 416.6M405.3 416.6L443.1 435.5M398.3 404L465.5 404.4M396.9 442.7L450.3 436.7M396.7 418.1L425.6 419.7M399.2 459.9L414 456.3M399.8 414.4L433 411M433 411L453.2 418.8M399 414.8L402.1 415.7M402.1 415.7L434.1 420.4M434.1 420.4L451.4 420.9M396 459.4L447.2 461.1M400.9 453.2L409.2 450.4M407.2 435.4L414.3 431.1M414.3 431.1L448.3 429.6M398.3 421.1L412.2 417.7M412.2 417.7L442.9 415.1M394.8 421.2L419.9 420.3M419.9 420.3L431 418M431 418L462.5 416.8M397.9 432.1L411.2 434.3M395.8 454.3L443.4 437.1M443.4 437.1L468.3 435.3M396.1 432.5L404.7 432.5M404.7 432.5L427.2 431.3M427.2 431.3L462.7 425.5M398.7 426.4L409.4 423.9M403.4 455.9L419.6 453.8M419.6 453.8L424.8 450.6M399.5 413L411.9 415.7M398.2 444L410.6 444.8M395.1 420.2L406.5 417.3M406.5 417.3L444.2 417.2M396.6 419.7L410.2 420.9M410.2 420.9L432.5 423.6M395.8 422.9L408.2 423.4M398.9 406.3L414.8 420.4M394.8 424.2L410.2 414.9M410.2 414.9L425 416.2M397.1 447.7L406.2 443.8M394.7 422.1L407.3 424M407.3 424L441.8 421.8M398.1 417.8L423.7 415.3M423.7 415.3L456.7 408.5M398.4 418L414.2 413.1M414.2 413.1L450.8 408.3M397.8 417.3L406 421M406 421L424.7 417.8M396.5 444.6L420.1 437.4M420.1 437.4L442.3 435.9M442.3 435.9L460.8 435.5M400.3 421.2L459.4 404.9M398 447.6L404.6 448.3M404.6 448.3L412.2 448.5M412.2 448.5L436.1 443.2M396.2 454.4L428.9 449.4M400.8 423.4L413.5 421M413.5 421L421.9 422.8M400.7 449.9L413.1 437.4M394.6 447.4L399 440.7M395.4 453.5L457.7 447.9M395.1 445.7L419 444M419 444L447.1 440.6M447.1 440.6L463.1 434.2M400.6 448.4L407 451.8" stroke="#000" stroke-width="0.55" fill="none"/>
<path d="M398.5 414.2h0M447.9 403.8h0M452.4 403.5h0M395.4 414.8h0M398.3 418.4h0M429.7 409.8h0M443.4 407.7h0M397.9 423.1h0M420.4 424.3h0M439.7 424h0M467.3 424.6h0M413.7 440.5h0M417.2 438.7h0M456.5 417.7h0M402.6 426.6h0M459.7 417.7h0M398.8 452.8h0M462.2 452.1h0M406.6 425h0M419.3 420.2h0M429.5 419.4h0M394.2 400.3h0M403.2 404.4h0M435.3 404.4h0M396.3 420.5h0M402.5 416.9h0M430.9 418.9h0M396 450.1h0M404.4 445.8h0M415.3 441.2h0M440.1 427.2h0M400.3 418.3h0M417.3 423h0M396.7 418.6h0M411.5 422.8h0M439.5 420.7h0M455.1 418h0M399.5 447.1h0M404.6 444h0M422.8 443.9h0M458.7 435.4h0M398.5 420.8h0M411 415.7h0M395.1 451.6h0M400.4 454h0M397.3 431h0M429.3 428.2h0M395.4 446.1h0M432.8 441.2h0M455.4 442.9h0M397.4 411.6h0M404.8 413.7h0M442.8 413.7h0M396.6 413h0M452.1 424.9h0M394.4 428.3h0M404.5 425h0M417.8 425.1h0M397.3 421.7h0M401.4 419.7h0M394.7 420h0M404.7 423h0M422.7 420.9h0M395.9 459.8h0M402.5 455.4h0M399.7 451.7h0M403.5 445h0M423.8 439.2h0M447.7 432.1h0M396.4 423.2h0M407.8 426.5h0M429.8 433.7h0M438.3 443.1h0M448.3 448.7h0M403.2 414.9h0M418.6 410.3h0M396.9 414h0M442.9 411.7h0M400.5 424.6h0M411.9 419h0M398.2 412.2h0M414.1 406.8h0M414.7 409.8h0M423.1 406h0M449.8 402.2h0M462 405.2h0M397.5 424h0M412.4 420.1h0M397.9 447.4h0M409.4 447.5h0M443.4 436.9h0M398.1 429h0M408.5 429.8h0M400.9 443.6h0M407.6 439.8h0M415.8 440.5h0M394.6 427.7h0M445.9 440.7h0M394.1 424.7h0M443.9 417.2h0M394.8 461.7h0M406.9 456.5h0M415.9 417.7h0M422.6 422.7h0M394.2 449.8h0M410.8 452.9h0M448.6 442.8h0M399 422.1h0M407.8 423.8h0M446.1 426.9h0M400.6 423.9h0M410.3 422.1h0M425.1 423.8h0M443.9 425.8h0M394.8 425.7h0M457.9 411.6h0M394.2 416.7h0M405.8 415.1h0M433.6 408.1h0M471.4 403.6h0M397.1 424.3h0M400.8 422.3h0M412.3 422.3h0M399.4 452.5h0M436.8 453h0M398.5 426.5h0M425.7 427.2h0M400.8 421.1h0M404.4 420.6h0M394.1 443.2h0M405.8 446.6h0M434.7 443.9h0M446.1 440.2h0M397.3 417.8h0M469.1 420.3h0M397.8 430.1h0M458 426.2h0M394.2 420.3h0M399.9 418.3h0M428.2 412.8h0M437.2 409.7h0M397 412.9h0M399.3 416.9h0M400.5 447.9h0M415.2 443.1h0M451.9 432.9h0M397.1 442.7h0M407.1 438.8h0M423.5 435.5h0M399.5 458.1h0M422.4 453.2h0M456 448.6h0M395.7 448.7h0M453.4 446.9h0M397.1 415.5h0M401.4 416.3h0M405.3 416.6h0M443.1 435.5h0M398.3 404h0M465.5 404.4h0M396.9 442.7h0M450.3 436.7h0M396.7 418.1h0M425.6 419.7h0M399.2 459.9h0M414 456.3h0M399.8 414.4h0M433 411h0M453.2 418.8h0M399 414.8h0M402.1 415.7h0M434.1 420.4h0M451.4 420.9h0M396 459.4h0M447.2 461.1h0M400.9 453.2h0M409.2 450.4h0M407.2 435.4h0M414.3 431.1h0M448.3 429.6h0M398.3 421.1h0M412.2 417.7h0M442.9 415.1h0M394.8 421.2h0M419.9 420.3h0M431 418h0M462.5 416.8h0M397.9 432.1h0M411.2 434.3h0M395.8 454.3h0M443.4 437.1h0M468.3 435.3h0M396.1 432.5h0M404.7 432.5h0M427.2 431.3h0M462.7 425.5h0M398.7 426.4h0M409.4 423.9h0M403.4 455.9h0M419.6 453.8h0M424.8 450.6h0M399.5 413h0M411.9 415.7h0M398.2 444h0M410.6 444.8h0M395.1 420.2h0M406.5 417.3h0M444.2 417.2h0M396.6 419.7h0M410.2 420.9h0M432.5 423.6h0M395.8 422.9h0M408.2 423.4h0M398.9 406.3h0M414.8 420.4h0M394.8 424.2h0M410.2 414.9h0M425 416.2h0M397.1 447.7h0M406.2 443.8h0M394.7 422.1h0M407.3 424h0M441.8 421.8h0M398.1 417.8h0M423.7 415.3h0M456.7 408.5h0M398.4 418h0M414.2 413.1h0M450.8 408.3h0M397.8 417.3h0M406 421h0M424.7 417.8h0M396.5 444.6h0M420.1 437.4h0M442.3 435.9h0M460.8 435.5h0M400.3 421.2h0M459.4 404.9h0M398 447.6h0M404.6 448.3h0M412.2 448.5h0M436.1 443.2h0M396.2 454.4h0M428.9 449.4h0M400.8 423.4h0M413.5 421h0M421.9 422.8h0M400.7 449.9h0M413.1 437.4h0M394.6 447.4h0M399 440.7h0M395.4 453.5h0M457.7 447.9h0M395.1 445.7h0M419 444h0M447.1 440.6h0M463.1 434.2h0M400.6 448.4h0M407 451.8h0" stroke="#000" stroke-width="2.15" stroke-linecap="round" fill="none"/>
<polygon points="396.2,431.7 402.4,431.4 408.6,431 414.8,430.6 421,430.1 427.2,429.6 433.4,429 439.5,428.4 445.7,427.7 451.9,426.9 458.1,426.1 464.3,425.2 470.5,424.3 470.5,431.5 464.3,431.8 458.1,432.2 451.9,432.6 445.7,433.1 439.5,433.6 433.4,434.2 427.2,434.8 421,435.5 414.8,436.3 408.6,437.1 402.4,438 396.2,438.9" fill="#a899d8" fill-opacity="0.65"/>
<polyline points="396.2,435.3 402.4,434.7 408.6,434.1 414.8,433.4 421,432.8 427.2,432.2 433.4,431.6 439.5,431 445.7,430.4 451.9,429.8 458.1,429.1 464.3,428.5 470.5,427.9" fill="none" stroke="#6c59b6" stroke-width="1.2"/>
<path d="M494.5 450.6L502.5 452.8M490.3 424.9L496.3 419.5M493.9 436L533.5 430.9M533.5 430.9L547.5 434.5M547.5 434.5L566.4 433.8M502.9 440L561.3 442.7M561.3 442.7L567.8 441.6M494.8 437L497.5 440.5M497.5 440.5L520.8 438.8M509.2 433.8L522.2 434.2M493.9 458.2L541.5 459M541.5 459L554.9 456.5M493.5 447L502.5 449.2M502.5 449.2L509.7 453.1M505.6 441.6L510.9 438.9M510.9 438.9L546 437.6M495.1 447.2L500.8 447.2M493.2 440.3L502.4 439.1M502.4 439.1L512.4 439.5M493.6 445L510.4 432.9M510.4 432.9L544.5 417.1M544.5 417.1L561.8 417M494.9 435.1L510.6 433.4M510.6 433.4L524.4 431.4M524.4 431.4L544.2 433.3M491.1 449.7L495.1 451.1M491.8 432.2L494.2 424.7M495.4 444.4L509.2 443.6M509.2 443.6L529.8 434.8M492.1 443L504.9 442.3M491.3 432.3L493.6 429.9M503.1 449.2L555.9 442.1M493.7 449.1L528.1 433.9M492 441.2L514.3 437.4M514.3 437.4L531.6 437.6M531.6 437.6L546.9 435.8M497.1 439.8L507.6 443.4M489.7 440.6L505.3 445.5M505.3 445.5L534.6 447.7M493.9 442.2L531.2 439.1M492.2 449.6L495.9 448M495.9 448L535.2 439.1M492.1 454.6L521.6 454.2M521.6 454.2L534.1 451.1M490.6 444.5L494.2 445.3M494.2 445.3L533.2 439.3M533.2 439.3L548.8 444.5M494.4 450.3L534.5 458.8M493.1 437L558.1 434.2M492.5 435.7L500.1 437.7M500.1 437.7L535.3 443.2M535.3 443.2L551.7 441.7M508 415L518.7 419.9M505.9 450.6L508.1 449.5M508.1 449.5L529.2 445.8M489.7 453.9L498.2 452.8M496.2 454.3L507.6 448.9M492.5 438.7L503.8 437M503.8 437L529 446.5M491.3 447.9L506.7 442.3M491.7 448.7L500.2 448.9M490.8 460.6L496.6 458M493 448.1L506.3 448.5M506.3 448.5L538.3 449.6M493.3 439.3L500.9 438.8M493.9 438.7L510 440.7M490.5 451.8L543.5 443.9M543.5 443.9L567.5 442.2M493.6 436.2L501 435.3M501 435.3L536.5 428.6M495.4 452L503.2 451.7M506.7 451.4L529.1 452.9M529.1 452.9L565.9 459.2M491.8 439.4L540.3 459M540.3 459L555.2 460.9M489.6 458.9L499.9 459.2M499.9 459.2L525 455.7M496.8 425.7L563.8 418.8M495.2 459.9L509.3 453.4M509.3 453.4L546.3 446.9M546.3 446.9L554 450M495.9 446.4L509.9 448.2M509.9 448.2L540.4 455.6M495.9 456.1L516.6 460.5M516.6 460.5L537.1 455.5M489.5 445.3L497.1 446.1M496.1 446.2L532.7 450.1M532.7 450.1L567.9 444.6M494.6 444.8L524.4 440.7M493.2 441.4L502.4 441.9M491.7 436.9L520.9 434.8M520.9 434.8L555 435.8M502.2 447.1L519 443.4M519 443.4L534 443.7M493.3 436.2L504.3 428.7M504.3 428.7L515.6 434M494.4 455.5L501 450.5M501 450.5L521.4 452.4M505.6 448.4L541.2 448.3M492.4 457.6L509.5 454.8M492 454.5L506.1 451.4M494.2 449.6L509.3 446.6M492.9 447.7L496 448.4M496 448.4L510.6 444M490.2 434.7L503.8 427.8M495.9 460.7L503.5 459.3M503.5 459.3L524.6 455.6M495.3 441.1L497.8 440.4M491.4 445.4L551.6 443.9M490.2 452.3L500.1 454.5M500.1 454.5L508.8 447.9M490.2 445.4L531.3 436.6M493 447.9L496.2 444M495.5 427.3L499 428.3M499 428.3L537 421.9M537 421.9L542.3 423.9M491.4 440.5L499.5 442.7M495.8 434.8L501.5 437.7M501.5 437.7L512.8 443.5M491.1 444.8L543.1 444.8M494.8 453.2L529.1 455.9M491 447.8L551.6 445.7M491.9 445.3L500.1 445.4M500.1 445.4L526.4 439.2M526.4 439.2L563.7 427.7M494.2 416.3L506.5 418.5M492.1 442.2L505.4 439.6M505.4 439.6L517.6 443.1M489.7 441.8L499.9 446.7M499.9 446.7L516.8 443M490.6 455.9L501 455.2M501 455.2L515.9 453M515.9 453L551.4 452M490.6 449.1L493.6 449M489.9 441.3L551.4 436.9M507.8 436.9L522.7 435.4M522.7 435.4L559 433.4M493.5 454.6L506.1 443.5M490.8 454.3L546.1 454.6M546.1 454.6L552.6 456.7M489.9 443.7L524.9 442.1M524.9 442.1L542.3 441.2M490.3 435.3L551.2 436.7M489.4 416.5L499.3 420.5M499.3 420.5L531 415M491.2 429.6L503.7 427.4M493.1 451.6L507.2 447.5M495.6 448.6L516.7 446.3M516.7 446.3L554.8 445.6M491.6 444.5L532.1 433.2M504.4 434.4L550.5 420.6M550.5 420.6L557.1 420.7M493.9 444.1L504.8 437.6M490.8 443.9L544.9 438.7M495.7 437.7L562.2 445.4M493.5 447.1L515.4 443.9M515.4 443.9L547 440.1M490.7 455.8L493.3 455.2M493.3 455.2L527.8 448.7" stroke="#000" stroke-width="0.55" fill="none"/>
<path d="M494.5 450.6h0M502.5 452.8h0M490.3 424.9h0M496.3 419.5h0M493.9 436h0M533.5 430.9h0M547.5 434.5h0M566.4 433.8h0M502.9 440h0M561.3 442.7h0M567.8 441.6h0M494.8 437h0M497.5 440.5h0M520.8 438.8h0M509.2 433.8h0M522.2 434.2h0M493.9 458.2h0M541.5 459h0M554.9 456.5h0M493.5 447h0M502.5 449.2h0M509.7 453.1h0M505.6 441.6h0M510.9 438.9h0M546 437.6h0M495.1 447.2h0M500.8 447.2h0M493.2 440.3h0M502.4 439.1h0M512.4 439.5h0M493.6 445h0M510.4 432.9h0M544.5 417.1h0M561.8 417h0M494.9 435.1h0M510.6 433.4h0M524.4 431.4h0M544.2 433.3h0M491.1 449.7h0M495.1 451.1h0M491.8 432.2h0M494.2 424.7h0M495.4 444.4h0M509.2 443.6h0M529.8 434.8h0M492.1 443h0M504.9 442.3h0M491.3 432.3h0M493.6 429.9h0M503.1 449.2h0M555.9 442.1h0M493.7 449.1h0M528.1 433.9h0M492 441.2h0M514.3 437.4h0M531.6 437.6h0M546.9 435.8h0M497.1 439.8h0M507.6 443.4h0M489.7 440.6h0M505.3 445.5h0M534.6 447.7h0M493.9 442.2h0M531.2 439.1h0M492.2 449.6h0M495.9 448h0M535.2 439.1h0M492.1 454.6h0M521.6 454.2h0M534.1 451.1h0M490.6 444.5h0M494.2 445.3h0M533.2 439.3h0M548.8 444.5h0M494.4 450.3h0M534.5 458.8h0M493.1 437h0M558.1 434.2h0M492.5 435.7h0M500.1 437.7h0M535.3 443.2h0M551.7 441.7h0M508 415h0M518.7 419.9h0M505.9 450.6h0M508.1 449.5h0M529.2 445.8h0M489.7 453.9h0M498.2 452.8h0M496.2 454.3h0M507.6 448.9h0M492.5 438.7h0M503.8 437h0M529 446.5h0M491.3 447.9h0M506.7 442.3h0M491.7 448.7h0M500.2 448.9h0M490.8 460.6h0M496.6 458h0M493 448.1h0M506.3 448.5h0M538.3 449.6h0M493.3 439.3h0M500.9 438.8h0M493.9 438.7h0M510 440.7h0M490.5 451.8h0M543.5 443.9h0M567.5 442.2h0M493.6 436.2h0M501 435.3h0M536.5 428.6h0M495.4 452h0M503.2 451.7h0M506.7 451.4h0M529.1 452.9h0M565.9 459.2h0M491.8 439.4h0M540.3 459h0M555.2 460.9h0M489.6 458.9h0M499.9 459.2h0M525 455.7h0M496.8 425.7h0M563.8 418.8h0M495.2 459.9h0M509.3 453.4h0M546.3 446.9h0M554 450h0M495.9 446.4h0M509.9 448.2h0M540.4 455.6h0M495.9 456.1h0M516.6 460.5h0M537.1 455.5h0M489.5 445.3h0M497.1 446.1h0M496.1 446.2h0M532.7 450.1h0M567.9 444.6h0M494.6 444.8h0M524.4 440.7h0M493.2 441.4h0M502.4 441.9h0M491.7 436.9h0M520.9 434.8h0M555 435.8h0M502.2 447.1h0M519 443.4h0M534 443.7h0M493.3 436.2h0M504.3 428.7h0M515.6 434h0M494.4 455.5h0M501 450.5h0M521.4 452.4h0M505.6 448.4h0M541.2 448.3h0M492.4 457.6h0M509.5 454.8h0M492 454.5h0M506.1 451.4h0M494.2 449.6h0M509.3 446.6h0M492.9 447.7h0M496 448.4h0M510.6 444h0M490.2 434.7h0M503.8 427.8h0M495.9 460.7h0M503.5 459.3h0M524.6 455.6h0M495.3 441.1h0M497.8 440.4h0M491.4 445.4h0M551.6 443.9h0M490.2 452.3h0M500.1 454.5h0M508.8 447.9h0M490.2 445.4h0M531.3 436.6h0M493 447.9h0M496.2 444h0M495.5 427.3h0M499 428.3h0M537 421.9h0M542.3 423.9h0M491.4 440.5h0M499.5 442.7h0M495.8 434.8h0M501.5 437.7h0M512.8 443.5h0M491.1 444.8h0M543.1 444.8h0M494.8 453.2h0M529.1 455.9h0M491 447.8h0M551.6 445.7h0M491.9 445.3h0M500.1 445.4h0M526.4 439.2h0M563.7 427.7h0M494.2 416.3h0M506.5 418.5h0M492.1 442.2h0M505.4 439.6h0M517.6 443.1h0M489.7 441.8h0M499.9 446.7h0M516.8 443h0M490.6 455.9h0M501 455.2h0M515.9 453h0M551.4 452h0M490.6 449.1h0M493.6 449h0M489.9 441.3h0M551.4 436.9h0M507.8 436.9h0M522.7 435.4h0M559 433.4h0M493.5 454.6h0M506.1 443.5h0M490.8 454.3h0M546.1 454.6h0M552.6 456.7h0M489.9 443.7h0M524.9 442.1h0M542.3 441.2h0M490.3 435.3h0M551.2 436.7h0M489.4 416.5h0M499.3 420.5h0M531 415h0M491.2 429.6h0M503.7 427.4h0M493.1 451.6h0M507.2 447.5h0M495.6 448.6h0M516.7 446.3h0M554.8 445.6h0M491.6 444.5h0M532.1 433.2h0M504.4 434.4h0M550.5 420.6h0M557.1 420.7h0M493.9 444.1h0M504.8 437.6h0M490.8 443.9h0M544.9 438.7h0M495.7 437.7h0M562.2 445.4h0M493.5 447.1h0M515.4 443.9h0M547 440.1h0M490.7 455.8h0M493.3 455.2h0M527.8 448.7h0" stroke="#000" stroke-width="2.15" stroke-linecap="round" fill="none"/>
<polygon points="491.5,442.4 497.7,442.3 503.9,442.2 510.1,442.1 516.3,441.9 522.5,441.7 528.6,441.4 534.8,441.1 541,440.8 547.2,440.4 553.4,440 559.6,439.5 565.8,439 565.8,443.4 559.6,443.5 553.4,443.6 547.2,443.7 541,443.9 534.8,444.1 528.6,444.4 522.5,444.7 516.3,445 510.1,445.4 503.9,445.8 497.7,446.3 491.5,446.8" fill="#a899d8" fill-opacity="0.65"/>
<polyline points="491.5,444.6 497.7,444.3 503.9,444 510.1,443.8 516.3,443.5 522.5,443.2 528.6,442.9 534.8,442.6 541,442.3 547.2,442.1 553.4,441.8 559.6,441.5 565.8,441.2" fill="none" stroke="#6c59b6" stroke-width="1.2"/>
<path d="M587.3 445.4L589.8 443.3M589.4 448.6L606.5 448M586 438.2L591.1 440.1M596.8 442L619.3 443.8M586.7 443L604.8 438.3M585.9 435L590.1 435.5M590 441.2L606.8 434.7M606.8 434.7L627 430.8M591.3 440.8L598.6 438.8M589 449L638.3 454.6M600.9 445.1L649.2 446.9M649.2 446.9L664.4 451.2M586 441L607 443.1M607 443.1L612.6 443.4M587.5 443.3L600 443.6M587.5 444.2L597.2 448.2M597.2 448.2L620.2 452.7M588.1 442.1L609.9 436.5M609.9 436.5L636.2 433.1M588.2 450.6L613.9 446.9M613.9 446.9L626.8 447.7M626.8 447.7L662.9 441.1M585.4 440.9L645.8 447.7M587.6 437L594.8 444.3M594.8 444.3L627 448.7M585.4 448.3L593.2 444.9M593.2 444.9L627.4 438.7M591 442.4L600.9 444.1M600.9 444.1L622 437.8M590.3 440.9L596.7 440.7M589 445.8L626.9 446M626.9 446L632.7 449.2M632.7 449.2L653 449.6M590.6 441.7L632.8 441.6M632.8 441.6L648.8 445.5M589.6 445.6L605.2 442.8M586.5 446.4L595.7 448M595.7 448L626.9 457.1M626.9 457.1L643.8 457M590.5 442.4L593.5 440.8M593.5 440.8L632.1 457.5M632.1 457.5L642.7 456.6M592.1 448.7L602.8 446.2M588.6 440.1L594.2 442.5M594.2 442.5L625.3 440.3M589 439.8L655.9 453.9M655.9 453.9L660.1 451.5M588.3 452.5L602.7 449.3M589.6 439.7L620.5 440.7M588.7 448.2L604.4 446.5M586.6 441.2L601.4 446.6M601.4 446.6L618.5 447.6M618.5 447.6L629.3 442.4M602.2 457.8L609.4 457.1M590.1 439.5L597.3 439.3M590.9 439.3L600 443.2M600 443.2L621.1 447.8M585.7 438.5L632.1 437.6M588.7 442.2L592.7 445.2M588.6 445.3L657 451.1M588.4 443.3L596.5 436.6M596.5 436.6L628.1 431.1M587.6 441.3L604.8 444M604.8 444L634.3 442.6M590.3 451.8L619.7 451.3M619.7 451.3L632.7 456.5M632.7 456.5L648.1 454.6M591 446L608.3 446.4M587.9 437.1L602.3 439.3M602.3 439.3L631.6 439.8M631.6 439.8L653.9 439.2M588.1 450.2L591.8 448.1M591.8 448.1L627.2 442.8M627.2 442.8L652.3 440.5M587.8 446.7L641.1 440.1M590.5 442L627.5 439.8M627.5 439.8L643.7 441.5M643.7 441.5L655.1 441.1M597.1 445.9L600.6 445.5M600.6 445.5L620.1 443.4M587.3 448.8L593.9 446.1M593.9 446.1L609.7 446.1M587.6 443.8L618.6 444.3M618.6 444.3L638.6 446M590 451.6L595.3 454.3M588.7 449.1L602.4 444.2M587.7 440.4L592.1 441.3M591.9 446.9L599.2 446.2M599.2 446.2L623.7 434.7M623.7 434.7L630.3 431.9M587.9 438.4L627.1 441.5M591.2 441.2L639.4 434.1M588.6 450.6L593.9 448.6M593.9 448.6L613 448.6M613 448.6L643.5 448.1M587.9 440.5L592.8 442.1M592.8 442.1L600.3 442M585.6 445L596.3 445M585.3 432.7L598.9 436.9M590.2 446.9L610.1 449.1M610.1 449.1L616.9 449.8M589.2 440.8L598.7 440.8M598.7 440.8L625 438.2M625 438.2L658.5 435.5M585.9 447.4L595.8 446.2M590.9 443.5L602.3 445.5M586.9 445.2L595.2 447.9M595.2 447.9L606.5 450.3M606.5 450.3L617.9 450.6M591.9 439.7L640.2 454.9M605.8 446.7L622 453.7M622 453.7L626.6 451.3M626.6 451.3L637.6 449.8M590.3 442.1L597.4 439.1M597.4 439.1L630.5 445.7M586.5 441.9L597.2 442.2M597.2 442.2L601.1 450.5M597.9 442.6L601.7 440.4M585.4 453.5L636 446.2M587.2 441.5L644.5 440.2M586.8 443.1L602.4 449.1M592.5 451.5L604.7 453.1M604.7 453.1L623.5 452.3M623.5 452.3L649.2 457.8M591.8 437.1L655.7 436.7M587.3 446.8L589.8 448.8M600 442.6L604 446.3M589.4 448.7L606.4 448.7M606.4 448.7L636.8 450.1M636.8 450.1L646.6 450.2M585.6 441.5L643.5 454.2M587 440.5L599.9 438M590.4 444.7L593.3 448M607.2 438.5L629.7 438.3M629.7 438.3L655.4 437.7M655.4 437.7L664 433.8M587.5 436.6L591.4 435.5M591.4 435.5L607.5 444.7M607.5 444.7L625.4 439.9M588.6 444L625.2 441.5M625.2 441.5L642 443.4M590.3 443.3L603.1 444.9M588.9 450.7L603 452.8M603 452.8L607.4 449.9M607.4 449.9L636.4 454.4M585.3 442.3L620.7 441.1M589 451.9L593.3 448.4M593.3 448.4L616.6 449.5M616.6 449.5L650.9 450.2M588.8 449.9L597.2 447.4M597.2 447.4L633.5 458.8M633.5 458.8L663.5 458.2M586.3 445.3L621 434.7M586.8 444.1L614.5 443.7M586.7 449.5L602.1 441.4M602.1 441.4L607.3 438.7M607.3 438.7L635.3 430.8M591.7 439.1L602.8 434.8M589 449.1L659.6 452.2M587.6 448.3L595.8 450.3M589.9 442.2L601.9 447.4M601.9 447.4L612.3 444.9M589.9 443.1L593 445.4M593 445.4L598.9 442.1M588.6 446.2L594.1 443.3M587.3 439.1L601 443.3M586.8 454.7L590.5 446.1M590.5 446.1L626 442.5M586.6 440.7L623.2 439M591.7 443L610 443.2M588.5 443.9L593.9 443.1M593.9 443.1L609.7 443.6M609.7 443.6L646.7 445.6M587.4 444.8L621.3 437.7M586.6 452.2L643.3 457.4M589.8 444.8L597.6 447.9M597.6 447.9L601.6 447M586.7 445.4L601 443.4M591.1 455.1L635 459.7M635 459.7L653.9 457M598.3 445.1L607.4 446.8M587.7 449.1L594.5 451.9M594.5 451.9L615.4 448.5M590.4 436.3L607.4 439.1M607.4 439.1L635.8 439.8M598.3 431.6L646.9 441.1M596.5 431.8L636.2 436.2M596 433.8L630.2 443.2M593.7 434.6L641.1 442.3M592.3 434L623.7 439.4M591.4 434.7L616.2 440.1" stroke="#000" stroke-width="0.55" fill="none"/>
<path d="M587.3 445.4h0M589.8 443.3h0M589.4 448.6h0M606.5 448h0M586 438.2h0M591.1 440.1h0M596.8 442h0M619.3 443.8h0M586.7 443h0M604.8 438.3h0M585.9 435h0M590.1 435.5h0M590 441.2h0M606.8 434.7h0M627 430.8h0M591.3 440.8h0M598.6 438.8h0M589 449h0M638.3 454.6h0M600.9 445.1h0M649.2 446.9h0M664.4 451.2h0M586 441h0M607 443.1h0M612.6 443.4h0M587.5 443.3h0M600 443.6h0M587.5 444.2h0M597.2 448.2h0M620.2 452.7h0M588.1 442.1h0M609.9 436.5h0M636.2 433.1h0M588.2 450.6h0M613.9 446.9h0M626.8 447.7h0M662.9 441.1h0M585.4 440.9h0M645.8 447.7h0M587.6 437h0M594.8 444.3h0M627 448.7h0M585.4 448.3h0M593.2 444.9h0M627.4 438.7h0M591 442.4h0M600.9 444.1h0M622 437.8h0M590.3 440.9h0M596.7 440.7h0M589 445.8h0M626.9 446h0M632.7 449.2h0M653 449.6h0M590.6 441.7h0M632.8 441.6h0M648.8 445.5h0M589.6 445.6h0M605.2 442.8h0M586.5 446.4h0M595.7 448h0M626.9 457.1h0M643.8 457h0M590.5 442.4h0M593.5 440.8h0M632.1 457.5h0M642.7 456.6h0M592.1 448.7h0M602.8 446.2h0M588.6 440.1h0M594.2 442.5h0M625.3 440.3h0M589 439.8h0M655.9 453.9h0M660.1 451.5h0M588.3 452.5h0M602.7 449.3h0M589.6 439.7h0M620.5 440.7h0M588.7 448.2h0M604.4 446.5h0M586.6 441.2h0M601.4 446.6h0M618.5 447.6h0M629.3 442.4h0M602.2 457.8h0M609.4 457.1h0M590.1 439.5h0M597.3 439.3h0M590.9 439.3h0M600 443.2h0M621.1 447.8h0M585.7 438.5h0M632.1 437.6h0M588.7 442.2h0M592.7 445.2h0M588.6 445.3h0M657 451.1h0M588.4 443.3h0M596.5 436.6h0M628.1 431.1h0M587.6 441.3h0M604.8 444h0M634.3 442.6h0M590.3 451.8h0M619.7 451.3h0M632.7 456.5h0M648.1 454.6h0M591 446h0M608.3 446.4h0M587.9 437.1h0M602.3 439.3h0M631.6 439.8h0M653.9 439.2h0M588.1 450.2h0M591.8 448.1h0M627.2 442.8h0M652.3 440.5h0M587.8 446.7h0M641.1 440.1h0M590.5 442h0M627.5 439.8h0M643.7 441.5h0M655.1 441.1h0M597.1 445.9h0M600.6 445.5h0M620.1 443.4h0M587.3 448.8h0M593.9 446.1h0M609.7 446.1h0M587.6 443.8h0M618.6 444.3h0M638.6 446h0M590 451.6h0M595.3 454.3h0M588.7 449.1h0M602.4 444.2h0M587.7 440.4h0M592.1 441.3h0M591.9 446.9h0M599.2 446.2h0M623.7 434.7h0M630.3 431.9h0M587.9 438.4h0M627.1 441.5h0M591.2 441.2h0M639.4 434.1h0M588.6 450.6h0M593.9 448.6h0M613 448.6h0M643.5 448.1h0M587.9 440.5h0M592.8 442.1h0M600.3 442h0M585.6 445h0M596.3 445h0M585.3 432.7h0M598.9 436.9h0M590.2 446.9h0M610.1 449.1h0M616.9 449.8h0M589.2 440.8h0M598.7 440.8h0M625 438.2h0M658.5 435.5h0M585.9 447.4h0M595.8 446.2h0M590.9 443.5h0M602.3 445.5h0M586.9 445.2h0M595.2 447.9h0M606.5 450.3h0M617.9 450.6h0M591.9 439.7h0M640.2 454.9h0M605.8 446.7h0M622 453.7h0M626.6 451.3h0M637.6 449.8h0M590.3 442.1h0M597.4 439.1h0M630.5 445.7h0M586.5 441.9h0M597.2 442.2h0M601.1 450.5h0M597.9 442.6h0M601.7 440.4h0M585.4 453.5h0M636 446.2h0M587.2 441.5h0M644.5 440.2h0M586.8 443.1h0M602.4 449.1h0M592.5 451.5h0M604.7 453.1h0M623.5 452.3h0M649.2 457.8h0M591.8 437.1h0M655.7 436.7h0M587.3 446.8h0M589.8 448.8h0M600 442.6h0M604 446.3h0M589.4 448.7h0M606.4 448.7h0M636.8 450.1h0M646.6 450.2h0M585.6 441.5h0M643.5 454.2h0M587 440.5h0M599.9 438h0M590.4 444.7h0M593.3 448h0M607.2 438.5h0M629.7 438.3h0M655.4 437.7h0M664 433.8h0M587.5 436.6h0M591.4 435.5h0M607.5 444.7h0M625.4 439.9h0M588.6 444h0M625.2 441.5h0M642 443.4h0M590.3 443.3h0M603.1 444.9h0M588.9 450.7h0M603 452.8h0M607.4 449.9h0M636.4 454.4h0M585.3 442.3h0M620.7 441.1h0M589 451.9h0M593.3 448.4h0M616.6 449.5h0M650.9 450.2h0M588.8 449.9h0M597.2 447.4h0M633.5 458.8h0M663.5 458.2h0M586.3 445.3h0M621 434.7h0M586.8 444.1h0M614.5 443.7h0M586.7 449.5h0M602.1 441.4h0M607.3 438.7h0M635.3 430.8h0M591.7 439.1h0M602.8 434.8h0M589 449.1h0M659.6 452.2h0M587.6 448.3h0M595.8 450.3h0M589.9 442.2h0M601.9 447.4h0M612.3 444.9h0M589.9 443.1h0M593 445.4h0M598.9 442.1h0M588.6 446.2h0M594.1 443.3h0M587.3 439.1h0M601 443.3h0M586.8 454.7h0M590.5 446.1h0M626 442.5h0M586.6 440.7h0M623.2 439h0M591.7 443h0M610 443.2h0M588.5 443.9h0M593.9 443.1h0M609.7 443.6h0M646.7 445.6h0M587.4 444.8h0M621.3 437.7h0M586.6 452.2h0M643.3 457.4h0M589.8 444.8h0M597.6 447.9h0M601.6 447h0M586.7 445.4h0M601 443.4h0M591.1 455.1h0M635 459.7h0M653.9 457h0M598.3 445.1h0M607.4 446.8h0M587.7 449.1h0M594.5 451.9h0M615.4 448.5h0M590.4 436.3h0M607.4 439.1h0M635.8 439.8h0M598.3 431.6h0M646.9 441.1h0M596.5 431.8h0M636.2 436.2h0M596 433.8h0M630.2 443.2h0M593.7 434.6h0M641.1 442.3h0M592.3 434h0M623.7 439.4h0M591.4 434.7h0M616.2 440.1h0" stroke="#000" stroke-width="2.15" stroke-linecap="round" fill="none"/>
<polygon points="587,442.7 593.2,442.9 599.4,443 605.6,443.1 611.8,443.1 618,443.2 624.1,443.2 630.3,443.2 636.5,443.1 642.7,443.1 648.9,443 655.1,442.9 661.3,442.7 661.3,445.7 655.1,445.5 648.9,445.4 642.7,445.3 636.5,445.3 630.3,445.2 624.1,445.2 618,445.2 611.8,445.3 605.6,445.3 599.4,445.4 593.2,445.5 587,445.7" fill="#a899d8" fill-opacity="0.65"/>
<polyline points="587,444.2 593.2,444.2 599.4,444.2 605.6,444.2 611.8,444.2 618,444.2 624.1,444.2 630.3,444.2 636.5,444.2 642.7,444.2 648.9,444.2 655.1,444.2 661.3,444.2" fill="none" stroke="#6c59b6" stroke-width="1.2"/>
<text x="479.8" y="36.7" font-size="7.7" text-anchor="end" font-weight="bold" fill="#111" transform="translate(479.8 36.7) scale(1 1.1) translate(-479.8 -36.7)">t1/2: 125 d</text>
<text x="479.8" y="45.7" font-size="8.0" text-anchor="end" fill="#111" transform="translate(479.8 45.7) scale(1 1.1) translate(-479.8 -45.7)">p = 3.1x10<tspan dy="-2.6" font-size="6">-09</tspan></text>
<text x="572.6" y="38.1" font-size="7.7" text-anchor="end" font-weight="bold" fill="#111" transform="translate(572.6 38.1) scale(1 1.1) translate(-572.6 -38.1)">t1/2: 418 d</text>
<text x="572.6" y="47.1" font-size="8.0" text-anchor="end" fill="#111" transform="translate(572.6 47.1) scale(1 1.1) translate(-572.6 -47.1)">p = 3.3x10<tspan dy="-2.6" font-size="6">-05</tspan></text>
<text x="662.8" y="38.1" font-size="7.7" text-anchor="end" font-weight="bold" fill="#111" transform="translate(662.8 38.1) scale(1 1.1) translate(-662.8 -38.1)">t1/2: 225 d</text>
<text x="662.8" y="47.1" font-size="8.0" text-anchor="end" fill="#111" transform="translate(662.8 47.1) scale(1 1.1) translate(-662.8 -47.1)">p = 8.3x10<tspan dy="-2.6" font-size="6">-10</tspan></text>
<text x="478" y="125.95" font-size="7.7" text-anchor="end" font-weight="bold" fill="#111" transform="translate(478 125.95) scale(1 1.1) translate(-478 -125.95)">t1/2: 404 d</text>
<text x="478" y="134.95" font-size="8.0" text-anchor="end" fill="#111" transform="translate(478 134.95) scale(1 1.1) translate(-478 -134.95)">p = 1.7x10<tspan dy="-2.6" font-size="6">-04</tspan></text>
<text x="572.3" y="134.95" font-size="8.0" text-anchor="end" fill="#111" transform="translate(572.3 134.95) scale(1 1.1) translate(-572.3 -134.95)">p = 0.048</text>
<text x="661.8" y="125.95" font-size="7.7" text-anchor="end" font-weight="bold" fill="#111" transform="translate(661.8 125.95) scale(1 1.1) translate(-661.8 -125.95)">t1/2: 236 d</text>
<text x="661.8" y="134.95" font-size="8.0" text-anchor="end" fill="#111" transform="translate(661.8 134.95) scale(1 1.1) translate(-661.8 -134.95)">p = 5.3x10<tspan dy="-2.6" font-size="6">-10</tspan></text>
<text x="478.6" y="223.7" font-size="8.0" text-anchor="end" fill="#111" transform="translate(478.6 223.7) scale(1 1.1) translate(-478.6 -223.7)">p = 0.39</text>
<text x="572.2" y="223.7" font-size="8.0" text-anchor="end" fill="#111" transform="translate(572.2 223.7) scale(1 1.1) translate(-572.2 -223.7)">p = 0.093</text>
<text x="662.9" y="223.7" font-size="8.0" text-anchor="end" fill="#111" transform="translate(662.9 223.7) scale(1 1.1) translate(-662.9 -223.7)">p = 7.9x10<tspan dy="-2.6" font-size="6">-03</tspan></text>
<text x="478.9" y="302.45" font-size="7.7" text-anchor="end" font-weight="bold" fill="#111" transform="translate(478.9 302.45) scale(1 1.1) translate(-478.9 -302.45)">t1/2: 67 d</text>
<text x="478.9" y="311.45" font-size="8.0" text-anchor="end" fill="#111" transform="translate(478.9 311.45) scale(1 1.1) translate(-478.9 -311.45)">p = 2.0x10<tspan dy="-2.6" font-size="6">-19</tspan></text>
<text x="571.7" y="302.45" font-size="7.7" text-anchor="end" font-weight="bold" fill="#111" transform="translate(571.7 302.45) scale(1 1.1) translate(-571.7 -302.45)">t1/2: 321 d</text>
<text x="571.7" y="311.45" font-size="8.0" text-anchor="end" fill="#111" transform="translate(571.7 311.45) scale(1 1.1) translate(-571.7 -311.45)">p = 1.1x10<tspan dy="-2.6" font-size="6">-08</tspan></text>
<text x="665.7" y="311.45" font-size="8.0" text-anchor="end" fill="#111" transform="translate(665.7 311.45) scale(1 1.1) translate(-665.7 -311.45)">p = 3.3x10<tspan dy="-2.6" font-size="6">-04</tspan></text>
<text x="478.5" y="401.2" font-size="8.0" text-anchor="end" fill="#111" transform="translate(478.5 401.2) scale(1 1.1) translate(-478.5 -401.2)">p = 1.2x10<tspan dy="-2.6" font-size="6">-10</tspan></text>
<text x="573.8" y="401.2" font-size="8.0" text-anchor="end" fill="#111" transform="translate(573.8 401.2) scale(1 1.1) translate(-573.8 -401.2)">p = 2.1x10<tspan dy="-2.6" font-size="6">-03</tspan></text>
<text x="664.5" y="401.2" font-size="8.0" text-anchor="end" fill="#111" transform="translate(664.5 401.2) scale(1 1.1) translate(-664.5 -401.2)">p = 0.19</text>
</g>
</svg>
</body></html>
